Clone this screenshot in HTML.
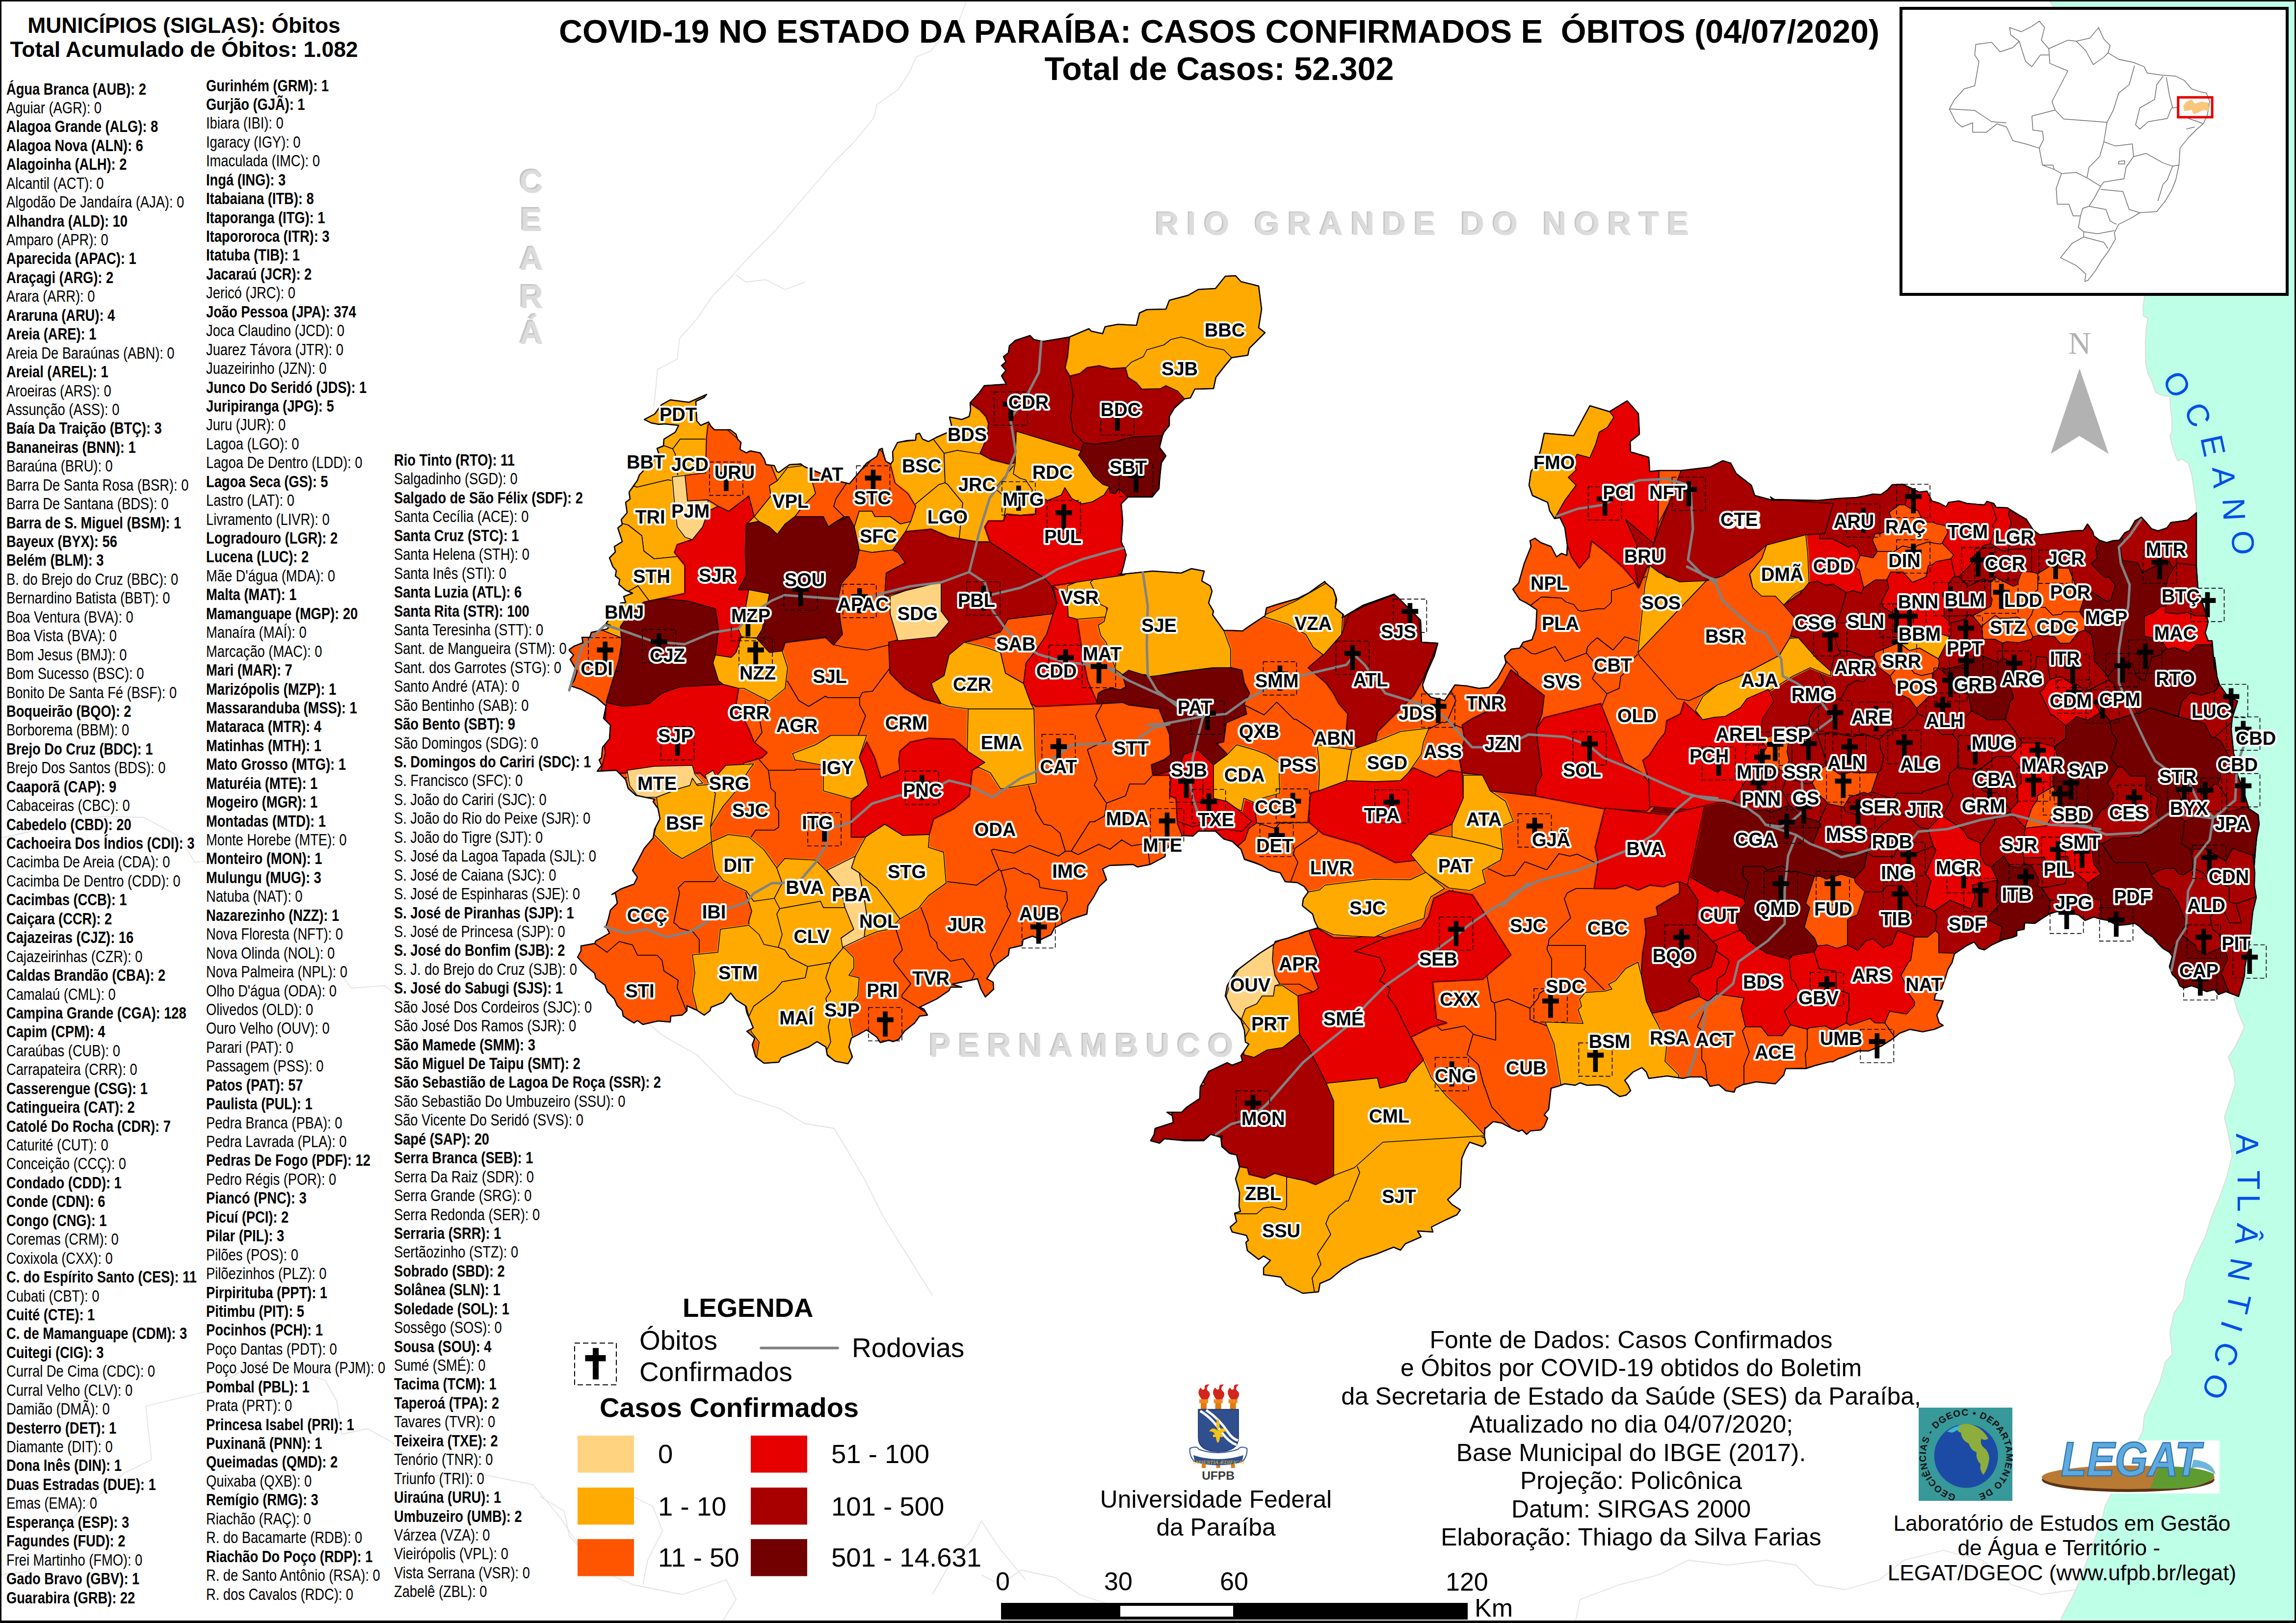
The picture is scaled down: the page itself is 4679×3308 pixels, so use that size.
<!DOCTYPE html>
<html><head><meta charset="utf-8"><title>COVID-19 PB</title><style>
html,body{margin:0;padding:0;background:#fff}
#pg{position:relative;width:4679px;height:3308px;overflow:hidden;background:#fff;font-family:"Liberation Sans",sans-serif;color:#000}
#pg svg{position:absolute;left:0;top:0}
.lst{position:absolute;font-size:33.5px;line-height:38.44px;white-space:nowrap;transform:scaleX(.814);transform-origin:0 0}
.lst .b{font-weight:bold}
.t{position:absolute;white-space:nowrap}
.c{text-align:center}
svg text{font-family:"Liberation Sans",sans-serif}
.lab text{font-size:38px;font-weight:bold;text-anchor:middle;fill:#000;stroke:#fff;stroke-width:8px;stroke-linejoin:round;paint-order:stroke}
</style></head><body>
<div id="pg">
<svg width="4679" height="3308" viewBox="0 0 4679 3308">
<path d="M4175,0 4185,14 4371,603 4367,624 4368,644 4377,649 4374,668 4372,698 4373,742 4377,761 4384,774 4393,800 4410,807 4422,808 4423,831 4426,854 4426,881 4422,888 4426,905 4433,928 4438,939 4447,936 4460,945 4467,970 4472,1005 4476,1032 4476,1046 4476,1045 4476,1154 4479,1201 4492,1240 4500,1267 4497,1280 4494,1290 4500,1306 4508,1306 4513,1364 4513,1340 4518,1379 4523,1395 4539,1418 4560,1429 4549,1463 4547,1486 4549,1507 4552,1536 4557,1549 4560,1580 4568,1601 4575,1622 4583,1648 4602,1661 4604,1680 4599,1706 4596,1732 4594,1764 4591,1740 4595,1779 4594,1805 4598,1829 4591,1858 4589,1876 4586,1907 4581,1939 4575,1970 4574,1988 4570,2004 4562,2031 4552,2033 4560,2061 4574,2094 4555,2133 4541,2155 4552,2183 4555,2211 4544,2244 4533,2277 4541,2311 4549,2355 4538,2399 4522,2444 4508,2477 4494,2521 4472,2566 4455,2610 4449,2649 4430,2677 4422,2716 4427,2760 4413,2776 4402,2815 4386,2851 4370,2885 4367,2916 4335,2980 4302,3046 4290,3069 4286,3088 4252,3184 4233,3234 4221,3260 4202,3295 4198,3308 L4679,3308 L4679,0 Z" fill="#BEFFE8"/>
<path d="M4175,0 4185,14 4371,603 4367,624 4368,644 4377,649 4374,668 4372,698 4373,742 4377,761 4384,774 4393,800 4410,807 4422,808 4423,831 4426,854 4426,881 4422,888 4426,905 4433,928 4438,939 4447,936 4460,945 4467,970 4472,1005 4476,1032 4476,1046 4476,1045 4476,1154 4479,1201 4492,1240 4500,1267 4497,1280 4494,1290 4500,1306 4508,1306 4513,1364 4513,1340 4518,1379 4523,1395 4539,1418 4560,1429 4549,1463 4547,1486 4549,1507 4552,1536 4557,1549 4560,1580 4568,1601 4575,1622 4583,1648 4602,1661 4604,1680 4599,1706 4596,1732 4594,1764 4591,1740 4595,1779 4594,1805 4598,1829 4591,1858 4589,1876 4586,1907 4581,1939 4575,1970 4574,1988 4570,2004 4562,2031 4552,2033 4560,2061 4574,2094 4555,2133 4541,2155 4552,2183 4555,2211 4544,2244 4533,2277 4541,2311 4549,2355 4538,2399 4522,2444 4508,2477 4494,2521 4472,2566 4455,2610 4449,2649 4430,2677 4422,2716 4427,2760 4413,2776 4402,2815 4386,2851 4370,2885 4367,2916 4335,2980 4302,3046 4290,3069 4286,3088 4252,3184 4233,3234 4221,3260 4202,3295 4198,3308" fill="none" stroke="#DCDCDC" stroke-width="2"/>
<text x="2352.0" y="476.7" font-size="66" letter-spacing="16.6" font-weight="bold" fill="#C6C6C6" text-anchor="start">RIO GRANDE DO NORTE</text><text x="2355.0" y="479.2" font-size="66" letter-spacing="16.6" font-weight="bold" fill="#DCDCDC" text-anchor="start">RIO GRANDE DO NORTE</text><text x="1891.0" y="2151.0" font-size="66" letter-spacing="15.5" font-weight="bold" fill="#C6C6C6" text-anchor="start">PERNAMBUCO</text><text x="1894.0" y="2153.5" font-size="66" letter-spacing="15.5" font-weight="bold" fill="#DCDCDC" text-anchor="start">PERNAMBUCO</text><text x="1080.0" y="390.0" font-size="66" letter-spacing="0.0" font-weight="bold" fill="#C6C6C6" text-anchor="middle">C</text><text x="1083.0" y="392.5" font-size="66" letter-spacing="0.0" font-weight="bold" fill="#DCDCDC" text-anchor="middle">C</text><text x="1080.0" y="468.0" font-size="66" letter-spacing="0.0" font-weight="bold" fill="#C6C6C6" text-anchor="middle">E</text><text x="1083.0" y="470.5" font-size="66" letter-spacing="0.0" font-weight="bold" fill="#DCDCDC" text-anchor="middle">E</text><text x="1080.0" y="547.0" font-size="66" letter-spacing="0.0" font-weight="bold" fill="#C6C6C6" text-anchor="middle">A</text><text x="1083.0" y="549.5" font-size="66" letter-spacing="0.0" font-weight="bold" fill="#DCDCDC" text-anchor="middle">A</text><text x="1080.0" y="625.0" font-size="66" letter-spacing="0.0" font-weight="bold" fill="#C6C6C6" text-anchor="middle">R</text><text x="1083.0" y="627.5" font-size="66" letter-spacing="0.0" font-weight="bold" fill="#DCDCDC" text-anchor="middle">R</text><text x="1080.0" y="698.0" font-size="66" letter-spacing="0.0" font-weight="bold" fill="#C6C6C6" text-anchor="middle">Á</text><text x="1083.0" y="700.5" font-size="66" letter-spacing="0.0" font-weight="bold" fill="#DCDCDC" text-anchor="middle">Á</text><g fill="none" stroke="#E2E2E2" stroke-width="1.8" stroke-linejoin="round"><path d="M1495,560 1453,602 1421,649 1385,690 1380,732 1340,753 1335,806 1332,830"/><path d="M1500,560 1520,575 1560,570 1600,590 1640,575"/><path d="M1970,0 1952,49 1921,73 1897,104 1867,116 1854,146 1830,183 1787,213 1781,240 1740,290 1700,330 1640,400 1580,470 1530,520 1494,560"/><path d="M0,1708 209,1664 293,1666 366,1705 397,1758 418,1755"/><path d="M700,1993 716,2014 784,2009 836,2050 878,2150"/><path d="M297,2866 417,2837 537,2769 663,2814 686,2855 697,2923 749,2912 800,2940 858,3009 972,3003 1086,3026 1143,3095 1200,3180"/><path d="M297,2866 309,2975 252,3003 114,3123 57,3203 0,3209"/><path d="M1290,2060 1350,2110 1420,2150 1500,2230 1590,2260 1640,2290 1700,2300 1760,2400 1800,2480 1850,2560 1900,2640"/><path d="M1100,3050 1150,3080 1160,3130 1220,3200 1290,3230 1390,3250 1480,3220 1500,3260 1470,3308"/><path d="M1290,3050 1330,3070 1350,3120 1320,3180 1310,3230"/><path d="M2000,3210 2040,3230 2080,3200 2150,3215 2200,3250 2260,3270 2300,3308"/><path d="M1900,3250 1940,3180 1980,3140 2000,3100 2040,3160 2090,3220"/><path d="M3210,3308 3220,3260 3300,3230 3380,3210 3440,3180 3520,3190 3600,3180 3660,3190 3700,3230 3760,3240 3830,3220 3880,3180 3960,3160 4040,3180 4100,3230 4160,3250 4230,3240"/></g>
<text transform="translate(4437.0,783.0) rotate(62)" x="0" y="23" text-anchor="middle" font-size="64" fill="#0050E6">O</text>
<text transform="translate(4479.7,845.0) rotate(66)" x="0" y="23" text-anchor="middle" font-size="64" fill="#0050E6">C</text>
<text transform="translate(4510.7,908.0) rotate(78)" x="0" y="23" text-anchor="middle" font-size="64" fill="#0050E6">E</text>
<text transform="translate(4532.7,973.0) rotate(86)" x="0" y="23" text-anchor="middle" font-size="64" fill="#0050E6">A</text>
<text transform="translate(4553.4,1038.0) rotate(87)" x="0" y="23" text-anchor="middle" font-size="64" fill="#0050E6">N</text>
<text transform="translate(4571.6,1106.0) rotate(86)" x="0" y="23" text-anchor="middle" font-size="64" fill="#0050E6">O</text>
<text transform="translate(4579.8,2331.7) rotate(90)" x="0" y="23" text-anchor="middle" font-size="64" fill="#0050E6">A</text>
<text transform="translate(4582.5,2405.0) rotate(90)" x="0" y="23" text-anchor="middle" font-size="64" fill="#0050E6">T</text>
<text transform="translate(4582.5,2452.0) rotate(90)" x="0" y="23" text-anchor="middle" font-size="64" fill="#0050E6">L</text>
<text transform="translate(4579.8,2516.0) rotate(96)" x="0" y="23" text-anchor="middle" font-size="64" fill="#0050E6">Â</text>
<text transform="translate(4566.0,2588.0) rotate(100)" x="0" y="23" text-anchor="middle" font-size="64" fill="#0050E6">N</text>
<text transform="translate(4563.0,2657.0) rotate(103)" x="0" y="23" text-anchor="middle" font-size="64" fill="#0050E6">T</text>
<text transform="translate(4549.0,2704.0) rotate(108)" x="0" y="23" text-anchor="middle" font-size="64" fill="#0050E6">I</text>
<text transform="translate(4538.0,2760.0) rotate(110)" x="0" y="23" text-anchor="middle" font-size="64" fill="#0050E6">C</text>
<text transform="translate(4516.0,2826.4) rotate(113)" x="0" y="23" text-anchor="middle" font-size="64" fill="#0050E6">O</text>
<polygon points="4238,751 4179,925 4237.5,888.5 4297,925" fill="#B2B2B2"/>
<text x="4238" y="721" text-anchor="middle" font-size="64" fill="#B2B2B2" style="font-family:'Liberation Serif',serif">N</text>
<g stroke="#000" stroke-width="1.6" stroke-linejoin="round">
<path d="M1418,818 1435,810 1440,804 1404,820 1366,815 1348,825 1334,844 1313,855 1327,862 1343,865 1355,864 1383,867 1376,881 1353,895 1352,908 1371,915 1386,895 1503,895 1500,885 1488,876 1456,876 1449,869 1444,860 1428,867 1420,858Z" fill="#FFAA00"/>
<path d="M1383,982 1376,925 1371,915 1352,908 1339,914 1343,926 1303,968 1299,979 1291,990 1298,993 1361,978Z" fill="#FFAA00"/>
<path d="M1376,925 1383,982 1440,1039 1582,1089 1620,1069 1633,946 1632,945 1609,947 1587,963 1583,961 1578,949 1561,947 1557,935 1549,923 1529,919 1521,923 1508,916 1510,902 1503,895 1386,895 1371,915Z" fill="#FFAA00"/>
<path d="M1383,982 1361,978 1298,993 1291,990 1282,1003 1284,1017 1275,1024 1278,1045 1266,1059 1268,1067 1280,1070 1308,1092 1312,1123 1333,1139 1560,1117 1582,1089 1440,1039Z" fill="#FFAA00"/>
<path d="M1280,1070 1268,1067 1268,1069 1259,1076 1268,1104 1252,1114 1254,1125 1242,1137 1249,1155 1256,1163 1254,1174 1263,1181 1261,1191 1275,1203 1281,1205 1300,1194 1407,1337 1452,1299 1462,1292 1560,1117 1333,1139 1312,1123 1308,1092Z" fill="#FFAA00"/>
<path d="M1805,940 1798,914 1792,916 1787,930 1766,944 1731,986 1714,982 1639,951 1633,946 1620,1069 1712,1133 1734,1137 1913,988 1926,984 1924,924 1902,895 1892,900 1880,895 1874,883 1867,885 1866,897 1829,902 1819,921 1820,939 1815,945Z" fill="#FFAA00"/>
<path d="M1931,987 1926,984 1913,988 1734,1137 1942,1227 1962,1025Z" fill="#FFAA00"/>
<path d="M1398,1346 1407,1337 1300,1194 1281,1205 1289,1209 1271,1216 1275,1228 1265,1229 1235,1271 1244,1275 1237,1282 1226,1284 1271,1302 1339,1315Z" fill="#FFAA00"/>
<path d="M1398,1346 1339,1315 1271,1302 1226,1284 1205,1289 1202,1299 1186,1299 1188,1310 1170,1317 1160,1324 1160,1326 1169,1335 1162,1344 1176,1368 1170,1387 1163,1398 1184,1405 1216,1422 1235,1439 1230,1464 1244,1478 1242,1506 1228,1523 1226,1544 1221,1549 1226,1560 1217,1572 1256,1570 1272,1586 1335,1570 1364,1532 1375,1472 1380,1395Z" fill="#FF5500"/>
<path d="M2278,661 2252,666 2247,680 2224,675 2219,670 2179,687 2125,696 2107,692 2099,684 2069,694 2057,705 2055,719 2045,727 2050,738 2046,740 2112,851 2132,866 2204,906 2233,918 2308,961 2359,998 2362,996 2367,943 2376,929 2363,912 2369,888 2372,881 2383,867 2383,849 2393,832 2414,813 2426,811 2435,793 2473,792 2478,769 2510,729 2543,724 2546,710 2578,678 2565,668 2571,630 2565,583 2529,574 2518,562 2497,563 2477,588 2442,590 2421,602 2383,612 2376,630 2337,631 2322,638 2316,663Z" fill="#FFAA00"/>
<path d="M2112,851 2047,740 2041,745 2050,755 2041,766 2051,783 2006,786 1996,800 1977,821 1978,835 1975,849 1960,855 1935,850 1939,867 1932,881 1902,895 1924,924 1951,918 2009,928 2102,857Z" fill="#FFAA00"/>
<path d="M2132,866 2028,996 2051,1015 2052,1018 2045,1062 2084,1200 2251,1075 2287,1052 2285,1027 2299,1013 2347,1013 2359,998 2308,961 2233,918 2204,906Z" fill="#FFAA00"/>
<path d="M2132,866 2112,851 2102,857 2009,927 1951,918 1924,924 1926,984 1931,987 1962,1025 1942,1227 1980,1258 2001,1265 2015,1267 2062,1224 2084,1200 2045,1062 2052,1018 2051,1015 2028,996Z" fill="#FFAA00"/>
<path d="M1560,1117 1462,1292 1550,1362 1554,1367 1605,1389 1628,1428 1648,1440 1682,1419 1687,1422 1752,1422 1758,1411 1778,1409 1817,1357 1879,1338 1903,1325 1980,1258 1942,1227 1734,1137 1712,1133 1620,1069 1582,1089Z" fill="#FF5500"/>
<path d="M1550,1362 1462,1292 1452,1299 1407,1337 1398,1346 1380,1395 1375,1472 1364,1532 1457,1544 1521,1537 1553,1493 1546,1455 1560,1433 1554,1367Z" fill="#FF5500"/>
<path d="M1560,1433 1546,1455 1553,1493 1521,1537 1546,1547 1566,1570 1621,1570 1622,1568 1729,1568 1730,1550 1730,1549 1764,1459 1752,1437 1752,1422 1687,1422 1682,1419 1648,1440 1628,1428 1605,1389 1554,1367Z" fill="#FF5500"/>
<path d="M1521,1537 1457,1544 1364,1532 1335,1570 1343,1588 1373,1672 1375,1676 1505,1756 1508,1741 1540,1692 1578,1692 1587,1686 1587,1653 1580,1644 1580,1615 1571,1607 1566,1570 1546,1547Z" fill="#FF5500"/>
<path d="M1571,1607 1580,1615 1580,1644 1587,1653 1587,1686 1578,1692 1540,1692 1508,1741 1505,1757 1533,1775 1578,1774 1596,1779 1642,1808 1675,1851 1693,1845 1729,1824 1787,1813 1845,1769 1853,1758 1861,1730 1862,1706 1855,1677 1808,1659 1775,1633 1729,1571 1729,1568 1622,1568 1621,1570 1566,1570Z" fill="#FF5500"/>
<path d="M1778,1409 1758,1411 1752,1422 1752,1437 1764,1459 1730,1549 1730,1550 1729,1571 1775,1633 1808,1659 1855,1677 1885,1629 1909,1578 1962,1560 1973,1551 2031,1523 2048,1428 2034,1296 2015,1267 2001,1265 1980,1258 1903,1325 1879,1338 1817,1357Z" fill="#FF5500"/>
<path d="M1296,1621 1334,1629 1331,1634 1341,1648 1345,1669 1334,1690 1331,1708 1313,1729 1299,1756 1289,1774 1299,1788 1292,1802 1265,1812 1247,1823 1254,1820 1258,1841 1244,1855 1240,1872 1235,1888 1242,1902 1214,1918 1212,1923 1237,1941 1262,1919 1289,1926 1299,1947 1339,1947 1349,1957 1353,1979 1382,1998 1380,2013 1399,2061 1400,2060 1400,2050 1420,2059 1435,2069 1447,2060 1449,2053 1474,2043 1489,2024 1500,2038 1519,2050 1522,2064 1529,2080 1535,2095 1522,2102 1538,2116 1533,2130 1540,2154 1557,2167 1560,2167 1575,2092 1524,2016 1441,1980 1425,1958 1425,1915 1412,1899 1386,1892 1377,1883 1373,1881 1385,1819 1382,1810 1395,1797 1456,1797 1466,1784 1505,1757 1505,1756 1375,1676 1373,1672 1343,1588 1335,1570 1272,1586 1275,1589 1280,1607Z" fill="#FF5500"/>
<path d="M1385,1819 1373,1881 1377,1883 1386,1892 1412,1899 1425,1915 1425,1958 1441,1980 1524,2016 1513,1934 1528,1901 1526,1878 1532,1857 1520,1820 1533,1775 1505,1757 1466,1784 1456,1797 1395,1797 1382,1810Z" fill="#FF5500"/>
<path d="M1212,1923 1184,1928 1184,1938 1177,1951 1191,1966 1212,1984 1214,1994 1233,2008 1238,2022 1252,2036 1258,2050 1268,2060 1270,2071 1292,2085 1299,2080 1310,2088 1341,2081 1366,2083 1367,2071 1390,2069 1399,2061 1380,2013 1382,1998 1353,1979 1349,1957 1339,1947 1299,1947 1289,1926 1262,1919 1237,1941Z" fill="#FF5500"/>
<path d="M1520,1820 1532,1857 1526,1878 1528,1901 1513,1934 1524,2016 1575,2092 1632,2034 1636,2028 1646,1998 1673,1855 1675,1851 1642,1808 1596,1779 1578,1774 1533,1775Z" fill="#FFAA00"/>
<path d="M1787,1813 1815,1884 1826,1895 1839,1936 1822,1955 1821,1960 1856,2005 1838,2028 1838,2033 1886,2063 1883,2057 1874,2053 1909,2036 1934,2019 1937,2012 1960,2012 1940,2006 1980,1998 1986,1985 1963,1954 1937,1959 1911,1933 1909,1921 1896,1908 1891,1888 1891,1886 1845,1769Z" fill="#FF5500"/>
<path d="M1898,1793 1853,1758 1845,1769 1891,1886 1891,1888 1896,1908 1909,1921 1911,1933 1937,1959 1963,1954 1986,1985 1980,1998 1992,1995 1999,2016 2008,2032 2025,2016 2024,2002 2011,1995 2027,1971 2018,1945 2060,1862 2052,1847 2053,1843 2048,1829 2051,1813 2040,1775 2036,1772 1990,1804Z" fill="#FF5500"/>
<path d="M1787,1813 1729,1824 1693,1845 1675,1851 1672,1855 1646,1998 1636,2028 1632,2034 1575,2092 1560,2167 1587,2165 1592,2156 1648,2134 1665,2123 1683,2134 1686,2151 1702,2163 1728,2168 1737,2154 1730,2134 1735,2116 1766,2099 1787,2114 1794,2125 1812,2120 1820,2123 1832,2118 1843,2102 1864,2085 1874,2071 1890,2069 1886,2063 1838,2033 1838,2028 1856,2005 1821,1960 1822,1955 1839,1936 1826,1895 1815,1884Z" fill="#FF5500"/>
<path d="M2015,1267 2034,1296 2162,1382 2176,1407 2246,1435 2257,1428 2273,1430 2387,1359 2395,1351 2383,1292 2405,1168 2349,1164 2280,1171 2285,1170 2295,1131 2290,1114 2290,1117 2285,1104 2288,1062 2287,1052 2251,1075 2084,1200 2062,1224ZM2348,1013 2348,1013 2347,1013Z" fill="#FF5500"/>
<path d="M2034,1296 2048,1428 2031,1523 2075,1559 2080,1570 2086,1574 2111,1647 2110,1652 2127,1680 2142,1683 2160,1698 2171,1735 2183,1735 2221,1675 2230,1675 2251,1663 2255,1637 2230,1600 2236,1588 2216,1528 2254,1509 2233,1459 2246,1435 2176,1407 2163,1382Z" fill="#FF5500"/>
<path d="M2437,1404 2395,1351 2387,1359 2273,1430 2257,1428 2246,1435 2233,1459 2254,1509 2216,1528 2236,1588 2230,1600 2255,1637 2294,1622 2302,1598 2333,1598 2369,1558 2437,1544 2439,1543 2437,1534Z" fill="#FF5500"/>
<path d="M2561,1677 2557,1647 2530,1580 2530,1576 2514,1566 2488,1563 2439,1543 2437,1544 2403,1622 2408,1643 2399,1678 2409,1704 2410,1703 2431,1704 2442,1694 2477,1694 2494,1710 2511,1715 2522,1725 2537,1712 2545,1689Z" fill="#E60000"/>
<path d="M2524,1431 2520,1431 2462,1405 2437,1403 2437,1534 2439,1543 2488,1563 2514,1566 2530,1576 2599,1576 2623,1565 2694,1565 2681,1502 2674,1488 2641,1466 2637,1466 2602,1431 2576,1457Z" fill="#FF5500"/>
<path d="M2668,1208 2644,1220 2581,1239 2578,1255 2532,1286 2494,1285 2471,1253 2473,1246 2463,1229 2470,1205 2466,1194 2449,1184 2454,1164 2428,1159 2407,1168 2405,1168 2383,1292 2395,1351 2437,1404 2462,1405 2520,1431 2524,1431 2576,1457 2602,1431 2637,1466 2641,1466 2674,1488 2681,1502 2694,1565 2762,1604 2778,1445 2787,1427 2784,1387 2744,1340 2737,1314 2714,1284 2684,1196Z" fill="#FF5500"/>
<path d="M2599,1576 2530,1576 2530,1580 2557,1647 2561,1677 2599,1689 2608,1677 2694,1677 2717,1645 2762,1605 2694,1565 2623,1565Z" fill="#FF5500"/>
<path d="M2369,1558 2333,1598 2302,1598 2294,1622 2255,1637 2251,1663 2230,1675 2221,1675 2183,1735 2197,1742 2239,1721 2262,1731 2286,1712 2306,1724 2338,1719 2347,1711 2383,1725 2409,1704 2399,1678 2408,1643 2403,1622 2437,1544Z" fill="#FF5500"/>
<path d="M2075,1559 2031,1522 1973,1551 1962,1560 1909,1578 1885,1629 1855,1677 1862,1706 1861,1730 1853,1758 1898,1793 1990,1804 2036,1772 2020,1733 2025,1731 2067,1739 2097,1725 2098,1723 2157,1745 2171,1735 2160,1698 2142,1683 2127,1680 2110,1652 2111,1647 2087,1574 2080,1570Z" fill="#FF5500"/>
<path d="M2347,1711 2338,1719 2343,1762 2374,1746 2376,1731 2383,1725Z" fill="#FF5500"/>
<path d="M2020,1733 2036,1772 2040,1775 2067,1769 2089,1781 2097,1781 2117,1794 2119,1809 2174,1818 2175,1835 2161,1863 2165,1883 2184,1873 2215,1863 2217,1846 2229,1828 2240,1807 2255,1793 2247,1771 2261,1764 2309,1762 2318,1767 2343,1762 2338,1719 2306,1724 2286,1712 2262,1731 2239,1721 2197,1742 2183,1735 2171,1735 2157,1745 2098,1723 2097,1724 2067,1739 2025,1731Z" fill="#FF5500"/>
<path d="M2048,1829 2053,1843 2052,1847 2060,1862 2018,1945 2027,1971 2032,1964 2055,1947 2057,1933 2083,1927 2085,1915 2104,1908 2121,1915 2142,1905 2149,1891 2165,1883 2161,1863 2175,1835 2174,1818 2119,1809 2117,1794 2097,1781 2089,1781 2067,1769 2040,1775 2051,1813Z" fill="#FF5500"/>
<path d="M2683,1699 2694,1677 2608,1677 2599,1689 2561,1677 2545,1689 2537,1712 2522,1725 2529,1731 2536,1752 2571,1764 2588,1774 2609,1779 2619,1797 2630,1798 2645,1758 2636,1740 2639,1729ZM2518,1980 2501,2009 2497,2030 2511,2058 2521,2069 2573,1939Z" fill="#FF5500"/>
<path d="M2683,1699 2639,1729 2636,1740 2645,1758 2630,1798 2644,1799 2658,1807 2666,1818 2656,1832 2654,1846 2675,1863 2679,1877 2686,1891 2653,1901 2625,1912 2599,1919 2597,1924 2573,1939 2521,2069 2529,2079 2531,2086 2595,2098 2728,2010 2781,1947 2840,1914 2887,1897 2920,1890 2950,1849 2981,1747 2979,1706 2969,1684 2905,1663 2860,1659 2845,1655 2796,1617 2783,1614 2762,1605 2717,1645 2694,1677Z" fill="#FF5500"/>
<path d="M2615,2466 2619,2465 2622,2459 2622,2221 2631,2158 2630,2144 2595,2098 2531,2086 2536,2100 2538,2124 2545,2128 2529,2152 2532,2163 2511,2171 2501,2166 2463,2184 2446,2215 2445,2239 2418,2257 2408,2267 2378,2267 2389,2274 2391,2288 2354,2300 2352,2312 2345,2325 2363,2330 2373,2321 2415,2325 2453,2325 2467,2312 2488,2318 2490,2337 2506,2351 2520,2354 2526,2379 2518,2403 2526,2431 2525,2459 2528,2469 2516,2473 2516,2474 2561,2474 2575,2462 2593,2460Z" fill="#FFAA00"/>
<path d="M2615,2466 2593,2460 2575,2462 2561,2474 2516,2474 2520,2490 2507,2501 2511,2511 2540,2518 2544,2528 2539,2532 2542,2549 2565,2567 2575,2560 2589,2569 2575,2584 2575,2598 2610,2603 2621,2619 2655,2636 2679,2634 2674,2605 2692,2577 2685,2556 2712,2516 2702,2494 2709,2477 2743,2448 2748,2448 2771,2390 2687,2180 2630,2144 2631,2158 2622,2221 2622,2459 2619,2465Z" fill="#FFAA00"/>
<path d="M2743,2448 2709,2477 2702,2494 2712,2516 2685,2556 2692,2577 2674,2605 2679,2634 2687,2633 2690,2616 2711,2607 2736,2586 2770,2567 2805,2556 2840,2542 2854,2548 2864,2535 2896,2521 2889,2509 2920,2511 2917,2501 2945,2487 2969,2476 2976,2466 2959,2455 2950,2445 2976,2420 2979,2361 2986,2344 2995,2328 3021,2337 3028,2330 3026,2320 2971,2295 2949,2295 2923,2281 2907,2279 2760,2211 2687,2180 2771,2390 2748,2448Z" fill="#FFAA00"/>
<path d="M2687,2180 2760,2211 2907,2279 2923,2281 2949,2295 2971,2295 3026,2320 3025,2316 3026,2299 3027,2300 3043,2286 3060,2289 3081,2300 3040,2256 3025,2213 3024,2212 3013,2170 2990,2149 3002,2108 3001,2106 2985,2091 2938,2100 2894,2062 2727,2010 2595,2098 2630,2144Z" fill="#FF5500"/>
<path d="M3185,2103 3118,2078 3118,2055 3073,2036 3045,2044 3047,2060 3048,2063 3048,2120 3002,2108 2990,2149 3013,2170 3024,2212 3025,2213 3040,2256 3081,2300 3095,2306 3102,2303 3111,2312 3119,2305 3140,2303 3147,2296 3154,2279 3147,2272 3156,2261 3161,2218 3175,2214 3189,2209 3210,2212 3220,2207 3234,2212 3259,2211 3276,2216 3287,2226 3296,2232 3293,2180 3289,2166 3205,2130Z" fill="#FF5500"/>
<path d="M2853,1222 2841,1211 2777,1234 2735,1259 2738,1253 2721,1239 2724,1222 2717,1201 2700,1187 2700,1185 2684,1196 2714,1284 2737,1314 2744,1340 2784,1387 2841,1370 2861,1373 2865,1372 2906,1376 2923,1337 2930,1311 2897,1309 2895,1264Z" fill="#A80000"/>
<path d="M2944,1473 2949,1471 2967,1428 2957,1408 2944,1428 2916,1421 2902,1407 2899,1396 2906,1376 2865,1372 2861,1373 2841,1370 2784,1387 2787,1427 2778,1445 2762,1604 2762,1605 2783,1614 2796,1617 2864,1531 2878,1519 2881,1502 2939,1472Z" fill="#FF5500"/>
<path d="M3068,1346 3069,1351 3052,1382 3034,1401 3014,1403 2989,1398 2965,1396 2957,1408 2967,1428 2949,1471 3050,1513 3083,1528 3084,1481 3102,1413 3093,1371Z" fill="#FF5500"/>
<path d="M2949,1471 2944,1473 2939,1472 2881,1502 2878,1519 2864,1531 2796,1617 2845,1655 2860,1659 2905,1663 2969,1684 3041,1592 3052,1583 3088,1535 3083,1527 3050,1513Z" fill="#FF5500"/>
<path d="M3263,1582 3201,1550 3185,1552 3179,1549 3088,1535 3052,1583 3041,1592 2969,1684 2979,1706 2981,1747 3066,1786 3087,1784 3107,1757 3109,1757 3152,1773 3177,1740 3199,1745 3214,1741 3280,1772 3339,1743 3359,1712 3359,1676 3355,1664 3345,1658Z" fill="#FF5500"/>
<path d="M3240,827 3207,888 3147,883 3140,916 3130,947 3120,961 3116,989 3123,1010 3154,1024 3158,1041 3168,1057 3179,1055 3189,1076 3194,1111 3193,1132 3182,1128 3172,1135 3161,1114 3140,1106 3128,1097 3118,1102 3120,1114 3106,1149 3095,1188 3083,1201 3097,1222 3119,1234 3136,1221 3141,1217 3152,1217 3182,1219 3191,1227 3206,1232 3216,1244 3224,1246 3255,1241 3269,1241 3280,1232 3284,1227 3284,1204 3315,1195 3492,1107 3490,1092 3461,968 3460,955 3426,959 3381,959 3362,961 3360,932 3323,921 3322,900 3341,885 3339,843 3316,817 3280,839Z" fill="#FF5500"/>
<path d="M3136,1221 3119,1234 3132,1243 3130,1281 3122,1304 3104,1309 3100,1316 3121,1332 3129,1333 3169,1318 3189,1348 3233,1331 3235,1319 3243,1310 3255,1300 3287,1325 3311,1298 3358,1313 3508,1283 3522,1244 3514,1215 3511,1187 3492,1107 3315,1195 3284,1204 3284,1227 3280,1232 3269,1241 3255,1241 3224,1246 3216,1244 3207,1232 3191,1227 3182,1219 3141,1217Z" fill="#FF5500"/>
<path d="M3097,1321 3080,1323 3066,1337 3068,1346 3093,1371 3102,1413 3084,1481 3083,1528 3088,1535 3179,1549 3185,1552 3201,1550 3249,1479 3249,1477 3275,1414 3245,1383 3255,1364 3254,1356 3233,1331 3189,1348 3169,1318 3129,1333 3121,1332 3100,1316Z" fill="#FF5500"/>
<path d="M3358,1313 3311,1298 3287,1325 3255,1300 3243,1310 3235,1319 3233,1331 3254,1356 3255,1364 3245,1383 3275,1414 3300,1403 3303,1379 3314,1368 3315,1356Z" fill="#FF5500"/>
<path d="M3358,1313 3315,1356 3314,1368 3303,1379 3300,1403 3275,1414 3249,1477 3249,1479 3201,1550 3263,1583 3345,1658 3355,1664 3451,1563 3455,1557 3481,1541 3496,1525 3499,1520 3507,1417 3501,1375 3499,1327 3508,1291 3508,1283Z" fill="#FF5500"/>
<path d="M3791,1132 3785,1118 3776,1112 3767,1115 3736,1099 3735,1098 3708,1098 3708,1055 3645,1019 3616,1018 3608,1013 3614,1020 3576,1010 3569,989 3538,965 3533,955 3508,940 3485,952 3460,955 3461,968 3490,1092 3492,1107 3511,1187 3514,1215 3522,1244 3652,1272 3685,1258 3715,1224 3776,1204 3793,1209 3799,1198 3789,1162 3781,1157Z" fill="#E60000"/>
<path d="M3705,1020 3645,1019 3708,1055 3708,1098 3735,1098 3736,1099 3767,1115 3776,1112 3785,1118 3791,1132 3817,1137 3826,1124 3816,1101 3821,1088 3831,1088 3860,1077 3850,1044 3870,1029 3882,1029 3892,994 3877,987 3856,988 3846,999 3833,1008 3817,1007 3783,1014 3746,1016ZM3511,939 3508,941 3533,955 3527,944Z" fill="#A80000"/>
<path d="M3861,1076 3831,1088 3821,1088 3816,1101 3826,1124 3853,1124 3857,1126 3877,1113 3902,1118 3907,1112 3928,1105 3954,1109 3958,1107 3970,1085 3964,1071 3944,1067 3940,1064 3920,1064 3909,1041 3891,1035 3882,1029 3870,1029 3850,1044Z" fill="#FF5500"/>
<path d="M3907,1112 3902,1118 3877,1113 3857,1126 3853,1124 3826,1124 3817,1137 3791,1132 3781,1157 3789,1162 3798,1198 3822,1182 3845,1182 3853,1166 3878,1166 3897,1187 3925,1176 3930,1153 3938,1151 3945,1145 3976,1139 3982,1131 3958,1107 3954,1109 3928,1105Z" fill="#FF5500"/>
<path d="M3909,1041 3920,1064 3940,1064 3944,1067 3964,1071 3970,1085 3958,1107 3981,1131 3976,1139 3984,1175 3992,1175 4019,1148 4021,1134 4027,1132 4042,1112 4056,1108 4065,1080 4060,1071 4069,1058 4058,1025 4049,1022 4044,1029 4008,1026 3992,1021 3971,1024 3966,1033 3953,1026 3937,1021 3927,1001 3911,1003 3892,994 3882,1029 3891,1035Z" fill="#E60000"/>
<path d="M3849,1198 3834,1227 3838,1238 3868,1256 3868,1286 3870,1291 3907,1286 3920,1301 3937,1301 3945,1289 3973,1298 3976,1296 3976,1270 3962,1257 3962,1240 3982,1231 3985,1221 3970,1191 3980,1177 3984,1175 3976,1139 3945,1145 3938,1151 3930,1153 3925,1176 3897,1187 3878,1166 3853,1166 3845,1182Z" fill="#E60000"/>
<path d="M4099,1067 4093,1047 4096,1038 4091,1035 4068,1034 4063,1026 4058,1025 4069,1058 4060,1071 4065,1080 4056,1108 4081,1123 4091,1122 4100,1096 4092,1083Z" fill="#E60000"/>
<path d="M4092,1120 4140,1118 4141,1120 4140,1121 4140,1166 4153,1169 4179,1153 4186,1158 4216,1158 4232,1199 4264,1207 4293,1226 4302,1223 4311,1193 4298,1175 4290,1177 4262,1149 4273,1138 4274,1132 4271,1118 4279,1101 4267,1092 4265,1084 4254,1068 4246,1081 4225,1082 4157,1090 4144,1081 4129,1058 4096,1038 4093,1047 4099,1067 4092,1083 4100,1096Z" fill="#A80000"/>
<path d="M4026,1132 4021,1134 4019,1148 3992,1175 4012,1195 4041,1180 4057,1185 4067,1177 4103,1195 4110,1193 4119,1168 4122,1165 4140,1166 4140,1121 4141,1120 4140,1118 4092,1120 4091,1122 4081,1123 4056,1108 4042,1112Z" fill="#A80000"/>
<path d="M3984,1175 3980,1177 3970,1191 3985,1221 3982,1231 3962,1240 3962,1257 3976,1270 4005,1262 4011,1254 4013,1253 4020,1255 4057,1236 4060,1221 4057,1217 4057,1185 4041,1180 4012,1195 3992,1175Z" fill="#A80000"/>
<path d="M4103,1195 4067,1177 4057,1185 4057,1217 4060,1221 4057,1236 4020,1255 4038,1277 4066,1254 4074,1260 4092,1260 4111,1258 4130,1267 4140,1254 4145,1238 4139,1224 4141,1211 4153,1202 4153,1169 4140,1166 4122,1165 4119,1168 4110,1192Z" fill="#FF5500"/>
<path d="M4216,1158 4186,1158 4179,1153 4153,1169 4153,1202 4141,1211 4139,1224 4145,1238 4168,1238 4183,1254 4201,1252 4205,1247 4238,1247 4252,1205 4232,1199Z" fill="#FF5500"/>
<path d="M4111,1258 4092,1260 4074,1260 4066,1254 4038,1277 4041,1303 4065,1303 4081,1311 4089,1308 4114,1310 4140,1303 4143,1298 4131,1272 4130,1267Z" fill="#FF5500"/>
<path d="M4145,1238 4140,1253 4130,1267 4131,1272 4143,1298 4155,1295 4182,1297 4187,1298 4198,1311 4218,1311 4235,1289 4249,1284 4249,1263 4238,1247 4205,1247 4201,1252 4183,1254 4168,1238Z" fill="#FF5500"/>
<path d="M3976,1270 3976,1296 3973,1298 3950,1343 3952,1348 3950,1362 3957,1366 4020,1351 4023,1330 4072,1350 4081,1341 4081,1311 4065,1303 4041,1303 4038,1277 4020,1255 4013,1253 4011,1254 4005,1262Z" fill="#A80000"/>
<path d="M3776,1204 3715,1224 3685,1258 3652,1272 3687,1318 3773,1328 3801,1340 3819,1338 3821,1330 3870,1310 3870,1291 3868,1286 3868,1256 3838,1238 3834,1227 3849,1198 3845,1182 3822,1182 3798,1198 3793,1209Z" fill="#A80000"/>
<path d="M3870,1291 3871,1310 3891,1326 3912,1321 3950,1343 3973,1298 3945,1289 3937,1301 3920,1301 3907,1286Z" fill="#FFAA00"/>
<path d="M3821,1330 3819,1338 3826,1352 3827,1360 3852,1378 3865,1362 3893,1362 3901,1372 3916,1377 3938,1372 3950,1362 3952,1348 3949,1342 3912,1321 3891,1326 3870,1310Z" fill="#FF5500"/>
<path d="M3699,1347 3699,1352 3735,1425 3752,1425 3766,1397 3784,1387 3797,1390 3828,1360 3826,1352 3819,1338 3801,1340 3773,1328 3687,1318Z" fill="#A80000"/>
<path d="M4114,1310 4089,1308 4081,1311 4081,1341 4108,1355 4111,1370 4126,1376 4148,1362 4150,1338 4171,1340 4178,1385 4194,1381 4202,1381 4225,1396 4234,1396 4251,1410 4297,1386 4296,1378 4268,1347 4267,1337 4269,1334 4262,1293 4249,1284 4235,1289 4218,1311 4198,1311 4187,1298 4182,1297 4155,1295 4143,1298 4140,1303Z" fill="#A80000"/>
<path d="M4290,1177 4298,1175 4311,1193 4302,1223 4293,1226 4264,1207 4252,1205 4238,1247 4249,1263 4249,1284 4262,1293 4269,1334 4267,1337 4268,1347 4296,1378 4323,1345 4345,1353 4353,1379 4366,1386 4371,1386 4385,1340 4403,1335 4415,1322 4406,1304 4404,1303 4370,1297 4370,1256 4388,1249 4402,1237 4412,1236 4458,1201 4442,1186 4421,1145 4414,1143 4366,1167 4357,1147 4325,1142 4321,1116 4326,1098 4324,1095 4319,1101 4306,1102 4293,1106 4279,1101 4271,1118 4274,1132 4273,1138 4262,1149Z" fill="#730000"/>
<path d="M4476,1045 4458,1060 4424,1065 4416,1076 4398,1082 4385,1078 4364,1054 4351,1061 4340,1081 4330,1086 4324,1095 4326,1098 4321,1116 4325,1142 4357,1147 4366,1167 4414,1143 4421,1145 4442,1186 4458,1201 4480,1204 4476,1154Z" fill="#A80000"/>
<path d="M4500,1267 4480,1204 4458,1201 4412,1236 4402,1237 4388,1249 4370,1256 4370,1297 4404,1303 4405,1304 4415,1322 4420,1323 4431,1320 4460,1330 4476,1314 4508,1314 4508,1306 4500,1306 4494,1290Z" fill="#E60000"/>
<path d="M4403,1335 4385,1340 4371,1386 4366,1386 4354,1379 4345,1353 4323,1345 4296,1378 4297,1386 4308,1394 4309,1401 4325,1425 4343,1434 4356,1453 4358,1455 4382,1443 4439,1460 4446,1430 4464,1412 4487,1417 4515,1408 4523,1395 4518,1379 4513,1340 4513,1364 4508,1314 4476,1314 4460,1330 4431,1320 4420,1323 4415,1322Z" fill="#730000"/>
<path d="M3649,1485 3579,1511 3546,1517 3505,1520 3637,1573 3646,1550 3642,1532Z" fill="#FF5500"/>
<path d="M3706,1621 3719,1630 3724,1638 3757,1645 3769,1625 3798,1615 3807,1618 3814,1614 3827,1575 3778,1575 3775,1573 3751,1579 3721,1560 3706,1572 3693,1596Z" fill="#FF5500"/>
<path d="M3857,1393 3862,1397 3870,1414 3892,1425 3906,1444 3938,1412 3938,1372 3916,1377 3901,1372 3893,1362 3865,1362 3852,1378Z" fill="#FF5500"/>
<path d="M3451,1563 3355,1664 3359,1676 3359,1712 3427,1767 3432,1781 3500,1819 3507,1813 3554,1832 3563,1799 3552,1785 3552,1766 3593,1766 3602,1774 3632,1765 3649,1778 3659,1776 3698,1786 3709,1786 3722,1792 3752,1782 3779,1790 3799,1769 3805,1737 3760,1737 3743,1732 3735,1735 3693,1723 3710,1680 3707,1675 3664,1661 3664,1658 3652,1645 3646,1641 3608,1656 3599,1650 3569,1653 3545,1648 3481,1541 3458,1555Z" fill="#730000"/>
<path d="M4111,1370 4108,1355 4081,1341 4072,1350 4023,1330 4020,1350 3957,1366 3994,1403 3996,1408 4012,1417 4018,1449 4046,1463 4049,1467 4087,1467 4097,1428 4104,1423 4094,1390Z" fill="#730000"/>
<path d="M3929,1690 3940,1725 3945,1733 3925,1779 3925,1783 3935,1795 3922,1847 3942,1857 3974,1835 4015,1852 4017,1852 4025,1829 4019,1804 4071,1794 4058,1767 4045,1761 4036,1743 4036,1718 4011,1708 4000,1690 3959,1663 3955,1664Z" fill="#E60000"/>
<path d="M3508,1291 3499,1327 3501,1375 3507,1417 3499,1520 3546,1517 3579,1511 3649,1485 3686,1476 3688,1462 3700,1443 3735,1425 3699,1352 3699,1347 3687,1318 3652,1272 3522,1244 3508,1283Z" fill="#A80000"/>
<path d="M3828,1360 3797,1390 3784,1387 3766,1397 3751,1425 3735,1425 3700,1443 3688,1462 3686,1476 3705,1498 3734,1492 3777,1502 3795,1495 3830,1507 3849,1488 3880,1482 3908,1455 3906,1444 3892,1425 3870,1414 3862,1397 3857,1393 3852,1378Z" fill="#A80000"/>
<path d="M3957,1366 3950,1362 3938,1372 3938,1412 3906,1444 3908,1455 3920,1460 3957,1497 3979,1497 3986,1482 4018,1449 4012,1417 3996,1408 3994,1403Z" fill="#A80000"/>
<path d="M3986,1482 3979,1497 3990,1510 3990,1563 4030,1571 4059,1550 4060,1547 4069,1542 4098,1542 4121,1514 4103,1486 4087,1467 4049,1467 4046,1463 4018,1449Z" fill="#A80000"/>
<path d="M3908,1455 3880,1482 3849,1488 3830,1507 3833,1529 3839,1541 3833,1569 3827,1575 3814,1614 3858,1629 3866,1617 3917,1617 3918,1614 3970,1597 3973,1577 3990,1563 3990,1510 3979,1497 3957,1497 3920,1460Z" fill="#A80000"/>
<path d="M3830,1507 3795,1495 3777,1502 3734,1492 3705,1498 3705,1501 3722,1553 3721,1560 3751,1579 3775,1573 3778,1575 3827,1575 3833,1569 3839,1541 3833,1529Z" fill="#A80000"/>
<path d="M3705,1498 3686,1476 3649,1485 3642,1532 3646,1550 3637,1573 3638,1582 3640,1585 3682,1598 3693,1596 3706,1572 3721,1560 3722,1553 3705,1501Z" fill="#A80000"/>
<path d="M3640,1585 3632,1612 3646,1641 3652,1645 3664,1658 3664,1661 3707,1675 3724,1638 3719,1630 3706,1621 3693,1596 3682,1598Z" fill="#A80000"/>
<path d="M3496,1525 3481,1541 3545,1648 3569,1653 3599,1650 3608,1656 3646,1641 3632,1612 3604,1619 3582,1600 3579,1594Z" fill="#A80000"/>
<path d="M3496,1525 3579,1594 3582,1600 3604,1619 3632,1612 3640,1585 3638,1582 3637,1573 3505,1520 3499,1520Z" fill="#A80000"/>
<path d="M3781,1660 3800,1699 3813,1705 3838,1678 3844,1676 3862,1658 3858,1629 3814,1614 3807,1618 3798,1615 3769,1625 3757,1645 3761,1654Z" fill="#A80000"/>
<path d="M3959,1663 3980,1622 3970,1597 3918,1614 3917,1617 3866,1617 3858,1629 3862,1658 3889,1663 3912,1686 3929,1690 3955,1664Z" fill="#A80000"/>
<path d="M3970,1597 3980,1622 3959,1663 4000,1690 4011,1708 4036,1718 4040,1716 4065,1678 4065,1670 4096,1655 4097,1651 4069,1614 4055,1618 4039,1610 4030,1571 3990,1563 3973,1577Z" fill="#A80000"/>
<path d="M4120,1597 4120,1567 4098,1542 4069,1542 4060,1547 4059,1550 4030,1571 4039,1610 4055,1618 4069,1614 4097,1651 4112,1635 4112,1602Z" fill="#A80000"/>
<path d="M3710,1680 3693,1723 3735,1735 3743,1732 3760,1737 3805,1737 3814,1716 3813,1705 3801,1699 3781,1660 3761,1654 3757,1645 3724,1638 3707,1675Z" fill="#A80000"/>
<path d="M3889,1663 3862,1658 3844,1676 3838,1678 3813,1705 3814,1716 3805,1738 3818,1746 3860,1746 3863,1736 3878,1727 3896,1740 3901,1740 3940,1725 3929,1690 3912,1686Z" fill="#A80000"/>
<path d="M3863,1736 3860,1746 3818,1746 3805,1738 3799,1769 3779,1790 3781,1799 3800,1818 3835,1818 3845,1805 3877,1805 3903,1845 3917,1848 3922,1847 3935,1795 3925,1783 3925,1779 3945,1733 3940,1725 3901,1740 3896,1740 3878,1727Z" fill="#A80000"/>
<path d="M4040,1716 4036,1718 4036,1743 4045,1761 4058,1767 4084,1744 4095,1765 4116,1769 4125,1759 4124,1748 4122,1733 4130,1718 4125,1696 4128,1688 4127,1686 4096,1655 4065,1670 4065,1678Z" fill="#A80000"/>
<path d="M4560,1429 4539,1418 4523,1395 4515,1408 4487,1417 4464,1412 4446,1430 4439,1460 4439,1461 4492,1474 4507,1503 4513,1503 4547,1473 4548,1473 4549,1463Z" fill="#A80000"/>
<path d="M4526,1511 4546,1549 4525,1565 4525,1586 4519,1598 4538,1626 4538,1656 4582,1644 4575,1622 4560,1580 4557,1549 4552,1536 4547,1486 4548,1473 4547,1473 4513,1503Z" fill="#A80000"/>
<path d="M4358,1455 4356,1453 4300,1470 4304,1496 4310,1501 4314,1510 4302,1546 4316,1563 4326,1564 4342,1582 4373,1582 4373,1611 4398,1626 4393,1655 4400,1668 4397,1684 4355,1705 4348,1704 4340,1708 4306,1708 4283,1720 4309,1758 4372,1758 4385,1783 4394,1777 4412,1770 4431,1770 4441,1782 4450,1783 4470,1770 4465,1732 4445,1719 4447,1714 4452,1674 4435,1657 4445,1628 4433,1601 4455,1591 4488,1618 4493,1618 4512,1599 4519,1598 4525,1586 4525,1565 4546,1549 4526,1511 4513,1503 4507,1503 4492,1474 4439,1461 4382,1443Z" fill="#730000"/>
<path d="M4342,1582 4326,1564 4316,1563 4295,1596 4308,1621 4306,1627 4291,1648 4283,1649 4263,1680 4279,1720 4283,1720 4306,1708 4340,1708 4348,1704 4355,1705 4397,1684 4400,1668 4393,1655 4398,1626 4373,1611 4373,1582Z" fill="#A80000"/>
<path d="M4433,1601 4445,1628 4435,1657 4452,1674 4483,1662 4508,1668 4512,1671 4538,1655 4538,1626 4519,1598 4512,1599 4493,1618 4488,1618 4455,1591Z" fill="#A80000"/>
<path d="M4602,1661 4583,1648 4582,1644 4538,1655 4512,1671 4508,1668 4483,1662 4452,1674 4447,1714 4445,1719 4465,1732 4496,1730 4498,1733 4536,1755 4550,1729 4586,1743 4596,1743 4599,1706 4604,1680Z" fill="#730000"/>
<path d="M4550,1729 4536,1755 4498,1733 4496,1730 4465,1732 4470,1770 4490,1779 4502,1796 4509,1794 4543,1808 4543,1838 4557,1842 4598,1828 4594,1805 4595,1779 4591,1743 4586,1742ZM4596,1743 4591,1743 4594,1764Z" fill="#A80000"/>
<path d="M4308,1394 4297,1386 4251,1410 4252,1413 4277,1446 4279,1453 4292,1459 4300,1470 4356,1453 4343,1434 4325,1425 4309,1401Z" fill="#A80000"/>
<path d="M4251,1410 4234,1396 4225,1396 4202,1380 4194,1380 4178,1385 4172,1390 4164,1405 4157,1411 4180,1458 4184,1458 4210,1479 4232,1461 4255,1468 4279,1453 4277,1446 4252,1413Z" fill="#E60000"/>
<path d="M4171,1340 4150,1338 4148,1362 4126,1376 4111,1370 4094,1390 4104,1423 4097,1428 4087,1467 4103,1486 4121,1514 4157,1514 4187,1522 4210,1505 4210,1479 4184,1458 4180,1458 4157,1411 4164,1405 4172,1390 4178,1385Z" fill="#A80000"/>
<path d="M4119,1597 4112,1602 4112,1635 4097,1651 4096,1655 4127,1686 4141,1646 4152,1630 4152,1622 4184,1603 4184,1581 4200,1566 4187,1522 4157,1514 4121,1514 4098,1542 4119,1567Z" fill="#E60000"/>
<path d="M4184,1603 4152,1622 4152,1630 4141,1646 4127,1686 4128,1688 4171,1683 4178,1670 4198,1654 4198,1624Z" fill="#FF5500"/>
<path d="M4232,1461 4210,1479 4210,1505 4187,1522 4200,1565 4184,1581 4184,1603 4198,1624 4198,1654 4215,1661 4226,1680 4263,1680 4284,1649 4291,1648 4306,1627 4308,1621 4295,1596 4316,1563 4302,1546 4314,1510 4310,1501 4304,1496 4300,1470 4292,1459 4279,1453 4255,1468Z" fill="#730000"/>
<path d="M4279,1720 4263,1680 4226,1680 4215,1661 4198,1654 4178,1670 4171,1683 4128,1688 4125,1696 4130,1718 4122,1733 4124,1748 4164,1748 4166,1746 4174,1775 4187,1775 4193,1746 4214,1746 4221,1779 4232,1781 4255,1800 4282,1781 4267,1761 4264,1736 4265,1731Z" fill="#E60000"/>
<path d="M4058,1767 4071,1794 4067,1829 4076,1843 4047,1873 4080,1889 4075,1918 4083,1915 4100,1911 4110,1907 4110,1897 4125,1894 4126,1881 4147,1882 4174,1864 4178,1836 4161,1810 4152,1806 4155,1794 4141,1766 4125,1759 4116,1769 4095,1765 4084,1744Z" fill="#730000"/>
<path d="M4124,1748 4125,1759 4141,1766 4155,1794 4152,1806 4161,1810 4209,1801 4213,1786 4221,1779 4214,1746 4193,1746 4187,1775 4174,1775 4166,1746 4164,1748Z" fill="#A80000"/>
<path d="M4213,1786 4209,1801 4161,1810 4178,1836 4174,1864 4191,1858 4215,1859 4236,1865 4249,1876 4267,1869 4282,1873 4282,1835 4255,1828 4255,1800 4232,1781 4221,1779Z" fill="#A80000"/>
<path d="M4282,1781 4255,1800 4255,1828 4281,1835 4282,1873 4296,1876 4314,1886 4351,1882 4361,1889 4374,1902 4387,1910 4398,1923 4408,1933 4421,1941 4422,1940 4425,1935 4448,1907 4446,1897 4456,1883 4439,1838 4421,1812 4402,1806 4385,1785 4385,1783 4372,1758 4309,1758 4283,1720 4279,1720 4265,1731 4264,1736 4267,1761Z" fill="#730000"/>
<path d="M4438,1838 4456,1883 4446,1897 4448,1907 4474,1927 4477,1936 4494,1946 4532,1929 4522,1903 4509,1894 4504,1869 4526,1847 4527,1847 4544,1881 4568,1881 4557,1842 4543,1838 4543,1808 4509,1794 4502,1796 4490,1779 4470,1770 4450,1783 4441,1782 4431,1770 4412,1770 4394,1777 4385,1783 4385,1785 4402,1806 4421,1812Z" fill="#A80000"/>
<path d="M4591,1858 4598,1828 4557,1842 4568,1881 4544,1881 4527,1847 4504,1869 4509,1894 4522,1904 4532,1929 4540,1954 4526,1986 4529,1988 4543,2024 4562,2031 4574,1988 4575,1970 4586,1907Z" fill="#A80000"/>
<path d="M4448,1907 4425,1935 4421,1941 4427,1949 4421,1970 4427,1986 4437,1996 4442,2009 4450,2014 4466,2009 4497,2021 4513,2017 4521,2027 4536,2021 4543,2024 4529,1988 4526,1986 4540,1954 4532,1929 4494,1946 4477,1936 4474,1927Z" fill="#730000"/>
<path d="M3563,1799 3554,1832 3557,1841 3542,1860 3537,1876 3545,1897 3557,1905 3561,1915 3591,1937 3593,1937 3598,1943 3646,1955 3654,1947 3697,1940 3704,1928 3698,1912 3677,1890 3688,1850 3680,1841 3698,1786 3659,1776 3649,1778 3632,1765 3602,1774 3593,1766 3552,1766 3552,1785Z" fill="#730000"/>
<path d="M3432,1861 3415,1892 3403,1947 3388,1984 3400,1998 3481,2041 3498,2026 3500,1996 3515,1985 3524,1961 3521,1954 3477,1925 3545,1897 3537,1876 3542,1860 3557,1841 3554,1832 3507,1813 3500,1819 3432,1781Z" fill="#E60000"/>
<path d="M3709,1786 3698,1786 3680,1841 3688,1850 3677,1890 3698,1912 3704,1928 3724,1926 3743,1934 3765,1926 3765,1875 3768,1872 3785,1865 3801,1818 3781,1799 3779,1790 3752,1782 3722,1792Z" fill="#FF5500"/>
<path d="M3785,1865 3768,1872 3765,1875 3765,1926 3786,1937 3802,1918 3817,1913 3837,1931 3855,1925 3867,1897 3899,1908 3901,1910 3928,1910 3944,1897 3947,1867 3942,1857 3922,1847 3917,1848 3903,1845 3877,1805 3845,1805 3835,1818 3800,1818Z" fill="#A80000"/>
<path d="M4015,1852 3974,1835 3942,1857 3947,1867 3944,1897 3951,1903 3951,1943 3985,1943 4007,1928 4023,1920 4033,1933 4044,1936 4059,1926 4075,1918 4080,1889 4047,1873 4076,1843 4067,1829 4071,1794 4019,1804 4025,1829 4017,1852Z" fill="#A80000"/>
<path d="M3817,1913 3802,1918 3786,1937 3765,1926 3743,1933 3724,1926 3704,1928 3697,1940 3707,1974 3709,1975 3742,1980 3742,2017 3768,2025 3768,2059 3764,2065 3763,2085 3770,2090 3811,2076 3821,2085 3841,2085 3851,2061 3885,2067 3901,2050 3902,2042 3885,2018 3882,2001 3874,1988 3890,1960 3894,1957 3901,1910 3899,1908 3867,1897 3855,1925 3837,1931Z" fill="#E60000"/>
<path d="M3894,1957 3890,1960 3874,1988 3881,2001 3885,2018 3902,2042 3901,2050 3885,2067 3851,2061 3841,2085 3861,2114 3871,2106 3892,2098 3918,2103 3942,2098 3960,2090 3952,2085 3947,2069 3960,2040 3942,2038 3944,2027 3957,2014 3970,1975 3978,1962 3983,1944 3985,1943 3951,1942 3951,1903 3944,1897 3928,1910 3901,1910Z" fill="#FF5500"/>
<path d="M3646,1955 3650,1995 3658,2002 3669,2028 3637,2060 3637,2063 3649,2089 3683,2098 3687,2095 3719,2091 3735,2099 3763,2085 3764,2065 3768,2059 3768,2025 3742,2017 3742,1980 3709,1975 3707,1974 3697,1940 3654,1947Z" fill="#E60000"/>
<path d="M3515,1985 3500,1995 3498,2026 3554,2034 3548,2055 3557,2093 3589,2093 3603,2111 3632,2111 3649,2089 3637,2063 3637,2060 3669,2028 3658,2002 3650,1995 3646,1955 3598,1942 3593,1937 3591,1937 3561,1915 3557,1905 3545,1896 3477,1925 3521,1954 3524,1961Z" fill="#E60000"/>
<path d="M3498,2026 3481,2041 3459,2093 3468,2100 3468,2159 3475,2170 3479,2203 3485,2214 3503,2211 3517,2223 3534,2226 3537,2218 3554,2210 3554,2172 3565,2144 3551,2101 3557,2093 3548,2055 3554,2034Z" fill="#FF5500"/>
<path d="M3683,2138 3683,2098 3649,2089 3632,2111 3603,2111 3589,2093 3557,2093 3551,2101 3565,2144 3554,2172 3554,2210 3579,2205 3618,2209 3635,2192 3639,2178 3681,2177 3679,2147Z" fill="#FF5500"/>
<path d="M3834,2132 3861,2114 3841,2085 3821,2085 3811,2076 3770,2090 3763,2085 3735,2099 3719,2091 3687,2095 3683,2098 3683,2138 3679,2147 3681,2177 3729,2164 3735,2164 3746,2158 3787,2142 3808,2142Z" fill="#FF5500"/>
<path d="M2887,1897 2840,1914 2781,1947 2727,2010 2894,2062 2938,2100 2985,2091 3001,2106 3002,2108 3048,2120 3048,2063 3047,2060 3045,2044 3039,2040 3024,1950 2974,1932 2920,1890Z" fill="#FF5500"/>
<path d="M3107,1757 3087,1784 3066,1786 2981,1747 2950,1849 2920,1890 2974,1932 3024,1950 3039,2040 3045,2044 3073,2036 3118,2055 3135,2034 3137,2025 3162,2009 3162,1954 3153,1936 3153,1930 3155,1927 3157,1914 3201,1871 3188,1832 3194,1820 3212,1811 3249,1811 3280,1772 3214,1741 3199,1745 3177,1740 3152,1773 3109,1757Z" fill="#FF5500"/>
<path d="M3432,1781 3427,1767 3359,1712 3339,1743 3280,1772 3249,1811 3212,1811 3194,1820 3188,1832 3201,1871 3157,1914 3155,1927 3231,1927 3231,1971 3228,1976 3310,2059 3337,2016 3388,1984 3403,1947 3416,1892 3432,1861Z" fill="#FF5500"/>
<path d="M3153,1930 3153,1936 3162,1954 3162,2009 3137,2025 3135,2034 3118,2055 3118,2078 3185,2103 3205,2130 3289,2166 3294,2149 3300,2083 3310,2059 3228,1976 3231,1971 3231,1927 3155,1927Z" fill="#FF5500"/>
<path d="M3481,2041 3400,1998 3388,1984 3337,2016 3310,2059 3300,2083 3294,2149 3289,2166 3293,2180 3296,2232 3301,2235 3314,2232 3323,2223 3311,2202 3328,2185 3346,2176 3355,2185 3360,2198 3398,2193 3429,2198 3443,2195 3468,2195 3479,2203 3475,2170 3468,2159 3468,2100 3459,2093Z" fill="#FF5500"/>
<path d="M1442,863 1441,864 1438,891 1436,962 1394,968 1399,1022 1401,1023 1442,1021 1463,1034 1485,1044 1525,1014 1535,1053 1538,1054 1573,1012 1570,991 1586,980 1575,952 1573,948 1561,947 1557,935 1549,923 1529,919 1521,923 1508,916 1510,902 1503,895 1502,890 1485,876 1456,876 1449,869 1445,862Z" fill="#FF5500" stroke="none"/>
<path d="M1604,951 1583,978 1567,989 1569,1010 1535,1052 1546,1065 1567,1075 1584,1091 1585,1091 1601,1070 1622,1054 1638,1033 1664,1006 1650,956 1639,951 1635,948Z" fill="#FFAA00" stroke="none"/>
<path d="M1646,954 1660,1005 1635,1031 1619,1052 1619,1053 1620,1055 1677,1055 1687,1075 1689,1075 1722,1054 1721,1051 1701,1031 1706,1017 1727,985 1714,982Z" fill="#FF5500" stroke="none"/>
<path d="M1702,1015 1697,1033 1719,1054 1729,1055 1739,1075 1740,1076 1743,1074 1753,1044 1776,1044 1782,1055 1813,1055 1834,1070 1856,1065 1868,1032 1852,1004 1826,984 1816,944 1815,946 1805,940 1799,920 1794,915 1792,916 1787,930 1770,941 1759,952 1731,986 1723,984Z" fill="#FF5500" stroke="none"/>
<path d="M1739,1073 1750,1122 1778,1128 1820,1122 1847,1085 1858,1063 1855,1061 1835,1066 1814,1051 1784,1051 1778,1040 1751,1040 1749,1042Z" fill="#FFAA00" stroke="none"/>
<path d="M1373,1032 1378,1075 1395,1096 1412,1102 1434,1074 1445,1043 1445,1018 1443,1017 1403,1019 1397,968 1395,967 1369,970 1368,972Z" fill="#FFD37F" stroke="none"/>
<path d="M1442,1041 1430,1073 1410,1098 1379,1109 1373,1125 1373,1127 1394,1153 1394,1208 1348,1218 1347,1220 1348,1222 1401,1227 1457,1242 1462,1283 1457,1336 1458,1337 1490,1342 1502,1331 1513,1299 1508,1283 1518,1257 1528,1202 1527,1200 1509,1200 1523,1173 1521,1126 1523,1069 1539,1052 1528,1010 1527,1009 1484,1040 1464,1030Z" fill="#E60000" stroke="none"/>
<path d="M1517,1126 1519,1173 1503,1202 1505,1204 1526,1204 1566,1211 1551,1282 1540,1301 1567,1331 1595,1329 1601,1311 1682,1301 1698,1316 1700,1316 1719,1293 1714,1262 1711,1215 1716,1190 1745,1158 1753,1121 1743,1073 1732,1051 1729,1051 1703,1061 1689,1071 1679,1051 1620,1051 1598,1067 1584,1086 1569,1072 1548,1061 1521,1067 1519,1068Z" fill="#730000" stroke="none"/>
<path d="M1504,1282 1510,1300 1544,1302 1554,1283 1570,1210 1569,1208 1527,1200 1525,1200 1514,1256Z" fill="#FFAA00" stroke="none"/>
<path d="M1260,1345 1234,1431 1236,1434 1270,1442 1323,1436 1350,1415 1386,1402 1475,1397 1476,1394 1465,1386 1455,1351 1460,1335 1466,1283 1460,1240 1401,1223 1349,1218 1311,1226 1274,1261 1263,1277 1266,1309Z" fill="#730000" stroke="none"/>
<path d="M1451,1350 1462,1388 1473,1397 1505,1405 1515,1405 1567,1431 1569,1431 1601,1404 1607,1361 1596,1326 1594,1325 1569,1328 1543,1299 1510,1297 1498,1329 1489,1338 1458,1333Z" fill="#FFAA00" stroke="none"/>
<path d="M1359,1583 1426,1578 1438,1588 1511,1572 1513,1571 1517,1556 1553,1546 1565,1535 1564,1532 1538,1512 1528,1486 1502,1434 1507,1403 1507,1401 1474,1393 1385,1398 1348,1412 1322,1432 1270,1438 1237,1430 1235,1430 1234,1438 1235,1439 1231,1465 1244,1478 1242,1506 1230,1520 1232,1534 1223,1572 1256,1570 1264,1578 1281,1577Z" fill="#E60000" stroke="none"/>
<path d="M1713,1187 1707,1215 1710,1262 1715,1293 1697,1313 1697,1315 1720,1321 1767,1327 1815,1316 1816,1314 1814,1310 1831,1308 1831,1306 1816,1251 1816,1214 1814,1213 1806,1213 1808,1169 1847,1147 1847,1146 1831,1125 1819,1119 1777,1124 1750,1119 1741,1156Z" fill="#FF5500" stroke="none"/>
<path d="M1842,1146 1804,1167 1802,1216 1804,1217 1916,1189 1916,1247 1932,1267 1907,1296 1829,1302 1810,1307 1812,1372 1844,1405 1881,1426 1918,1436 1920,1436 1920,1433 1905,1407 1900,1393 1925,1378 1936,1336 1966,1311 2008,1300 2040,1290 2056,1264 2147,1253 2156,1231 2145,1193 2129,1177 2018,1103 1992,1103 1935,1093 1898,1077 1845,1082 1817,1121 1818,1122 1828,1127Z" fill="#A80000" stroke="none"/>
<path d="M1812,1252 1829,1308 1909,1300 1936,1267 1920,1245 1920,1185 1918,1184 1845,1202 1813,1213 1812,1215Z" fill="#FFD37F" stroke="none"/>
<path d="M1933,1334 1922,1376 1896,1392 1901,1409 1917,1436 1934,1442 1976,1447 2107,1447 2108,1446 2108,1444 2103,1434 2087,1391 2051,1370 2040,1328 2008,1317 1965,1307Z" fill="#FFAA00" stroke="none"/>
<path d="M2007,1297 2005,1299 2007,1300 2042,1305 2037,1330 2047,1372 2086,1394 2088,1393 2093,1352 2114,1326 2135,1294 2148,1251 2146,1249 2054,1260 2037,1286Z" fill="#FF5500" stroke="none"/>
<path d="M2144,1251 2131,1292 2110,1323 2089,1350 2084,1393 2100,1435 2112,1442 2238,1436 2239,1434 2218,1387 2208,1335 2197,1261 2179,1255 2176,1219 2146,1192 2144,1194 2152,1230Z" fill="#E60000" stroke="none"/>
<path d="M2173,1220 2175,1257 2176,1258 2195,1264 2258,1259 2260,1257 2255,1230 2228,1171 2173,1192Z" fill="#FFAA00" stroke="none"/>
<path d="M1969,1534 1985,1561 2016,1577 2038,1610 2113,1598 2114,1596 2108,1444 2107,1443 1972,1443 1971,1445Z" fill="#FFAA00" stroke="none"/>
<path d="M1996,837 2008,850 2013,863 2009,894 1996,925 2019,938 2055,947 2070,945 2073,881 2202,921 2204,920 2210,903 2189,880 2184,849 2189,804 2182,767 2172,750 2177,727 2181,686 2125,696 2107,692 2099,684 2069,694 2057,705 2055,719 2045,727 2050,738 2041,745 2050,755 2041,766 2051,783 2006,786 1996,800 1977,821 1977,824Z" fill="#A80000" stroke="none"/>
<path d="M2416,812 2401,795 2376,785 2365,790 2328,791 2318,778 2301,768 2296,749 2294,748 2264,750 2240,744 2215,748 2200,760 2180,765 2178,767 2185,804 2180,849 2185,881 2208,905 2233,907 2275,902 2306,893 2368,890 2372,881 2383,867 2383,849 2393,832 2414,813Z" fill="#A80000" stroke="none"/>
<path d="M2369,886 2306,889 2274,898 2233,903 2208,901 2196,928 2214,951 2228,973 2245,988 2259,994 2261,1006 2274,1008 2280,999 2297,1014 2299,1013 2348,1013 2362,996 2367,943 2376,929 2363,912Z" fill="#730000" stroke="none"/>
<path d="M2063,966 2064,968 2078,976 2089,980 2102,999 2098,1009 2099,1011 2110,1011 2135,1022 2164,1011 2170,998 2183,1018 2204,1029 2226,1025 2251,1011 2263,992 2261,990 2248,985 2231,970 2217,949 2200,927 2205,920 2204,917 2071,877 2069,879 2067,943Z" fill="#FFAA00" stroke="none"/>
<path d="M2495,712 2460,704 2428,691 2407,685 2385,691 2371,701 2336,712 2329,726 2305,736 2292,750 2297,770 2315,781 2326,795 2365,794 2376,789 2399,799 2412,814 2414,813 2426,811 2435,793 2473,792 2478,769 2510,729 2512,729Z" fill="#FFAA00" stroke="none"/>
<path d="M1830,1549 1832,1569 1796,1583 1784,1543 1768,1511 1766,1511 1765,1511 1749,1544 1759,1571 1767,1601 1749,1618 1733,1632 1733,1706 1734,1708 1765,1708 1803,1682 1839,1705 1895,1702 1904,1671 1945,1650 1977,1624 1983,1571 2008,1556 2009,1554 2008,1553 1977,1532 1945,1505 1892,1503 1854,1511 1833,1530Z" fill="#E60000" stroke="none"/>
<path d="M1618,1550 1676,1561 1676,1612 1677,1614 1735,1629 1752,1621 1771,1602 1763,1570 1753,1544 1768,1500 1767,1498 1693,1498 1661,1516 1614,1534 1613,1537Z" fill="#FFAA00" stroke="none"/>
<path d="M1464,1593 1465,1590 1454,1568 1452,1568 1435,1580 1442,1596ZM1281,1602 1296,1621 1323,1627 1338,1627 1385,1609 1434,1598 1435,1596 1418,1577 1412,1558 1332,1560 1276,1568 1276,1570Z" fill="#FFD37F" stroke="none"/>
<path d="M1332,1703 1368,1739 1390,1752 1452,1718 1450,1685 1460,1617 1446,1597 1422,1599 1412,1584 1410,1584 1404,1600 1384,1605 1336,1624 1338,1645 1341,1648 1345,1669 1334,1690Z" fill="#FFAA00" stroke="none"/>
<path d="M1456,1618 1446,1685 1447,1687 1449,1686 1460,1670 1475,1644 1501,1613 1528,1571 1538,1558 1538,1555 1477,1558 1443,1598Z" fill="#FFAA00" stroke="none"/>
<path d="M1451,1748 1456,1775 1472,1796 1519,1817 1536,1838 1579,1833 1596,1801 1585,1768 1559,1731 1527,1704 1484,1699 1449,1715 1448,1717Z" fill="#FFAA00" stroke="none"/>
<path d="M1576,1830 1587,1853 1588,1854 1671,1839 1677,1852 1722,1852 1724,1850 1716,1809 1684,1773 1662,1751 1598,1749 1582,1768 1592,1800Z" fill="#FFAA00" stroke="none"/>
<path d="M1582,1862 1592,1905 1584,1932 1598,1938 1608,1953 1646,1972 1694,1964 1721,1931 1716,1913 1742,1894 1723,1848 1679,1848 1673,1835 1588,1850Z" fill="#FFAA00" stroke="none"/>
<path d="M1733,1768 1734,1770 1749,1781 1760,1791 1786,1812 1807,1838 1834,1875 1872,1854 1893,1828 1930,1800 1925,1737 1894,1725 1896,1699 1840,1701 1803,1678 1762,1705 1741,1744Z" fill="#FFAA00" stroke="none"/>
<path d="M1764,1863 1759,1910 1761,1912 1788,1901 1814,1896 1836,1874 1810,1835 1789,1809 1750,1777 1749,1779Z" fill="#FFAA00" stroke="none"/>
<path d="M1720,1850 1738,1893 1712,1912 1715,1931 1717,1933 1762,1912 1763,1910 1768,1863 1753,1779 1737,1768 1745,1746 1743,1743 1683,1773 1712,1811Z" fill="#FFD37F" stroke="none"/>
<path d="M1527,2074 1538,2052 1580,2021 1595,2003 1642,1995 1648,1969 1611,1950 1600,1934 1587,1929 1559,1924 1548,1903 1527,1884 1468,1892 1466,1894 1461,1939 1411,1944 1409,1946 1414,1983 1409,2020 1419,2058 1435,2069 1447,2060 1449,2053 1474,2043 1489,2024 1500,2038 1519,2050 1522,2064Z" fill="#FFAA00" stroke="none"/>
<path d="M1695,2125 1690,2093 1695,2072 1685,2036 1695,2020 1685,1993 1695,1963 1694,1960 1645,1968 1644,1969 1639,1992 1593,2000 1577,2018 1535,2050 1525,2069 1535,2095 1528,2099 1529,2104 1545,2125 1540,2154 1557,2167 1587,2165 1592,2156 1648,2134 1665,2123 1683,2134 1685,2144Z" fill="#FFAA00" stroke="none"/>
<path d="M1740,2114 1732,2072 1732,2052 1750,2031 1753,1993 1751,1992 1733,1987 1742,1973 1742,1951 1719,1929 1691,1961 1681,1993 1691,2019 1681,2035 1691,2072 1686,2093 1691,2124 1684,2139 1686,2151 1702,2163 1728,2168 1737,2154 1730,2134 1735,2116Z" fill="#FFAA00" stroke="none"/>
<path d="M2229,1178 2221,1186 2220,1188 2242,1234 2255,1240 2248,1266 2236,1274 2241,1296 2252,1310 2273,1366 2287,1377 2333,1377 2344,1382 2400,1372 2470,1363 2508,1363 2510,1362 2510,1322 2496,1285 2494,1285 2471,1253 2473,1246 2463,1229 2470,1205 2466,1194 2449,1184 2454,1164 2428,1159 2407,1168 2349,1164 2280,1171 2285,1169 2280,1169Z" fill="#FFAA00" stroke="none"/>
<path d="M2299,1438 2361,1446 2382,1497 2384,1538 2372,1547 2345,1558 2348,1581 2350,1582 2374,1577 2405,1564 2414,1540 2441,1530 2472,1561 2503,1540 2503,1537 2482,1516 2495,1513 2500,1474 2542,1456 2537,1434 2548,1413 2537,1391 2532,1365 2507,1359 2478,1359 2430,1364 2383,1372 2342,1377 2300,1364 2286,1375 2293,1399 2283,1405 2266,1401 2249,1405 2237,1412 2234,1434 2236,1436 2288,1433Z" fill="#730000" stroke="none"/>
<path d="M2530,1697 2552,1676 2553,1673 2521,1647 2500,1631 2475,1626 2474,1559 2442,1526 2411,1537 2403,1560 2373,1573 2348,1579 2348,1581 2349,1582 2384,1582 2382,1622 2383,1624 2395,1629 2398,1676 2430,1687 2450,1682 2454,1694 2477,1695 2499,1692Z" fill="#E60000" stroke="none"/>
<path d="M2471,1627 2472,1629 2498,1634 2518,1650 2530,1655 2532,1654 2537,1630 2562,1640 2573,1629 2609,1619 2610,1617 2608,1553 2583,1537 2557,1526 2519,1516 2500,1537 2471,1559Z" fill="#FFAA00" stroke="none"/>
<path d="M2780,1233 2747,1251 2732,1292 2696,1333 2664,1361 2701,1393 2716,1414 2727,1435 2745,1455 2742,1492 2765,1525 2803,1519 2809,1492 2882,1419 2903,1382 2926,1326 2930,1311 2897,1309 2893,1261 2853,1222 2841,1211Z" fill="#A80000" stroke="none"/>
<path d="M2579,1251 2578,1255 2573,1258 2573,1259 2623,1274 2659,1294 2675,1320 2697,1336 2699,1336 2736,1293 2738,1257 2735,1259 2738,1253 2721,1239 2724,1221 2717,1201 2700,1187 2682,1198 2668,1208 2639,1223Z" fill="#FFAA00" stroke="none"/>
<path d="M2972,1543 2978,1576 3020,1582 3036,1613 3130,1624 3133,1602 3144,1580 3133,1486 3144,1455 3148,1417 3080,1364 3078,1364 3061,1396 3046,1417 3030,1448 3000,1463 2978,1477 2983,1507Z" fill="#A80000" stroke="none"/>
<path d="M2670,1615 2669,1617 2664,1674 2665,1676 2696,1702 2770,1723 2843,1760 2892,1754 2913,1702 2960,1681 2984,1627 2981,1573 2953,1568 2927,1583 2880,1563 2853,1589 2802,1591 2744,1589Z" fill="#E60000" stroke="none"/>
<path d="M2748,1554 2742,1590 2744,1593 2802,1595 2855,1593 2871,1576 2898,1539 2903,1513 2913,1483 2911,1482 2854,1489 2801,1510 2754,1526Z" fill="#FFAA00" stroke="none"/>
<path d="M2687,1575 2685,1611 2686,1614 2746,1592 2756,1527 2683,1516 2682,1518Z" fill="#FFAA00" stroke="none"/>
<path d="M2957,1679 2957,1706 2958,1707 3026,1723 3063,1734 3065,1732 3060,1686 3085,1676 3086,1674 3070,1631 3039,1610 3023,1579 2982,1578 2980,1580 2980,1627Z" fill="#FFAA00" stroke="none"/>
<path d="M2905,1780 2953,1812 2996,1817 3028,1801 3024,1775 3059,1754 3065,1731 3064,1730 3027,1719 2959,1704 2911,1699 2873,1742Z" fill="#FFAA00" stroke="none"/>
<path d="M3129,1485 3140,1580 3129,1601 3127,1622 3127,1624 3267,1650 3356,1655 3368,1644 3363,1595 3347,1574 3310,1553 3263,1432 3146,1461Z" fill="#E60000" stroke="none"/>
<path d="M3249,1727 3255,1757 3247,1810 3248,1813 3293,1813 3313,1806 3338,1816 3362,1806 3390,1809 3418,1799 3439,1806 3441,1804 3465,1693 3475,1639 3473,1638 3400,1659 3359,1655 3271,1645 3269,1646Z" fill="#E60000" stroke="none"/>
<path d="M3336,1330 3337,1332 3339,1331 3478,1185 3478,1182 3398,1175 3363,1151 3361,1151 3350,1194Z" fill="#FFAA00" stroke="none"/>
<path d="M3191,1022 3214,990 3213,988 3199,973 3214,958 3209,940 3215,929 3239,935 3241,934 3254,906 3261,882 3278,872 3290,851 3290,849 3282,838 3280,839 3240,827 3207,888 3147,883 3140,916 3130,947 3120,961 3116,989 3123,1010 3154,1024 3158,1041 3168,1057 3171,1057Z" fill="#FFAA00" stroke="none"/>
<path d="M3275,869 3257,880 3250,905 3239,931 3214,924 3212,925 3205,940 3210,957 3194,973 3209,989 3187,1019 3167,1055 3168,1057 3179,1055 3189,1076 3194,1111 3194,1116 3201,1136 3218,1160 3220,1159 3240,1136 3245,1106 3275,1130 3306,1158 3327,1182 3337,1199 3339,1200 3341,1198 3334,1156 3338,1111 3318,1066 3369,1109 3372,1109 3381,1069 3383,959 3362,961 3360,932 3323,921 3322,900 3341,885 3339,843 3316,817 3280,839 3278,839 3286,850Z" fill="#E60000" stroke="none"/>
<path d="M3330,1156 3337,1198 3339,1200 3341,1199 3358,1158 3365,1153 3372,1107 3313,1057 3311,1060 3334,1111Z" fill="#A80000" stroke="none"/>
<path d="M3377,1069 3379,1071 3381,1070 3404,1025 3428,959 3379,960Z" fill="#FF5500" stroke="none"/>
<path d="M3424,959 3368,1107 3361,1153 3380,1168 3423,1188 3472,1186 3510,1176 3574,1137 3601,1113 3681,1092 3720,1088 3738,1026 3736,1024 3658,1019 3612,1018 3614,1020 3576,1010 3569,989 3538,965 3527,944 3511,939 3485,952Z" fill="#A80000" stroke="none"/>
<path d="M3564,1169 3571,1199 3588,1217 3617,1218 3634,1235 3636,1235 3657,1214 3689,1195 3686,1128 3682,1089 3680,1088 3599,1109 3588,1138Z" fill="#FFAA00" stroke="none"/>
<path d="M2821,1978 2810,1999 2831,2015 2826,2031 2842,2052 2873,2115 2875,2116 2918,2095 2949,2087 2950,2086 2949,2083 2929,2076 2922,2003 3022,1998 3080,1948 3081,1946 3002,1822 2953,1814 2921,1830 2910,1867 2895,1890 2822,1910 2758,1937 2758,1939 2760,1940 2811,1953Z" fill="#E60000" stroke="none"/>
<path d="M2591,1957 2596,1989 2607,2008 2647,2008 2676,2024 2689,2015 2676,1981 2691,1956 2669,1896 2625,1912 2598,1919 2597,1924 2593,1926Z" fill="#FF5500" stroke="none"/>
<path d="M2687,1957 2672,1981 2684,2014 2675,2020 2645,2028 2643,2029 2646,2109 2664,2136 2701,2209 2703,2210 2806,2199 2810,2219 2812,2220 2866,2207 2877,2188 2903,2162 2903,2160 2877,2113 2845,2050 2830,2030 2835,2013 2815,1998 2825,1978 2814,1951 2766,1938 2824,1914 2825,1913 2824,1911 2797,1903 2760,1910 2719,1910 2687,1891 2665,1897Z" fill="#E60000" stroke="none"/>
<path d="M2455,2323 2467,2312 2488,2317 2490,2337 2506,2351 2520,2354 2526,2379 2541,2382 2544,2394 2545,2395 2577,2403 2598,2393 2624,2400 2660,2408 2681,2416 2720,2397 2720,2244 2704,2207 2668,2134 2649,2107 2646,2107 2613,2133 2582,2138 2556,2153 2533,2146 2529,2152 2532,2163 2511,2171 2501,2166 2463,2184 2451,2206 2454,2210 2448,2212 2446,2215 2445,2239 2418,2257 2408,2267 2387,2267 2386,2272 2389,2274 2391,2288 2354,2300 2352,2312 2345,2325 2363,2330 2373,2321 2415,2325 2447,2325Z" fill="#A80000" stroke="none"/>
<path d="M3025,2311 2950,2233 2919,2196 2903,2160 2902,2159 2900,2159 2873,2186 2863,2203 2814,2216 2809,2197 2807,2195 2702,2206 2701,2209 2716,2245 2716,2397 2719,2398 2761,2382 2818,2330 3025,2317Z" fill="#FFAA00" stroke="none"/>
<path d="M2533,2151 2535,2152 2557,2157 2583,2142 2615,2136 2649,2110 2646,2029 2614,2007 2598,2007 2596,2009 2594,2028 2571,2028 2560,2044 2536,2055 2528,2077 2543,2098 2537,2112 2538,2124 2545,2128 2533,2146Z" fill="#FFAA00" stroke="none"/>
<path d="M2529,2079 2532,2078 2539,2058 2563,2047 2573,2032 2597,2032 2600,2011 2610,2007 2610,2005 2600,1988 2595,1957 2597,1924 2567,1943 2520,1978 2507,2000 2497,2030 2511,2058Z" fill="#FFD37F" stroke="none"/>
<path d="M3375,1847 3374,1849 3377,1865 3351,1872 3350,1873 3353,1901 3346,1943 3343,1988 3353,2041 3364,2066 3365,2067 3398,2060 3432,2043 3465,2032 3465,2030 3461,2015 3445,1999 3450,1990 3489,1972 3502,1929 3458,1883 3462,1835 3440,1802 3424,1795 3422,1795 3421,1797 3421,1820Z" fill="#A80000" stroke="none"/>
<path d="M3423,2190 3395,2162 3399,2127 3381,2089 3367,2064 3357,2040 3347,1988 3340,1960 3338,1959 3312,1973 3291,1997 3277,2004 3277,2007 3282,2015 3271,2018 3228,2022 3217,2037 3220,2051 3214,2058 3223,2084 3150,2081 3148,2082 3165,2128 3179,2213 3189,2209 3210,2212 3220,2207 3234,2212 3259,2211 3276,2216 3287,2226 3301,2235 3314,2232 3323,2223 3311,2202 3328,2185 3346,2176 3355,2185 3360,2198 3398,2193 3423,2197Z" fill="#FFAA00" stroke="none"/>
<path d="M2684,1892 2717,1907 2756,1910 2802,1912 2833,1898 2903,1873 2908,1850 2918,1829 2945,1812 2946,1810 2906,1776 2874,1791 2797,1790 2699,1802 2688,1812 2665,1816 2666,1818 2656,1832 2654,1846 2675,1863 2679,1877 2686,1891Z" fill="#FFAA00" stroke="none"/>
<path d="M3336,1329 3336,1331 3339,1338 3417,1426 3442,1430 3468,1419 3501,1398 3547,1380 3628,1338 3649,1302 3661,1260 3637,1232 3619,1214 3591,1213 3574,1197 3568,1171 3591,1140 3602,1112 3602,1110 3599,1109 3571,1134 3509,1172 3476,1182Z" fill="#FF5500" stroke="none"/>
<path d="M3468,1468 3470,1469 3494,1464 3516,1464 3551,1446 3655,1380 3689,1363 3731,1380 3733,1379 3733,1367 3704,1342 3666,1298 3646,1300 3625,1335 3545,1376 3499,1394 3468,1419 3453,1448Z" fill="#FFAA00" stroke="none"/>
<path d="M3647,1295 3648,1297 3664,1301 3702,1345 3730,1369 3732,1369 3740,1339 3752,1334 3753,1332 3746,1315 3738,1288 3756,1241 3764,1207 3736,1189 3720,1191 3705,1183 3685,1187 3667,1209 3633,1232 3634,1234 3657,1261Z" fill="#A80000" stroke="none"/>
<path d="M3396,1467 3395,1469 3392,1493 3378,1510 3360,1538 3346,1549 3358,1588 3360,1645 3440,1652 3500,1638 3529,1637 3554,1602 3588,1550 3601,1524 3601,1522 3588,1506 3593,1466 3617,1429 3606,1404 3604,1403 3559,1422 3546,1440 3515,1458 3494,1460 3471,1465 3456,1451 3432,1429 3430,1430 3423,1454Z" fill="#E60000" stroke="none"/>
<path d="M4476,1150 4436,1146 4427,1158 4416,1177 4409,1207 4412,1229 4411,1248 4411,1249 4436,1253 4458,1250 4473,1257 4497,1257 4479,1201Z" fill="#A80000" stroke="none"/>
<path d="M2281,994 2278,994 2272,1004 2264,1003 2262,991 2260,990 2249,1008 2225,1022 2205,1025 2185,1015 2170,992 2168,993 2162,1008 2135,1018 2110,1008 2109,1009 2109,1046 2079,1049 2051,1046 2043,1060 2013,1060 2005,1074 2016,1106 2126,1180 2143,1196 2293,1174 2294,1170 2280,1171 2285,1170 2295,1131 2290,1114 2290,1117 2285,1104 2288,1062 2285,1027 2299,1013 2301,1013Z" fill="#E60000" stroke="none"/>
<path d="M1443,865 1440,891 1438,964 1396,969 1401,1021 1443,1019 1464,1032 1485,1042 1526,1011 1537,1053 1571,1011 1568,990 1584,980 1573,953 1570,948 1561,947 1557,935 1549,923 1529,919 1521,923 1508,916 1510,902 1503,895 1503,894 1482,876 1456,876 1449,869 1446,864Z" fill="#FF5500"/>
<path d="M1605,953 1584,980 1568,990 1571,1011 1537,1053 1547,1063 1568,1074 1584,1089 1600,1068 1620,1053 1636,1032 1662,1006 1652,969 1648,955 1639,951 1637,949Z" fill="#FFAA00"/>
<path d="M1652,969 1662,1006 1636,1032 1620,1053 1678,1053 1688,1074 1704,1063 1720,1053 1699,1032 1704,1016 1725,985 1723,984 1714,982 1648,955Z" fill="#FF5500"/>
<path d="M1725,985 1704,1016 1699,1032 1720,1053 1730,1053 1741,1074 1751,1042 1777,1042 1783,1053 1814,1053 1835,1068 1856,1063 1866,1032 1850,1006 1824,985 1814,945 1805,940 1800,923 1793,917 1791,919 1787,930 1776,937 1767,948 1751,962 1749,965 1731,986 1725,984Z" fill="#FF5500"/>
<path d="M1741,1074 1751,1121 1777,1126 1819,1121 1845,1084 1856,1063 1835,1068 1814,1053 1783,1053 1777,1042 1751,1042Z" fill="#FFAA00"/>
<path d="M1375,1032 1380,1074 1396,1095 1411,1100 1432,1074 1443,1042 1443,1019 1401,1021 1396,969 1370,972Z" fill="#FFD37F"/>
<path d="M1443,1042 1432,1074 1411,1100 1380,1110 1375,1126 1396,1152 1396,1210 1349,1220 1401,1225 1458,1241 1464,1283 1458,1335 1490,1340 1500,1330 1511,1298 1505,1283 1516,1257 1526,1202 1505,1202 1521,1173 1519,1126 1521,1068 1537,1053 1526,1011 1485,1042 1464,1032Z" fill="#E60000"/>
<path d="M1519,1126 1521,1173 1505,1202 1526,1202 1568,1210 1553,1283 1542,1301 1568,1330 1594,1327 1600,1309 1683,1298 1699,1314 1717,1293 1712,1262 1709,1215 1715,1189 1743,1157 1751,1121 1741,1074 1730,1053 1704,1063 1688,1074 1678,1053 1620,1053 1600,1068 1584,1089 1568,1074 1547,1063 1521,1068Z" fill="#730000"/>
<path d="M1516,1257 1505,1283 1511,1298 1542,1301 1553,1283 1568,1210 1526,1202Z" fill="#FFAA00"/>
<path d="M1268,1309 1262,1345 1249,1387 1236,1432 1270,1440 1323,1434 1349,1413 1385,1400 1474,1395 1464,1387 1453,1351 1458,1335 1464,1283 1458,1241 1401,1225 1349,1220 1312,1228 1275,1262 1265,1278Z" fill="#730000"/>
<path d="M1453,1351 1464,1387 1474,1395 1505,1403 1516,1403 1547,1419 1568,1429 1600,1403 1605,1361 1594,1327 1568,1330 1542,1301 1511,1298 1500,1330 1490,1340 1458,1335Z" fill="#FFAA00"/>
<path d="M1281,1575 1359,1581 1427,1575 1438,1586 1511,1570 1516,1555 1553,1544 1563,1534 1537,1513 1526,1487 1500,1434 1505,1403 1474,1395 1385,1400 1349,1413 1323,1434 1270,1440 1236,1432 1234,1460 1233,1467 1244,1478 1242,1506 1232,1518 1234,1534 1225,1571 1256,1570 1262,1576Z" fill="#E60000"/>
<path d="M1743,1157 1715,1189 1709,1215 1712,1262 1717,1293 1699,1314 1720,1319 1767,1325 1814,1314 1811,1309 1830,1306 1822,1278 1814,1251 1814,1215 1803,1215 1806,1168 1845,1147 1830,1126 1819,1121 1777,1126 1751,1121Z" fill="#FF5500"/>
<path d="M1830,1126 1845,1147 1806,1168 1803,1215 1845,1204 1918,1186 1918,1246 1934,1267 1908,1298 1830,1304 1811,1309 1814,1372 1845,1403 1882,1424 1918,1434 1903,1408 1898,1393 1924,1377 1934,1335 1965,1309 2007,1298 2039,1288 2054,1262 2146,1251 2154,1230 2143,1194 2128,1178 2018,1105 1992,1105 1934,1095 1898,1079 1845,1084 1819,1121Z" fill="#A80000"/>
<path d="M1814,1251 1822,1278 1830,1306 1908,1298 1934,1267 1918,1246 1918,1186 1845,1204 1814,1215Z" fill="#FFD37F"/>
<path d="M1934,1335 1924,1377 1898,1393 1903,1408 1918,1434 1934,1440 1976,1445 2107,1445 2101,1434 2086,1393 2049,1372 2039,1330 2007,1319 1965,1309Z" fill="#FFAA00"/>
<path d="M2039,1288 2007,1298 2044,1304 2039,1330 2049,1372 2086,1393 2091,1351 2112,1325 2133,1293 2146,1251 2054,1262Z" fill="#FF5500"/>
<path d="M2154,1230 2146,1251 2133,1293 2112,1325 2091,1351 2086,1393 2101,1434 2112,1440 2237,1434 2216,1387 2206,1335 2195,1262 2177,1257 2175,1220 2146,1194Z" fill="#E60000"/>
<path d="M2175,1220 2177,1257 2195,1262 2258,1257 2253,1230 2227,1173 2175,1194Z" fill="#FFAA00"/>
<path d="M1971,1534 1986,1560 2018,1575 2039,1608 2112,1596 2109,1528 2107,1445 1973,1445Z" fill="#FFAA00"/>
<path d="M2099,684 2069,694 2057,705 2055,719 2045,727 2050,738 2041,745 2050,755 2041,766 2051,783 2006,786 1996,800 1977,821 1997,835 2010,849 2015,863 2011,894 1997,924 2020,936 2055,945 2069,943 2071,879 2203,919 2208,903 2198,891 2187,881 2182,849 2187,804 2180,767 2170,750 2175,727 2179,687 2156,691 2125,696 2107,692Z" fill="#A80000"/>
<path d="M2414,813 2400,797 2376,786 2365,792 2327,793 2316,780 2299,769 2294,750 2264,752 2240,746 2215,750 2201,762 2180,767 2187,804 2182,849 2187,881 2198,891 2208,903 2233,905 2274,900 2306,891 2369,888 2372,881 2383,867 2383,849 2393,832Z" fill="#A80000"/>
<path d="M2369,888 2306,891 2274,900 2233,905 2208,903 2203,919 2198,928 2215,950 2229,971 2247,987 2261,992 2262,1004 2273,1006 2280,996 2299,1013 2348,1013 2362,996 2363,971 2367,943 2376,929 2363,912Z" fill="#730000"/>
<path d="M2069,943 2065,966 2079,975 2090,978 2104,999 2100,1009 2111,1009 2135,1020 2163,1009 2170,994 2184,1016 2205,1027 2226,1023 2250,1009 2261,992 2247,987 2229,971 2215,950 2198,928 2203,919 2071,879Z" fill="#FFAA00"/>
<path d="M2494,713 2459,706 2428,692 2407,687 2386,692 2372,703 2337,713 2330,727 2306,738 2294,750 2299,769 2316,780 2327,793 2365,792 2376,786 2400,797 2414,813 2426,811 2435,793 2473,792 2478,769 2494,748 2510,729Z" fill="#FFAA00"/>
<path d="M1832,1549 1834,1570 1795,1586 1782,1544 1766,1513 1751,1544 1761,1570 1769,1601 1751,1620 1735,1633 1735,1706 1764,1706 1803,1680 1840,1703 1894,1701 1902,1669 1944,1648 1975,1622 1981,1570 2007,1554 1975,1533 1944,1507 1892,1505 1855,1513 1834,1531Z" fill="#E60000"/>
<path d="M1620,1549 1678,1560 1678,1612 1735,1628 1751,1620 1769,1601 1761,1570 1751,1544 1766,1499 1693,1499 1662,1518 1615,1536Z" fill="#FFAA00"/>
<path d="M1283,1601 1298,1621 1310,1624 1314,1625 1338,1625 1385,1607 1406,1601 1433,1596 1432,1596 1416,1578 1411,1560 1333,1562 1278,1570ZM1463,1591 1453,1570 1437,1580 1443,1595Z" fill="#FFD37F"/>
<path d="M1333,1701 1348,1716 1369,1737 1390,1750 1432,1727 1450,1716 1448,1685 1453,1654 1458,1617 1445,1599 1421,1601 1411,1586 1406,1601 1385,1607 1338,1625 1341,1648 1341,1648 1345,1669 1337,1684Z" fill="#FFAA00"/>
<path d="M1458,1617 1453,1654 1448,1685 1458,1669 1474,1643 1500,1612 1526,1570 1536,1557 1479,1560 1445,1599Z" fill="#FFAA00"/>
<path d="M1453,1748 1458,1774 1474,1795 1521,1816 1536,1837 1578,1831 1594,1800 1583,1769 1557,1732 1526,1706 1484,1701 1450,1716Z" fill="#FFAA00"/>
<path d="M1594,1800 1578,1831 1589,1852 1672,1837 1678,1850 1722,1850 1714,1810 1683,1774 1662,1753 1599,1750 1583,1769Z" fill="#FFAA00"/>
<path d="M1583,1863 1594,1905 1586,1931 1599,1936 1610,1952 1646,1970 1693,1962 1719,1931 1714,1912 1740,1894 1722,1850 1678,1850 1672,1837 1589,1852Z" fill="#FFAA00"/>
<path d="M1735,1769 1751,1779 1761,1790 1787,1810 1808,1837 1834,1873 1871,1852 1892,1826 1928,1800 1923,1737 1892,1727 1894,1701 1840,1703 1803,1680 1764,1706 1743,1745Z" fill="#FFAA00"/>
<path d="M1761,1831 1766,1863 1761,1910 1787,1899 1813,1894 1834,1873 1808,1837 1787,1810 1761,1790 1751,1779Z" fill="#FFAA00"/>
<path d="M1714,1810 1722,1850 1740,1894 1714,1912 1717,1931 1761,1910 1766,1863 1761,1831 1751,1779 1735,1769 1743,1745 1685,1774Z" fill="#FFD37F"/>
<path d="M1521,2051 1526,2072 1536,2051 1578,2020 1594,2001 1641,1993 1646,1970 1610,1952 1599,1936 1586,1931 1557,1925 1547,1905 1526,1886 1468,1894 1463,1941 1411,1946 1416,1983 1411,2020 1421,2060 1430,2066 1436,2069 1447,2060 1449,2053 1474,2043 1489,2024 1500,2038 1516,2048Z" fill="#FFAA00"/>
<path d="M1693,2124 1688,2093 1693,2072 1683,2035 1693,2020 1683,1993 1693,1962 1646,1970 1641,1993 1594,2001 1578,2020 1536,2051 1526,2072 1526,2072 1529,2080 1535,2095 1530,2098 1531,2103 1547,2124 1542,2155 1544,2158 1557,2167 1587,2165 1592,2156 1613,2148 1648,2134 1665,2123 1683,2134 1684,2142Z" fill="#FFAA00"/>
<path d="M1738,2114 1730,2072 1730,2051 1748,2030 1751,1993 1730,1988 1740,1973 1740,1952 1719,1931 1693,1962 1683,1993 1693,2020 1683,2035 1693,2072 1688,2093 1693,2124 1684,2142 1685,2148 1698,2160 1702,2163 1728,2168 1736,2156 1736,2152 1730,2134 1735,2116 1738,2115Z" fill="#FFAA00"/>
<path d="M2229,1180 2222,1187 2229,1201 2243,1232 2257,1239 2250,1267 2238,1274 2243,1295 2254,1309 2274,1365 2288,1375 2334,1375 2344,1380 2400,1370 2470,1361 2508,1361 2508,1323 2494,1285 2471,1253 2473,1246 2463,1229 2470,1205 2466,1194 2449,1184 2454,1164 2428,1159 2407,1168 2349,1164 2329,1166 2280,1171Z" fill="#FFAA00"/>
<path d="M2288,1431 2300,1436 2363,1444 2373,1470 2384,1497 2386,1538 2373,1549 2347,1559 2350,1580 2373,1575 2405,1562 2412,1538 2441,1528 2473,1559 2501,1538 2478,1515 2493,1512 2499,1473 2540,1455 2535,1434 2546,1413 2535,1392 2530,1366 2506,1361 2478,1361 2431,1366 2384,1374 2342,1379 2300,1366 2288,1375 2295,1400 2283,1407 2266,1403 2250,1407 2238,1414 2236,1434Z" fill="#730000"/>
<path d="M2499,1690 2530,1695 2551,1674 2520,1648 2499,1633 2473,1627 2473,1559 2441,1528 2412,1538 2405,1562 2373,1575 2350,1580 2386,1580 2384,1622 2397,1627 2399,1674 2431,1685 2452,1680 2456,1694 2467,1694Z" fill="#E60000"/>
<path d="M2473,1627 2499,1633 2520,1648 2530,1653 2535,1627 2561,1638 2572,1627 2608,1617 2606,1554 2582,1538 2556,1528 2520,1518 2501,1538 2473,1559Z" fill="#FFAA00"/>
<path d="M2781,1235 2750,1251 2734,1293 2697,1335 2666,1361 2703,1392 2718,1413 2729,1434 2747,1455 2744,1491 2765,1523 2802,1518 2807,1491 2880,1418 2901,1382 2930,1311 2920,1310 2897,1309 2897,1308 2896,1308 2891,1261 2854,1223 2853,1222 2842,1212Z" fill="#A80000"/>
<path d="M2640,1225 2578,1253 2578,1255 2575,1257 2624,1272 2661,1293 2676,1319 2697,1335 2734,1293 2736,1258 2735,1259 2736,1257 2736,1252 2721,1239 2722,1232 2721,1230 2723,1216 2717,1201 2702,1189Z" fill="#FFAA00"/>
<path d="M2985,1507 2974,1544 2980,1575 3021,1580 3037,1612 3129,1622 3131,1601 3142,1580 3136,1533 3131,1486 3142,1455 3147,1418 3079,1366 3063,1397 3048,1418 3032,1450 3000,1465 2980,1478Z" fill="#A80000"/>
<path d="M2671,1617 2666,1674 2697,1700 2770,1721 2844,1758 2891,1753 2912,1700 2959,1680 2982,1627 2980,1575 2953,1570 2927,1585 2880,1565 2870,1575 2854,1591 2802,1593 2744,1591 2687,1612Z" fill="#E60000"/>
<path d="M2750,1554 2744,1591 2802,1593 2854,1591 2870,1575 2896,1538 2901,1512 2912,1484 2854,1491 2802,1512 2755,1528Z" fill="#FFAA00"/>
<path d="M2687,1544 2689,1575 2687,1612 2744,1591 2750,1554 2755,1528 2718,1523 2684,1518Z" fill="#FFAA00"/>
<path d="M2982,1627 2959,1680 2959,1706 3027,1721 3063,1732 3058,1685 3084,1674 3068,1633 3037,1612 3021,1580 2982,1580Z" fill="#FFAA00"/>
<path d="M2906,1779 2953,1810 2995,1815 3027,1800 3021,1774 3058,1753 3063,1732 3027,1721 2959,1706 2912,1700 2875,1742Z" fill="#FFAA00"/>
<path d="M3131,1486 3136,1533 3142,1580 3131,1601 3129,1622 3267,1648 3356,1653 3366,1643 3361,1596 3345,1575 3309,1554 3262,1434 3147,1463Z" fill="#E60000"/>
<path d="M3251,1727 3257,1757 3249,1811 3292,1811 3313,1804 3338,1814 3362,1804 3390,1807 3418,1797 3439,1804 3463,1692 3474,1640 3400,1661 3359,1657 3271,1647Z" fill="#E60000"/>
<path d="M3338,1330 3477,1184 3397,1177 3362,1152 3352,1194Z" fill="#FFAA00"/>
<path d="M3168,1057 3189,1020 3212,989 3196,973 3212,958 3207,940 3214,926 3240,933 3252,905 3259,881 3276,871 3289,850 3280,839 3240,827 3207,888 3147,883 3140,916 3130,947 3120,961 3116,989 3123,1010 3154,1024 3158,1041Z" fill="#FFAA00"/>
<path d="M3289,850 3276,871 3259,881 3252,905 3240,933 3214,926 3207,940 3212,958 3196,973 3212,989 3189,1020 3168,1057 3179,1055 3189,1076 3194,1111 3203,1135 3219,1158 3238,1135 3243,1102 3276,1128 3308,1156 3329,1181 3339,1198 3332,1156 3336,1111 3313,1059 3370,1108 3379,1069 3381,959 3362,961 3360,932 3323,921 3322,900 3341,885 3339,843 3316,817 3280,839Z" fill="#E60000"/>
<path d="M3336,1111 3332,1156 3339,1198 3356,1156 3363,1153 3370,1108 3313,1059Z" fill="#A80000"/>
<path d="M3381,959 3379,1069 3402,1024 3426,959Z" fill="#FF5500"/>
<path d="M3426,959 3402,1024 3370,1108 3363,1153 3381,1167 3423,1186 3471,1184 3510,1174 3538,1156 3572,1135 3600,1111 3680,1090 3719,1087 3736,1026 3700,1024 3649,1020 3614,1020 3576,1010 3569,989 3538,965 3527,944 3511,939 3485,952Z" fill="#A80000"/>
<path d="M3590,1139 3566,1170 3572,1198 3590,1216 3618,1216 3635,1233 3656,1212 3687,1195 3684,1128 3680,1090 3600,1111Z" fill="#FFAA00"/>
<path d="M2812,1952 2823,1978 2812,1999 2833,2014 2828,2030 2844,2051 2854,2072 2875,2114 2917,2093 2948,2085 2927,2077 2919,2001 3021,1996 3079,1946 3000,1824 2953,1816 2922,1831 2912,1868 2896,1891 2823,1912 2760,1939Z" fill="#E60000"/>
<path d="M2597,1922 2597,1924 2595,1925 2593,1957 2598,1988 2608,2006 2648,2006 2676,2022 2687,2014 2674,1980 2689,1957 2667,1897 2659,1899 2655,1902 2642,1905 2625,1912 2613,1915Z" fill="#FF5500"/>
<path d="M2689,1957 2674,1980 2687,2014 2676,2022 2645,2030 2648,2108 2666,2135 2703,2208 2807,2197 2812,2218 2865,2205 2875,2187 2901,2161 2875,2114 2854,2072 2844,2051 2828,2030 2833,2014 2812,1999 2823,1978 2812,1952 2760,1939 2823,1912 2797,1905 2760,1912 2718,1912 2687,1893 2677,1894 2667,1897Z" fill="#E60000"/>
<path d="M2504,2349 2520,2354 2527,2378 2543,2380 2546,2393 2577,2401 2598,2391 2624,2399 2661,2406 2682,2414 2718,2396 2718,2244 2703,2208 2666,2135 2648,2108 2614,2135 2582,2140 2556,2155 2532,2147 2529,2152 2532,2163 2511,2171 2501,2166 2463,2184 2452,2204 2457,2210 2446,2215 2445,2239 2422,2254 2420,2257 2417,2258 2408,2267 2389,2267 2388,2273 2389,2274 2391,2288 2354,2300 2352,2312 2346,2323 2346,2325 2363,2330 2373,2321 2394,2323 2394,2323 2446,2323 2458,2321 2467,2312 2483,2316 2491,2315 2489,2327 2490,2335Z" fill="#A80000"/>
<path d="M2980,2265 2948,2234 2917,2197 2901,2161 2875,2187 2865,2205 2812,2218 2807,2197 2703,2208 2718,2244 2718,2396 2760,2380 2818,2328 3025,2315 3025,2313Z" fill="#FFAA00"/>
<path d="M2535,2150 2556,2155 2582,2140 2614,2135 2648,2108 2645,2030 2614,2009 2598,2009 2595,2030 2572,2030 2561,2046 2538,2056 2530,2077 2546,2098 2537,2115 2538,2124 2545,2128 2535,2143Z" fill="#FFAA00"/>
<path d="M2530,2077 2538,2056 2561,2046 2572,2030 2595,2030 2598,2009 2608,2006 2598,1988 2593,1957 2595,1925 2567,1943 2539,1964 2525,1975 2509,1999 2499,2030 2501,2038 2511,2058 2523,2071Z" fill="#FFD37F"/>
<path d="M3423,1821 3376,1849 3379,1866 3352,1873 3355,1901 3348,1943 3345,1988 3355,2041 3366,2065 3397,2058 3432,2041 3463,2030 3460,2016 3442,1999 3449,1988 3487,1971 3500,1929 3456,1884 3460,1835 3439,1804 3423,1797Z" fill="#A80000"/>
<path d="M3421,2191 3393,2163 3397,2128 3379,2089 3366,2065 3355,2041 3345,1988 3338,1961 3313,1974 3292,1999 3278,2006 3285,2016 3271,2020 3230,2023 3219,2037 3223,2051 3216,2058 3226,2086 3149,2083 3167,2128 3181,2212 3189,2209 3210,2212 3220,2207 3234,2212 3259,2211 3276,2216 3287,2226 3301,2235 3314,2232 3323,2223 3318,2212 3311,2202 3328,2185 3346,2176 3355,2185 3360,2198 3398,2193 3421,2197Z" fill="#FFAA00"/>
<path d="M2686,1891 2717,1905 2756,1908 2801,1910 2832,1896 2902,1872 2906,1849 2916,1828 2944,1811 2906,1778 2874,1793 2798,1792 2700,1804 2689,1814 2666,1818 2664,1821 2656,1832 2654,1846 2675,1863 2679,1876 2679,1877 2686,1891 2686,1891Z" fill="#FFAA00"/>
<path d="M3338,1330 3341,1337 3418,1424 3442,1428 3467,1417 3500,1396 3546,1378 3626,1336 3647,1301 3649,1296 3659,1261 3635,1233 3618,1215 3590,1215 3572,1198 3565,1170 3590,1139 3600,1111 3572,1135 3537,1156 3510,1174 3477,1184Z" fill="#FF5500"/>
<path d="M3470,1467 3494,1462 3515,1462 3550,1444 3605,1409 3654,1378 3689,1361 3731,1378 3731,1368 3703,1343 3665,1300 3647,1301 3626,1336 3546,1378 3500,1396 3470,1420 3455,1448Z" fill="#FFAA00"/>
<path d="M3659,1261 3649,1296 3665,1300 3703,1343 3731,1368 3738,1338 3751,1332 3744,1316 3736,1288 3746,1261 3754,1240 3762,1208 3736,1191 3720,1193 3704,1185 3686,1188 3668,1211 3635,1233Z" fill="#A80000"/>
<path d="M3425,1455 3397,1469 3393,1494 3379,1511 3362,1539 3348,1550 3352,1563 3360,1588 3362,1644 3440,1650 3500,1636 3529,1635 3552,1601 3586,1549 3599,1523 3586,1507 3592,1465 3615,1429 3604,1405 3560,1424 3547,1442 3516,1460 3494,1462 3470,1467 3455,1452 3432,1431Z" fill="#E60000"/>
<path d="M4475,1152 4437,1148 4429,1159 4418,1177 4411,1207 4414,1229 4413,1248 4437,1251 4459,1248 4474,1255 4496,1255 4492,1240 4489,1231 4485,1222 4482,1210 4479,1201 4476,1154 4476,1152Z" fill="#A80000"/>
<path d="M2280,996 2273,1006 2262,1004 2261,992 2250,1009 2226,1023 2205,1027 2184,1016 2170,994 2163,1009 2135,1020 2111,1009 2111,1048 2079,1051 2051,1048 2045,1062 2015,1062 2007,1074 2018,1105 2128,1178 2143,1194 2292,1172 2292,1170 2280,1171 2285,1170 2290,1152 2295,1131 2293,1124 2290,1117 2285,1104 2288,1062 2285,1027 2299,1013Z" fill="#E60000"/>
</g>
<path d="M1440,804 1435,810 1418,818 1420,858 1428,867 1444,860 1449,869 1456,876 1488,876 1500,885 1503,895 1510,902 1508,916 1521,923 1529,919 1549,923 1557,935 1561,947 1578,949 1583,961 1587,963 1609,947 1632,946 1639,951 1714,982 1731,986 1749,965 1766,944 1787,930 1792,916 1798,914 1799,923 1805,940 1815,946 1820,939 1819,921 1829,902 1848,898 1866,897 1867,885 1874,883 1880,895 1892,900 1909,891 1932,881 1939,867 1935,850 1960,855 1975,849 1978,835 1977,821 1996,800 2006,786 2051,783 2041,766 2050,755 2041,745 2050,738 2045,727 2055,719 2057,705 2069,694 2099,684 2107,692 2125,696 2156,691 2179,687 2219,670 2224,675 2247,680 2252,666 2278,661 2316,663 2322,638 2337,631 2376,630 2383,612 2421,602 2442,590 2477,588 2497,563 2518,562 2529,574 2565,583 2571,630 2565,668 2578,678 2546,710 2543,724 2510,729 2494,748 2478,769 2473,792 2435,793 2426,811 2414,813 2393,832 2383,849 2383,867 2372,881 2369,888 2363,912 2376,929 2367,943 2363,971 2362,996 2348,1013 2299,1013 2285,1027 2288,1062 2285,1104 2290,1117 2290,1114 2295,1131 2290,1152 2285,1170 2280,1171 2329,1166 2349,1164 2407,1168 2428,1159 2454,1164 2449,1184 2466,1194 2470,1205 2463,1229 2473,1246 2471,1253 2494,1285 2511,1285 2532,1286 2546,1276 2564,1264 2578,1255 2581,1239 2602,1232 2644,1220 2668,1208 2700,1185 2700,1187 2717,1201 2724,1222 2721,1239 2738,1253 2735,1259 2777,1234 2841,1211 2853,1222 2895,1264 2897,1309 2930,1311 2923,1337 2909,1368 2899,1396 2902,1407 2916,1421 2944,1428 2965,1396 2989,1398 3014,1403 3034,1401 3052,1382 3069,1351 3066,1337 3080,1323 3097,1321 3104,1309 3122,1304 3130,1281 3132,1243 3111,1229 3097,1222 3083,1201 3095,1188 3106,1149 3120,1114 3118,1102 3128,1097 3140,1106 3161,1114 3172,1135 3182,1128 3193,1132 3194,1111 3189,1076 3179,1055 3168,1057 3158,1041 3154,1024 3123,1010 3116,989 3120,961 3130,947 3140,916 3147,883 3207,888 3240,827 3280,839 3316,817 3339,843 3341,885 3322,900 3323,921 3360,932 3362,961 3381,959 3426,959 3485,952 3511,939 3527,944 3538,965 3569,989 3576,1010 3614,1020 3608,1013 3616,1018 3705,1020 3746,1016 3783,1014 3801,1011 3817,1007 3833,1008 3846,999 3856,988 3877,987 3895,995 3911,1003 3927,1001 3937,1021 3953,1026 3966,1033 3971,1024 3992,1021 4008,1026 4029,1028 4044,1029 4049,1022 4063,1026 4068,1034 4091,1035 4105,1045 4129,1058 4144,1081 4157,1090 4225,1082 4246,1081 4254,1068 4265,1084 4267,1092 4278,1101 4293,1106 4306,1102 4319,1101 4330,1086 4340,1081 4351,1062 4364,1054 4374,1065 4385,1078 4398,1082 4416,1076 4424,1065 4447,1062 4458,1060 4474,1047 4476,1045 4476,1154 4479,1201 4492,1240 4500,1267 4497,1280 4494,1290 4500,1306 4508,1306 4513,1364 4513,1340 4518,1379 4523,1395 4539,1418 4560,1429 4549,1463 4547,1486 4549,1507 4552,1536 4557,1549 4560,1580 4568,1601 4575,1622 4583,1648 4602,1661 4604,1680 4599,1706 4596,1732 4594,1764 4591,1740 4595,1779 4594,1805 4598,1829 4591,1858 4589,1876 4586,1907 4581,1939 4575,1970 4574,1988 4570,2004 4562,2031 4552,2027 4536,2021 4521,2027 4513,2017 4497,2021 4481,2014 4466,2009 4450,2014 4442,2009 4437,1996 4427,1986 4421,1970 4427,1949 4421,1941 4408,1933 4398,1923 4387,1910 4374,1902 4361,1889 4351,1882 4330,1885 4314,1886 4296,1876 4280,1873 4267,1869 4249,1876 4236,1865 4215,1859 4191,1858 4176,1863 4160,1873 4147,1882 4126,1881 4125,1894 4110,1897 4110,1907 4100,1911 4083,1915 4059,1926 4044,1936 4033,1933 4023,1920 4007,1928 3983,1944 3978,1962 3970,1975 3965,1991 3957,2014 3944,2027 3942,2038 3960,2040 3955,2054 3947,2069 3952,2085 3960,2090 3942,2098 3918,2103 3892,2098 3871,2106 3855,2119 3834,2132 3808,2142 3787,2142 3761,2153 3746,2158 3735,2164 3729,2164 3698,2172 3680,2178 3639,2178 3635,2191 3618,2209 3579,2205 3551,2211 3537,2218 3534,2226 3517,2223 3503,2211 3485,2214 3478,2202 3468,2195 3443,2195 3429,2198 3398,2193 3360,2198 3355,2185 3346,2176 3328,2185 3311,2202 3318,2212 3323,2223 3314,2232 3301,2235 3287,2226 3276,2216 3259,2211 3234,2212 3220,2207 3210,2212 3189,2209 3175,2214 3161,2218 3156,2261 3147,2272 3154,2279 3147,2296 3140,2303 3119,2305 3111,2312 3102,2303 3095,2306 3081,2300 3060,2289 3043,2286 3027,2300 3026,2298 3025,2316 3028,2330 3021,2337 2995,2328 2986,2344 2979,2361 2976,2420 2962,2434 2950,2445 2959,2455 2976,2466 2969,2476 2945,2487 2917,2501 2920,2511 2889,2509 2896,2521 2864,2535 2854,2548 2840,2542 2805,2556 2770,2567 2736,2586 2711,2607 2690,2616 2687,2633 2655,2636 2621,2619 2610,2603 2575,2598 2575,2584 2589,2569 2575,2560 2565,2567 2542,2549 2539,2532 2544,2528 2540,2518 2511,2511 2507,2501 2520,2490 2516,2473 2528,2469 2525,2459 2526,2431 2518,2403 2526,2379 2520,2354 2506,2351 2490,2337 2488,2318 2467,2312 2453,2325 2415,2325 2373,2321 2363,2330 2345,2325 2352,2312 2354,2300 2391,2288 2389,2274 2378,2267 2408,2267 2418,2257 2445,2239 2446,2215 2463,2184 2501,2166 2511,2171 2532,2163 2529,2152 2545,2128 2538,2124 2536,2100 2529,2079 2511,2058 2497,2030 2501,2009 2518,1980 2539,1964 2567,1943 2597,1924 2599,1919 2625,1912 2653,1901 2686,1891 2679,1877 2675,1863 2654,1846 2656,1832 2666,1818 2658,1807 2644,1799 2619,1797 2609,1779 2588,1774 2571,1764 2557,1758 2536,1751 2529,1731 2511,1715 2494,1710 2477,1694 2442,1694 2431,1704 2410,1703 2376,1731 2374,1746 2344,1762 2318,1767 2309,1762 2261,1764 2247,1771 2255,1793 2240,1807 2229,1828 2217,1846 2215,1863 2184,1873 2163,1884 2149,1891 2142,1905 2121,1915 2104,1908 2085,1915 2083,1927 2057,1933 2055,1947 2032,1964 2024,1974 2011,1995 2024,2002 2025,2016 2008,2032 1999,2016 1992,1995 1940,2006 1960,2012 1937,2012 1934,2019 1909,2036 1874,2053 1883,2057 1890,2069 1874,2071 1864,2085 1843,2102 1832,2118 1820,2123 1812,2120 1794,2125 1787,2114 1766,2099 1749,2109 1735,2116 1730,2134 1737,2154 1728,2168 1702,2163 1686,2151 1683,2134 1665,2123 1648,2134 1613,2148 1592,2156 1587,2165 1557,2167 1540,2154 1533,2130 1538,2116 1522,2102 1535,2095 1529,2080 1522,2064 1519,2050 1500,2038 1489,2024 1474,2043 1449,2053 1447,2060 1435,2069 1420,2059 1400,2050 1400,2060 1390,2069 1367,2071 1366,2083 1341,2081 1310,2088 1299,2080 1292,2085 1280,2078 1270,2071 1268,2060 1258,2050 1252,2036 1238,2022 1233,2008 1214,1994 1212,1984 1191,1966 1177,1951 1184,1938 1184,1928 1212,1923 1214,1918 1242,1902 1235,1888 1240,1872 1244,1855 1258,1841 1254,1820 1247,1823 1265,1812 1292,1802 1299,1788 1289,1774 1299,1756 1313,1729 1331,1708 1334,1690 1345,1669 1341,1648 1331,1634 1334,1629 1310,1624 1296,1621 1280,1607 1275,1589 1256,1570 1217,1572 1226,1560 1221,1549 1226,1544 1228,1523 1242,1506 1244,1478 1230,1464 1235,1439 1216,1422 1184,1405 1163,1398 1170,1387 1176,1368 1162,1344 1169,1335 1160,1326 1160,1324 1170,1317 1188,1310 1186,1299 1202,1299 1205,1289 1237,1282 1244,1275 1235,1271 1265,1229 1275,1228 1271,1216 1289,1209 1275,1203 1261,1191 1263,1181 1254,1174 1256,1163 1249,1155 1242,1137 1254,1125 1252,1114 1268,1104 1265,1094 1259,1076 1268,1069 1266,1059 1278,1045 1275,1024 1284,1017 1282,1003 1299,979 1303,968 1343,926 1339,914 1352,909 1353,895 1376,881 1383,867 1355,864 1343,865 1327,862 1313,855 1334,844 1348,825 1366,815 1404,820Z" fill="none" stroke="#000" stroke-width="2.5" stroke-linejoin="round"/>

<path d="M1160,1407 1186,1318 1233,1274 1265,1284 1333,1308 1395,1313 1453,1289 1505,1281 1526,1255 1573,1224 1599,1213 1683,1219 1751,1224 1803,1208 1855,1195 1918,1187 1975,1166 2007,1187 2017,1219 2023,1245 2049,1281 2080,1313 2117,1334 2169,1349 2221,1355 2273,1365" fill="none" stroke="#828282" stroke-width="5" stroke-linejoin="round" stroke-linecap="round"/><path d="M1975,1166 1996,1083 2017,1015 2049,973 2070,921 2059,853 2090,811 2117,759 2122,696" fill="none" stroke="#828282" stroke-width="5" stroke-linejoin="round" stroke-linecap="round"/><path d="M2017,1213 2080,1198 2127,1177 2153,1161 2205,1140 2258,1125 2289,1117" fill="none" stroke="#828282" stroke-width="5" stroke-linejoin="round" stroke-linecap="round"/><path d="M1233,1889 1275,1902 1317,1894 1359,1910 1406,1899 1432,1884 1474,1855 1521,1839 1536,1821 1573,1800 1594,1800 1630,1795 1662,1758 1683,1722 1688,1690 1735,1675 1777,1638 1829,1622 1892,1612 1934,1591 1975,1601 2023,1625 2049,1607 2080,1586 2117,1570 2148,1544 2185,1518 2258,1515 2310,1515 2327,1500 2351,1483 2383,1476" fill="none" stroke="#828282" stroke-width="5" stroke-linejoin="round" stroke-linecap="round"/><path d="M2329,1167 2339,1235 2337,1314 2339,1376 2358,1408 2405,1444 2452,1460" fill="none" stroke="#828282" stroke-width="5" stroke-linejoin="round" stroke-linecap="round"/><path d="M2263,1365 2300,1387 2368,1418 2452,1460 2499,1455 2535,1429 2582,1403 2655,1376 2744,1355 2760,1335 2781,1355 2823,1413 2875,1429 2922,1444 2953,1470 2985,1507 3000,1523 3063,1523 3115,1497 3189,1502 3236,1518 3267,1544 3319,1565 3398,1601 3450,1622 3500,1627" fill="none" stroke="#828282" stroke-width="5" stroke-linejoin="round" stroke-linecap="round"/><path d="M2339,1477 2368,1476 2452,1460" fill="none" stroke="#828282" stroke-width="5" stroke-linejoin="round" stroke-linecap="round"/><path d="M2452,1460 2441,1502 2431,1544 2425,1591 2431,1627 2452,1690" fill="none" stroke="#828282" stroke-width="5" stroke-linejoin="round" stroke-linecap="round"/><path d="M3063,1847 3084,1821 3136,1795 3215,1774 3267,1753 3319,1732 3372,1700 3413,1653 3450,1622" fill="none" stroke="#828282" stroke-width="5" stroke-linejoin="round" stroke-linecap="round"/><path d="M3173,1052 3215,1037 3267,1029 3283,1021 3293,995 3340,979 3398,976 3445,990 3450,1078 3440,1141 3471,1173 3500,1183" fill="none" stroke="#828282" stroke-width="5" stroke-linejoin="round" stroke-linecap="round"/><path d="M3115,1800 3079,1831 3042,1852 2995,1884 2969,1905 2927,1936 2875,1973 2823,2009 2786,2046 2744,2093 2692,2135 2655,2166 2614,2213 2582,2250 2546,2281 2509,2291 2478,2312" fill="none" stroke="#828282" stroke-width="5" stroke-linejoin="round" stroke-linecap="round"/><path d="M3500,2030 3476,2051 3471,2093 3450,2166 3440,2192" fill="none" stroke="#828282" stroke-width="5" stroke-linejoin="round" stroke-linecap="round"/><path d="M3438,1155 3480,1176 3497,1190 3511,1225 3550,1260 3578,1284 3598,1291 3619,1326 3630,1343 3633,1378 3661,1392 3703,1420 3724,1448 3738,1462 3696,1493 3675,1517" fill="none" stroke="#828282" stroke-width="5" stroke-linejoin="round" stroke-linecap="round"/><path d="M3428,1615 3480,1629 3515,1632 3560,1646 3585,1664 3598,1681 3661,1702 3689,1720 3724,1733 3752,1747 3783,1740 3814,1730 3863,1723 3898,1709 3909,1695 3968,1690 4037,1671 4100,1660 4142,1671 4177,1681 4229,1683 4280,1690" fill="none" stroke="#828282" stroke-width="5" stroke-linejoin="round" stroke-linecap="round"/><path d="M3661,1702 3644,1744 3637,1814 3637,1883 3602,1918 3543,1960 3532,2005 3494,2037 3480,2044 3445,2075" fill="none" stroke="#828282" stroke-width="5" stroke-linejoin="round" stroke-linecap="round"/><path d="M3672,1594 3675,1653 3654,1671 3630,1685 3598,1681" fill="none" stroke="#828282" stroke-width="5" stroke-linejoin="round" stroke-linecap="round"/><path d="M4363,1059 4340,1092 4318,1115 4322,1148 4340,1192 4337,1237 4326,1274 4318,1325 4318,1392 4348,1462 4374,1517 4392,1551 4422,1573 4459,1591 4481,1636 4510,1665" fill="none" stroke="#828282" stroke-width="5" stroke-linejoin="round" stroke-linecap="round"/><path d="M4577,1509 4559,1557 4555,1631 4510,1668 4503,1712 4474,1749 4470,1794 4459,1816 4455,1890 4437,1919 4425,1978" fill="none" stroke="#828282" stroke-width="5" stroke-linejoin="round" stroke-linecap="round"/><path d="M4510,1668 4481,1664 4418,1659 4363,1697 4292,1701 4248,1683 4200,1683" fill="none" stroke="#828282" stroke-width="5" stroke-linejoin="round" stroke-linecap="round"/>
<rect x="1445.9" y="941.6" width="68.0" height="68.0" fill="none" stroke="#000" stroke-width="1.6" stroke-dasharray="9,5"/><rect x="1475.1" y="949.6" width="9.6" height="51.2" fill="#000"/><rect x="1463.1" y="961.6" width="33.6" height="10.0" fill="#000"/><rect x="1745.4" y="949.4" width="68.0" height="68.0" fill="none" stroke="#000" stroke-width="1.6" stroke-dasharray="9,5"/><rect x="1774.6" y="957.4" width="9.6" height="51.2" fill="#000"/><rect x="1762.6" y="969.4" width="33.6" height="10.0" fill="#000"/><rect x="2026.2" y="798.9" width="68.0" height="68.0" fill="none" stroke="#000" stroke-width="1.6" stroke-dasharray="9,5"/><rect x="2055.4" y="806.9" width="9.6" height="51.2" fill="#000"/><rect x="2043.4" y="818.9" width="33.6" height="10.0" fill="#000"/><rect x="2243.1" y="818.7" width="68.0" height="68.0" fill="none" stroke="#000" stroke-width="1.6" stroke-dasharray="9,5"/><rect x="2272.3" y="826.7" width="9.6" height="51.2" fill="#000"/><rect x="2260.3" y="838.7" width="33.6" height="10.0" fill="#000"/><rect x="2281.3" y="944.2" width="68.0" height="68.0" fill="none" stroke="#000" stroke-width="1.6" stroke-dasharray="9,5"/><rect x="2310.5" y="952.2" width="9.6" height="51.2" fill="#000"/><rect x="2298.5" y="964.2" width="33.6" height="10.0" fill="#000"/><rect x="2041.8" y="981.8" width="68.0" height="68.0" fill="none" stroke="#000" stroke-width="1.6" stroke-dasharray="9,5"/><rect x="2071.0" y="989.8" width="9.6" height="51.2" fill="#000"/><rect x="2059.0" y="1001.8" width="33.6" height="10.0" fill="#000"/><rect x="2133.8" y="1020.0" width="68.0" height="68.0" fill="none" stroke="#000" stroke-width="1.6" stroke-dasharray="9,5"/><rect x="2163.0" y="1028.0" width="9.6" height="51.2" fill="#000"/><rect x="2151.0" y="1040.0" width="33.6" height="10.0" fill="#000"/><rect x="1597.5" y="1175.8" width="68.0" height="68.0" fill="none" stroke="#000" stroke-width="1.6" stroke-dasharray="9,5"/><rect x="1626.7" y="1183.8" width="9.6" height="51.2" fill="#000"/><rect x="1614.7" y="1195.8" width="33.6" height="10.0" fill="#000"/><rect x="1717.7" y="1190.9" width="68.0" height="68.0" fill="none" stroke="#000" stroke-width="1.6" stroke-dasharray="9,5"/><rect x="1746.9" y="1198.9" width="9.6" height="51.2" fill="#000"/><rect x="1734.9" y="1210.9" width="33.6" height="10.0" fill="#000"/><rect x="1970.2" y="1185.7" width="68.0" height="68.0" fill="none" stroke="#000" stroke-width="1.6" stroke-dasharray="9,5"/><rect x="1999.4" y="1193.7" width="9.6" height="51.2" fill="#000"/><rect x="1987.4" y="1205.7" width="33.6" height="10.0" fill="#000"/><rect x="1490.3" y="1238.0" width="68.0" height="68.0" fill="none" stroke="#000" stroke-width="1.6" stroke-dasharray="9,5"/><rect x="1519.5" y="1246.0" width="9.6" height="51.2" fill="#000"/><rect x="1507.5" y="1258.0" width="33.6" height="10.0" fill="#000"/><rect x="1309.0" y="1282.9" width="68.0" height="68.0" fill="none" stroke="#000" stroke-width="1.6" stroke-dasharray="9,5"/><rect x="1338.2" y="1290.9" width="9.6" height="51.2" fill="#000"/><rect x="1326.2" y="1302.9" width="33.6" height="10.0" fill="#000"/><rect x="1199.2" y="1299.7" width="68.0" height="68.0" fill="none" stroke="#000" stroke-width="1.6" stroke-dasharray="9,5"/><rect x="1228.4" y="1307.7" width="9.6" height="51.2" fill="#000"/><rect x="1216.4" y="1319.7" width="33.6" height="10.0" fill="#000"/><rect x="1506.0" y="1299.7" width="68.0" height="68.0" fill="none" stroke="#000" stroke-width="1.6" stroke-dasharray="9,5"/><rect x="1535.2" y="1307.7" width="9.6" height="51.2" fill="#000"/><rect x="1523.2" y="1319.7" width="33.6" height="10.0" fill="#000"/><rect x="2137.5" y="1315.3" width="68.0" height="68.0" fill="none" stroke="#000" stroke-width="1.6" stroke-dasharray="9,5"/><rect x="2166.7" y="1323.3" width="9.6" height="51.2" fill="#000"/><rect x="2154.7" y="1335.3" width="33.6" height="10.0" fill="#000"/><rect x="2205.5" y="1333.6" width="68.0" height="68.0" fill="none" stroke="#000" stroke-width="1.6" stroke-dasharray="9,5"/><rect x="2234.7" y="1341.6" width="9.6" height="51.2" fill="#000"/><rect x="2222.7" y="1353.6" width="33.6" height="10.0" fill="#000"/><rect x="1346.6" y="1481.1" width="68.0" height="68.0" fill="none" stroke="#000" stroke-width="1.6" stroke-dasharray="9,5"/><rect x="1375.8" y="1489.1" width="9.6" height="51.2" fill="#000"/><rect x="1363.8" y="1501.1" width="33.6" height="10.0" fill="#000"/><rect x="2123.4" y="1496.8" width="68.0" height="68.0" fill="none" stroke="#000" stroke-width="1.6" stroke-dasharray="9,5"/><rect x="2152.6" y="1504.8" width="9.6" height="51.2" fill="#000"/><rect x="2140.6" y="1516.8" width="33.6" height="10.0" fill="#000"/><rect x="1844.8" y="1571.6" width="68.0" height="68.0" fill="none" stroke="#000" stroke-width="1.6" stroke-dasharray="9,5"/><rect x="1874.0" y="1579.6" width="9.6" height="51.2" fill="#000"/><rect x="1862.0" y="1591.6" width="33.6" height="10.0" fill="#000"/><rect x="1646.1" y="1656.2" width="68.0" height="68.0" fill="none" stroke="#000" stroke-width="1.6" stroke-dasharray="9,5"/><rect x="1675.3" y="1664.2" width="9.6" height="51.2" fill="#000"/><rect x="1663.3" y="1676.2" width="33.6" height="10.0" fill="#000"/><rect x="2082.6" y="1864.3" width="68.0" height="68.0" fill="none" stroke="#000" stroke-width="1.6" stroke-dasharray="9,5"/><rect x="2111.8" y="1872.3" width="9.6" height="51.2" fill="#000"/><rect x="2099.8" y="1884.3" width="33.6" height="10.0" fill="#000"/><rect x="1770.0" y="2053.5" width="68.0" height="68.0" fill="none" stroke="#000" stroke-width="1.6" stroke-dasharray="9,5"/><rect x="1799.2" y="2061.5" width="9.6" height="51.2" fill="#000"/><rect x="1787.2" y="2073.5" width="33.6" height="10.0" fill="#000"/><rect x="2839.4" y="1221.1" width="68.0" height="68.0" fill="none" stroke="#000" stroke-width="1.6" stroke-dasharray="9,5"/><rect x="2868.6" y="1229.1" width="9.6" height="51.2" fill="#000"/><rect x="2856.6" y="1241.1" width="33.6" height="10.0" fill="#000"/><rect x="2574.4" y="1348.6" width="68.0" height="68.0" fill="none" stroke="#000" stroke-width="1.6" stroke-dasharray="9,5"/><rect x="2603.6" y="1356.6" width="9.6" height="51.2" fill="#000"/><rect x="2591.6" y="1368.6" width="33.6" height="10.0" fill="#000"/><rect x="2722.4" y="1306.8" width="68.0" height="68.0" fill="none" stroke="#000" stroke-width="1.6" stroke-dasharray="9,5"/><rect x="2751.6" y="1314.8" width="9.6" height="51.2" fill="#000"/><rect x="2739.6" y="1326.8" width="33.6" height="10.0" fill="#000"/><rect x="2427.0" y="1428.6" width="68.0" height="68.0" fill="none" stroke="#000" stroke-width="1.6" stroke-dasharray="9,5"/><rect x="2456.2" y="1436.6" width="9.6" height="51.2" fill="#000"/><rect x="2444.2" y="1448.6" width="33.6" height="10.0" fill="#000"/><rect x="2896.9" y="1414.5" width="68.0" height="68.0" fill="none" stroke="#000" stroke-width="1.6" stroke-dasharray="9,5"/><rect x="2926.1" y="1422.5" width="9.6" height="51.2" fill="#000"/><rect x="2914.1" y="1434.5" width="33.6" height="10.0" fill="#000"/><rect x="2383.6" y="1567.2" width="68.0" height="68.0" fill="none" stroke="#000" stroke-width="1.6" stroke-dasharray="9,5"/><rect x="2412.8" y="1575.2" width="9.6" height="51.2" fill="#000"/><rect x="2400.8" y="1587.2" width="33.6" height="10.0" fill="#000"/><rect x="3205.4" y="1491.4" width="68.0" height="68.0" fill="none" stroke="#000" stroke-width="1.6" stroke-dasharray="9,5"/><rect x="3234.6" y="1499.4" width="9.6" height="51.2" fill="#000"/><rect x="3222.6" y="1511.4" width="33.6" height="10.0" fill="#000"/><rect x="2801.8" y="1610.0" width="68.0" height="68.0" fill="none" stroke="#000" stroke-width="1.6" stroke-dasharray="9,5"/><rect x="2831.0" y="1618.0" width="9.6" height="51.2" fill="#000"/><rect x="2819.0" y="1630.0" width="33.6" height="10.0" fill="#000"/><rect x="2600.6" y="1607.9" width="68.0" height="68.0" fill="none" stroke="#000" stroke-width="1.6" stroke-dasharray="9,5"/><rect x="2629.8" y="1615.9" width="9.6" height="51.2" fill="#000"/><rect x="2617.8" y="1627.9" width="33.6" height="10.0" fill="#000"/><rect x="2429.6" y="1609.0" width="68.0" height="68.0" fill="none" stroke="#000" stroke-width="1.6" stroke-dasharray="9,5"/><rect x="2458.8" y="1617.0" width="9.6" height="51.2" fill="#000"/><rect x="2446.8" y="1629.0" width="33.6" height="10.0" fill="#000"/><rect x="3093.5" y="1658.6" width="68.0" height="68.0" fill="none" stroke="#000" stroke-width="1.6" stroke-dasharray="9,5"/><rect x="3122.7" y="1666.6" width="9.6" height="51.2" fill="#000"/><rect x="3110.7" y="1678.6" width="33.6" height="10.0" fill="#000"/><rect x="2344.4" y="1648.2" width="68.0" height="68.0" fill="none" stroke="#000" stroke-width="1.6" stroke-dasharray="9,5"/><rect x="2373.6" y="1656.2" width="9.6" height="51.2" fill="#000"/><rect x="2361.6" y="1668.2" width="33.6" height="10.0" fill="#000"/><rect x="2567.6" y="1678.0" width="68.0" height="68.0" fill="none" stroke="#000" stroke-width="1.6" stroke-dasharray="9,5"/><rect x="2596.8" y="1686.0" width="9.6" height="51.2" fill="#000"/><rect x="2584.8" y="1698.0" width="33.6" height="10.0" fill="#000"/><rect x="3236.7" y="992.0" width="68.0" height="68.0" fill="none" stroke="#000" stroke-width="1.6" stroke-dasharray="9,5"/><rect x="3265.9" y="1000.0" width="9.6" height="51.2" fill="#000"/><rect x="3253.9" y="1012.0" width="33.6" height="10.0" fill="#000"/><rect x="3407.5" y="972.5" width="68.0" height="68.0" fill="none" stroke="#000" stroke-width="1.6" stroke-dasharray="9,5"/><rect x="3436.7" y="980.5" width="9.6" height="51.2" fill="#000"/><rect x="3424.7" y="992.5" width="33.6" height="10.0" fill="#000"/><rect x="3392.5" y="1885.2" width="68.0" height="68.0" fill="none" stroke="#000" stroke-width="1.6" stroke-dasharray="9,5"/><rect x="3421.7" y="1893.2" width="9.6" height="51.2" fill="#000"/><rect x="3409.7" y="1905.2" width="33.6" height="10.0" fill="#000"/><rect x="2933.5" y="1869.0" width="68.0" height="68.0" fill="none" stroke="#000" stroke-width="1.6" stroke-dasharray="9,5"/><rect x="2962.7" y="1877.0" width="9.6" height="51.2" fill="#000"/><rect x="2950.7" y="1889.0" width="33.6" height="10.0" fill="#000"/><rect x="3125.9" y="2015.3" width="68.0" height="68.0" fill="none" stroke="#000" stroke-width="1.6" stroke-dasharray="9,5"/><rect x="3155.1" y="2023.3" width="9.6" height="51.2" fill="#000"/><rect x="3143.1" y="2035.3" width="33.6" height="10.0" fill="#000"/><rect x="3217.4" y="2125.6" width="68.0" height="68.0" fill="none" stroke="#000" stroke-width="1.6" stroke-dasharray="9,5"/><rect x="3246.6" y="2133.6" width="9.6" height="51.2" fill="#000"/><rect x="3234.6" y="2145.6" width="33.6" height="10.0" fill="#000"/><rect x="2924.7" y="2155.4" width="68.0" height="68.0" fill="none" stroke="#000" stroke-width="1.6" stroke-dasharray="9,5"/><rect x="2953.9" y="2163.4" width="9.6" height="51.2" fill="#000"/><rect x="2941.9" y="2175.4" width="33.6" height="10.0" fill="#000"/><rect x="2519.5" y="2223.4" width="68.0" height="68.0" fill="none" stroke="#000" stroke-width="1.6" stroke-dasharray="9,5"/><rect x="2548.7" y="2231.4" width="9.6" height="51.2" fill="#000"/><rect x="2536.7" y="2243.4" width="33.6" height="10.0" fill="#000"/><rect x="3763.1" y="1027.0" width="68.0" height="68.0" fill="none" stroke="#000" stroke-width="1.6" stroke-dasharray="9,5"/><rect x="3792.3" y="1035.0" width="9.6" height="51.2" fill="#000"/><rect x="3780.3" y="1047.0" width="33.6" height="10.0" fill="#000"/><rect x="3865.2" y="987.0" width="68.0" height="68.0" fill="none" stroke="#000" stroke-width="1.6" stroke-dasharray="9,5"/><rect x="3894.4" y="995.0" width="9.6" height="51.2" fill="#000"/><rect x="3882.4" y="1007.0" width="33.6" height="10.0" fill="#000"/><rect x="3865.2" y="1100.2" width="68.0" height="68.0" fill="none" stroke="#000" stroke-width="1.6" stroke-dasharray="9,5"/><rect x="3894.4" y="1108.2" width="9.6" height="51.2" fill="#000"/><rect x="3882.4" y="1120.2" width="33.6" height="10.0" fill="#000"/><rect x="3997.6" y="1115.9" width="68.0" height="68.0" fill="none" stroke="#000" stroke-width="1.6" stroke-dasharray="9,5"/><rect x="4026.8" y="1123.9" width="9.6" height="51.2" fill="#000"/><rect x="4014.8" y="1135.9" width="33.6" height="10.0" fill="#000"/><rect x="4024.4" y="1117.6" width="68.0" height="68.0" fill="none" stroke="#000" stroke-width="1.6" stroke-dasharray="9,5"/><rect x="4053.6" y="1125.6" width="9.6" height="51.2" fill="#000"/><rect x="4041.6" y="1137.6" width="33.6" height="10.0" fill="#000"/><rect x="4155.1" y="1121.1" width="68.0" height="68.0" fill="none" stroke="#000" stroke-width="1.6" stroke-dasharray="9,5"/><rect x="4184.3" y="1129.1" width="9.6" height="51.2" fill="#000"/><rect x="4172.3" y="1141.1" width="33.6" height="10.0" fill="#000"/><rect x="3940.8" y="1187.3" width="68.0" height="68.0" fill="none" stroke="#000" stroke-width="1.6" stroke-dasharray="9,5"/><rect x="3970.0" y="1195.3" width="9.6" height="51.2" fill="#000"/><rect x="3958.0" y="1207.3" width="33.6" height="10.0" fill="#000"/><rect x="4044.6" y="1182.1" width="68.0" height="68.0" fill="none" stroke="#000" stroke-width="1.6" stroke-dasharray="9,5"/><rect x="4073.8" y="1190.1" width="9.6" height="51.2" fill="#000"/><rect x="4061.8" y="1202.1" width="33.6" height="10.0" fill="#000"/><rect x="3695.8" y="1269.2" width="68.0" height="68.0" fill="none" stroke="#000" stroke-width="1.6" stroke-dasharray="9,5"/><rect x="3725.0" y="1277.2" width="9.6" height="51.2" fill="#000"/><rect x="3713.0" y="1289.2" width="33.6" height="10.0" fill="#000"/><rect x="3831.0" y="1230.9" width="68.0" height="68.0" fill="none" stroke="#000" stroke-width="1.6" stroke-dasharray="9,5"/><rect x="3860.2" y="1238.9" width="9.6" height="51.2" fill="#000"/><rect x="3848.2" y="1250.9" width="33.6" height="10.0" fill="#000"/><rect x="3857.1" y="1230.9" width="68.0" height="68.0" fill="none" stroke="#000" stroke-width="1.6" stroke-dasharray="9,5"/><rect x="3886.3" y="1238.9" width="9.6" height="51.2" fill="#000"/><rect x="3874.3" y="1250.9" width="33.6" height="10.0" fill="#000"/><rect x="3972.1" y="1255.3" width="68.0" height="68.0" fill="none" stroke="#000" stroke-width="1.6" stroke-dasharray="9,5"/><rect x="4001.3" y="1263.3" width="9.6" height="51.2" fill="#000"/><rect x="3989.3" y="1275.3" width="33.6" height="10.0" fill="#000"/><rect x="3838.0" y="1283.1" width="68.0" height="68.0" fill="none" stroke="#000" stroke-width="1.6" stroke-dasharray="9,5"/><rect x="3867.2" y="1291.1" width="9.6" height="51.2" fill="#000"/><rect x="3855.2" y="1303.1" width="33.6" height="10.0" fill="#000"/><rect x="4189.9" y="1333.7" width="68.0" height="68.0" fill="none" stroke="#000" stroke-width="1.6" stroke-dasharray="9,5"/><rect x="4219.1" y="1341.7" width="9.6" height="51.2" fill="#000"/><rect x="4207.1" y="1353.7" width="33.6" height="10.0" fill="#000"/><rect x="3973.2" y="1321.5" width="68.0" height="68.0" fill="none" stroke="#000" stroke-width="1.6" stroke-dasharray="9,5"/><rect x="4002.4" y="1329.5" width="9.6" height="51.2" fill="#000"/><rect x="3990.4" y="1341.5" width="33.6" height="10.0" fill="#000"/><rect x="3940.8" y="1361.5" width="68.0" height="68.0" fill="none" stroke="#000" stroke-width="1.6" stroke-dasharray="9,5"/><rect x="3970.0" y="1369.5" width="9.6" height="51.2" fill="#000"/><rect x="3958.0" y="1381.5" width="33.6" height="10.0" fill="#000"/><rect x="4070.7" y="1326.7" width="68.0" height="68.0" fill="none" stroke="#000" stroke-width="1.6" stroke-dasharray="9,5"/><rect x="4099.9" y="1334.7" width="9.6" height="51.2" fill="#000"/><rect x="4087.9" y="1346.7" width="33.6" height="10.0" fill="#000"/><rect x="4193.4" y="1385.9" width="68.0" height="68.0" fill="none" stroke="#000" stroke-width="1.6" stroke-dasharray="9,5"/><rect x="4222.6" y="1393.9" width="9.6" height="51.2" fill="#000"/><rect x="4210.6" y="1405.9" width="33.6" height="10.0" fill="#000"/><rect x="3789.2" y="1431.2" width="68.0" height="68.0" fill="none" stroke="#000" stroke-width="1.6" stroke-dasharray="9,5"/><rect x="3818.4" y="1439.2" width="9.6" height="51.2" fill="#000"/><rect x="3806.4" y="1451.2" width="33.6" height="10.0" fill="#000"/><rect x="3705.6" y="1427.7" width="68.0" height="68.0" fill="none" stroke="#000" stroke-width="1.6" stroke-dasharray="9,5"/><rect x="3734.8" y="1435.7" width="9.6" height="51.2" fill="#000"/><rect x="3722.8" y="1447.7" width="33.6" height="10.0" fill="#000"/><rect x="3925.1" y="1412.1" width="68.0" height="68.0" fill="none" stroke="#000" stroke-width="1.6" stroke-dasharray="9,5"/><rect x="3954.3" y="1420.1" width="9.6" height="51.2" fill="#000"/><rect x="3942.3" y="1432.1" width="33.6" height="10.0" fill="#000"/><rect x="3468.6" y="1521.7" width="68.0" height="68.0" fill="none" stroke="#000" stroke-width="1.6" stroke-dasharray="9,5"/><rect x="3497.8" y="1529.7" width="9.6" height="51.2" fill="#000"/><rect x="3485.8" y="1541.7" width="33.6" height="10.0" fill="#000"/><rect x="3557.5" y="1518.3" width="68.0" height="68.0" fill="none" stroke="#000" stroke-width="1.6" stroke-dasharray="9,5"/><rect x="3586.7" y="1526.3" width="9.6" height="51.2" fill="#000"/><rect x="3574.7" y="1538.3" width="33.6" height="10.0" fill="#000"/><rect x="3651.6" y="1490.4" width="68.0" height="68.0" fill="none" stroke="#000" stroke-width="1.6" stroke-dasharray="9,5"/><rect x="3680.8" y="1498.4" width="9.6" height="51.2" fill="#000"/><rect x="3668.8" y="1510.4" width="33.6" height="10.0" fill="#000"/><rect x="3583.6" y="1492.1" width="68.0" height="68.0" fill="none" stroke="#000" stroke-width="1.6" stroke-dasharray="9,5"/><rect x="3612.8" y="1500.1" width="9.6" height="51.2" fill="#000"/><rect x="3600.8" y="1512.1" width="33.6" height="10.0" fill="#000"/><rect x="3735.2" y="1497.4" width="68.0" height="68.0" fill="none" stroke="#000" stroke-width="1.6" stroke-dasharray="9,5"/><rect x="3764.4" y="1505.4" width="9.6" height="51.2" fill="#000"/><rect x="3752.4" y="1517.4" width="33.6" height="10.0" fill="#000"/><rect x="3846.7" y="1488.6" width="68.0" height="68.0" fill="none" stroke="#000" stroke-width="1.6" stroke-dasharray="9,5"/><rect x="3875.9" y="1496.6" width="9.6" height="51.2" fill="#000"/><rect x="3863.9" y="1508.6" width="33.6" height="10.0" fill="#000"/><rect x="3991.3" y="1499.1" width="68.0" height="68.0" fill="none" stroke="#000" stroke-width="1.6" stroke-dasharray="9,5"/><rect x="4020.5" y="1507.1" width="9.6" height="51.2" fill="#000"/><rect x="4008.5" y="1519.1" width="33.6" height="10.0" fill="#000"/><rect x="4118.5" y="1504.3" width="68.0" height="68.0" fill="none" stroke="#000" stroke-width="1.6" stroke-dasharray="9,5"/><rect x="4147.7" y="1512.3" width="9.6" height="51.2" fill="#000"/><rect x="4135.7" y="1524.3" width="33.6" height="10.0" fill="#000"/><rect x="4020.9" y="1577.5" width="68.0" height="68.0" fill="none" stroke="#000" stroke-width="1.6" stroke-dasharray="9,5"/><rect x="4050.1" y="1585.5" width="9.6" height="51.2" fill="#000"/><rect x="4038.1" y="1597.5" width="33.6" height="10.0" fill="#000"/><rect x="4109.8" y="1565.3" width="68.0" height="68.0" fill="none" stroke="#000" stroke-width="1.6" stroke-dasharray="9,5"/><rect x="4139.0" y="1573.3" width="9.6" height="51.2" fill="#000"/><rect x="4127.0" y="1585.3" width="33.6" height="10.0" fill="#000"/><rect x="4186.4" y="1570.5" width="68.0" height="68.0" fill="none" stroke="#000" stroke-width="1.6" stroke-dasharray="9,5"/><rect x="4215.6" y="1578.5" width="9.6" height="51.2" fill="#000"/><rect x="4203.6" y="1590.5" width="33.6" height="10.0" fill="#000"/><rect x="3550.5" y="1570.5" width="68.0" height="68.0" fill="none" stroke="#000" stroke-width="1.6" stroke-dasharray="9,5"/><rect x="3579.7" y="1578.5" width="9.6" height="51.2" fill="#000"/><rect x="3567.7" y="1590.5" width="33.6" height="10.0" fill="#000"/><rect x="3642.2" y="1619.3" width="68.0" height="68.0" fill="none" stroke="#000" stroke-width="1.6" stroke-dasharray="9,5"/><rect x="3671.4" y="1627.3" width="9.6" height="51.2" fill="#000"/><rect x="3659.4" y="1639.3" width="33.6" height="10.0" fill="#000"/><rect x="3722.3" y="1567.0" width="68.0" height="68.0" fill="none" stroke="#000" stroke-width="1.6" stroke-dasharray="9,5"/><rect x="3751.5" y="1575.0" width="9.6" height="51.2" fill="#000"/><rect x="3739.5" y="1587.0" width="33.6" height="10.0" fill="#000"/><rect x="3752.6" y="1621.1" width="68.0" height="68.0" fill="none" stroke="#000" stroke-width="1.6" stroke-dasharray="9,5"/><rect x="3781.8" y="1629.1" width="9.6" height="51.2" fill="#000"/><rect x="3769.8" y="1641.1" width="33.6" height="10.0" fill="#000"/><rect x="4163.8" y="1593.2" width="68.0" height="68.0" fill="none" stroke="#000" stroke-width="1.6" stroke-dasharray="9,5"/><rect x="4193.0" y="1601.2" width="9.6" height="51.2" fill="#000"/><rect x="4181.0" y="1613.2" width="33.6" height="10.0" fill="#000"/><rect x="3607.0" y="1650.7" width="68.0" height="68.0" fill="none" stroke="#000" stroke-width="1.6" stroke-dasharray="9,5"/><rect x="3636.2" y="1658.7" width="9.6" height="51.2" fill="#000"/><rect x="3624.2" y="1670.7" width="33.6" height="10.0" fill="#000"/><rect x="4209.1" y="1709.9" width="68.0" height="68.0" fill="none" stroke="#000" stroke-width="1.6" stroke-dasharray="9,5"/><rect x="4238.3" y="1717.9" width="9.6" height="51.2" fill="#000"/><rect x="4226.3" y="1729.9" width="33.6" height="10.0" fill="#000"/><rect x="4160.3" y="1706.4" width="68.0" height="68.0" fill="none" stroke="#000" stroke-width="1.6" stroke-dasharray="9,5"/><rect x="4189.5" y="1714.4" width="9.6" height="51.2" fill="#000"/><rect x="4177.5" y="1726.4" width="33.6" height="10.0" fill="#000"/><rect x="3855.4" y="1716.9" width="68.0" height="68.0" fill="none" stroke="#000" stroke-width="1.6" stroke-dasharray="9,5"/><rect x="3884.6" y="1724.9" width="9.6" height="51.2" fill="#000"/><rect x="3872.6" y="1736.9" width="33.6" height="10.0" fill="#000"/><rect x="3967.6" y="1751.7" width="68.0" height="68.0" fill="none" stroke="#000" stroke-width="1.6" stroke-dasharray="9,5"/><rect x="3996.8" y="1759.7" width="9.6" height="51.2" fill="#000"/><rect x="3984.8" y="1771.7" width="33.6" height="10.0" fill="#000"/><rect x="3595.1" y="1776.1" width="68.0" height="68.0" fill="none" stroke="#000" stroke-width="1.6" stroke-dasharray="9,5"/><rect x="3624.3" y="1784.1" width="9.6" height="51.2" fill="#000"/><rect x="3612.3" y="1796.1" width="33.6" height="10.0" fill="#000"/><rect x="3701.1" y="1776.1" width="68.0" height="68.0" fill="none" stroke="#000" stroke-width="1.6" stroke-dasharray="9,5"/><rect x="3730.3" y="1784.1" width="9.6" height="51.2" fill="#000"/><rect x="3718.3" y="1796.1" width="33.6" height="10.0" fill="#000"/><rect x="3838.0" y="1797.0" width="68.0" height="68.0" fill="none" stroke="#000" stroke-width="1.6" stroke-dasharray="9,5"/><rect x="3867.2" y="1805.0" width="9.6" height="51.2" fill="#000"/><rect x="3855.2" y="1817.0" width="33.6" height="10.0" fill="#000"/><rect x="4094.1" y="1762.2" width="68.0" height="68.0" fill="none" stroke="#000" stroke-width="1.6" stroke-dasharray="9,5"/><rect x="4123.3" y="1770.2" width="9.6" height="51.2" fill="#000"/><rect x="4111.3" y="1782.2" width="33.6" height="10.0" fill="#000"/><rect x="4001.7" y="1790.0" width="68.0" height="68.0" fill="none" stroke="#000" stroke-width="1.6" stroke-dasharray="9,5"/><rect x="4030.9" y="1798.0" width="9.6" height="51.2" fill="#000"/><rect x="4018.9" y="1810.0" width="33.6" height="10.0" fill="#000"/><rect x="4177.7" y="1834.6" width="68.0" height="68.0" fill="none" stroke="#000" stroke-width="1.6" stroke-dasharray="9,5"/><rect x="4206.9" y="1842.6" width="9.6" height="51.2" fill="#000"/><rect x="4194.9" y="1854.6" width="33.6" height="10.0" fill="#000"/><rect x="3688.9" y="1981.7" width="68.0" height="68.0" fill="none" stroke="#000" stroke-width="1.6" stroke-dasharray="9,5"/><rect x="3718.1" y="1989.7" width="9.6" height="51.2" fill="#000"/><rect x="3706.1" y="2001.7" width="33.6" height="10.0" fill="#000"/><rect x="4367.4" y="1121.2" width="68.0" height="68.0" fill="none" stroke="#000" stroke-width="1.6" stroke-dasharray="9,5"/><rect x="4396.6" y="1129.2" width="9.6" height="51.2" fill="#000"/><rect x="4384.6" y="1141.2" width="33.6" height="10.0" fill="#000"/><rect x="4464.6" y="1198.9" width="68.0" height="68.0" fill="none" stroke="#000" stroke-width="1.6" stroke-dasharray="9,5"/><rect x="4493.8" y="1206.9" width="9.6" height="51.2" fill="#000"/><rect x="4481.8" y="1218.9" width="33.6" height="10.0" fill="#000"/><rect x="4337.9" y="1304.2" width="68.0" height="68.0" fill="none" stroke="#000" stroke-width="1.6" stroke-dasharray="9,5"/><rect x="4367.1" y="1312.2" width="9.6" height="51.2" fill="#000"/><rect x="4355.1" y="1324.2" width="33.6" height="10.0" fill="#000"/><rect x="4291.7" y="1331.9" width="68.0" height="68.0" fill="none" stroke="#000" stroke-width="1.6" stroke-dasharray="9,5"/><rect x="4320.9" y="1339.9" width="9.6" height="51.2" fill="#000"/><rect x="4308.9" y="1351.9" width="33.6" height="10.0" fill="#000"/><rect x="4251.0" y="1405.8" width="68.0" height="68.0" fill="none" stroke="#000" stroke-width="1.6" stroke-dasharray="9,5"/><rect x="4280.2" y="1413.8" width="9.6" height="51.2" fill="#000"/><rect x="4268.2" y="1425.8" width="33.6" height="10.0" fill="#000"/><rect x="4512.7" y="1394.7" width="68.0" height="68.0" fill="none" stroke="#000" stroke-width="1.6" stroke-dasharray="9,5"/><rect x="4541.9" y="1402.7" width="9.6" height="51.2" fill="#000"/><rect x="4529.9" y="1414.7" width="33.6" height="10.0" fill="#000"/><rect x="4537.5" y="1461.3" width="68.0" height="68.0" fill="none" stroke="#000" stroke-width="1.6" stroke-dasharray="9,5"/><rect x="4566.7" y="1469.3" width="9.6" height="51.2" fill="#000"/><rect x="4554.7" y="1481.3" width="33.6" height="10.0" fill="#000"/><rect x="4315.0" y="1600.6" width="68.0" height="68.0" fill="none" stroke="#000" stroke-width="1.6" stroke-dasharray="9,5"/><rect x="4344.2" y="1608.6" width="9.6" height="51.2" fill="#000"/><rect x="4332.2" y="1620.6" width="33.6" height="10.0" fill="#000"/><rect x="4417.3" y="1583.9" width="68.0" height="68.0" fill="none" stroke="#000" stroke-width="1.6" stroke-dasharray="9,5"/><rect x="4446.5" y="1591.9" width="9.6" height="51.2" fill="#000"/><rect x="4434.5" y="1603.9" width="33.6" height="10.0" fill="#000"/><rect x="4459.8" y="1585.8" width="68.0" height="68.0" fill="none" stroke="#000" stroke-width="1.6" stroke-dasharray="9,5"/><rect x="4489.0" y="1593.8" width="9.6" height="51.2" fill="#000"/><rect x="4477.0" y="1605.8" width="33.6" height="10.0" fill="#000"/><rect x="4537.5" y="1576.6" width="68.0" height="68.0" fill="none" stroke="#000" stroke-width="1.6" stroke-dasharray="9,5"/><rect x="4566.7" y="1584.6" width="9.6" height="51.2" fill="#000"/><rect x="4554.7" y="1596.6" width="33.6" height="10.0" fill="#000"/><rect x="4468.3" y="1722.5" width="68.0" height="68.0" fill="none" stroke="#000" stroke-width="1.6" stroke-dasharray="9,5"/><rect x="4497.5" y="1730.5" width="9.6" height="51.2" fill="#000"/><rect x="4485.5" y="1742.5" width="33.6" height="10.0" fill="#000"/><rect x="4278.7" y="1850.1" width="68.0" height="68.0" fill="none" stroke="#000" stroke-width="1.6" stroke-dasharray="9,5"/><rect x="4307.9" y="1858.1" width="9.6" height="51.2" fill="#000"/><rect x="4295.9" y="1870.1" width="33.6" height="10.0" fill="#000"/><rect x="4550.4" y="1925.8" width="68.0" height="68.0" fill="none" stroke="#000" stroke-width="1.6" stroke-dasharray="9,5"/><rect x="4579.6" y="1933.8" width="9.6" height="51.2" fill="#000"/><rect x="4567.6" y="1945.8" width="33.6" height="10.0" fill="#000"/><rect x="4456.9" y="1885.2" width="68.0" height="68.0" fill="none" stroke="#000" stroke-width="1.6" stroke-dasharray="9,5"/><rect x="4486.1" y="1893.2" width="9.6" height="51.2" fill="#000"/><rect x="4474.1" y="1905.2" width="33.6" height="10.0" fill="#000"/><rect x="4449.9" y="1970.2" width="68.0" height="68.0" fill="none" stroke="#000" stroke-width="1.6" stroke-dasharray="9,5"/><rect x="4479.1" y="1978.2" width="9.6" height="51.2" fill="#000"/><rect x="4467.1" y="1990.2" width="33.6" height="10.0" fill="#000"/><rect x="3791.3" y="2098.0" width="68.0" height="68.0" fill="none" stroke="#000" stroke-width="1.6" stroke-dasharray="9,5"/><rect x="3820.5" y="2106.0" width="9.6" height="51.2" fill="#000"/><rect x="3808.5" y="2118.0" width="33.6" height="10.0" fill="#000"/>
<g class="lab"><text x="1382" y="858">PDT</text><text x="1316" y="955">BBT</text><text x="1406" y="960">JCD</text><text x="1497" y="976">URU</text><text x="1683" y="980">LAT</text><text x="1611" y="1035">VPL</text><text x="1778" y="1028">STC</text><text x="1878" y="963">BSC</text><text x="1971" y="899">BDS</text><text x="2096" y="833">CDR</text><text x="2284" y="848">BDC</text><text x="2299" y="966">SBT</text><text x="2145" y="976">RDC</text><text x="1991" y="1001">JRC</text><text x="2085" y="1031">MTG</text><text x="1931" y="1067">LGO</text><text x="2166" y="1107">PUL</text><text x="1790" y="1106">SFC</text><text x="1325" y="1067">TRI</text><text x="1407" y="1055">PJM</text><text x="1328" y="1188">STH</text><text x="1461" y="1186">SJR</text><text x="1640" y="1195">SOU</text><text x="1759" y="1245">APAC</text><text x="1870" y="1264">SDG</text><text x="1990" y="1237">PBL</text><text x="2200" y="1231">VSR</text><text x="1272" y="1261">BMJ</text><text x="1530" y="1268">MZP</text><text x="1360" y="1349">CJZ</text><text x="1216" y="1376">CDI</text><text x="1544" y="1385">NZZ</text><text x="1691" y="1392">SJL</text><text x="2070" y="1326">SAB</text><text x="2153" y="1381">CDD</text><text x="2246" y="1346">MAT</text><text x="1981" y="1408">CZR</text><text x="1527" y="1466">CRR</text><text x="1624" y="1492">AGR</text><text x="1847" y="1487">CRM</text><text x="1377" y="1513">SJP</text><text x="2041" y="1527">EMA</text><text x="2305" y="1538">STT</text><text x="2157" y="1576">CAT</text><text x="1707" y="1578">IGY</text><text x="1339" y="1610">MTE</text><text x="1486" y="1610">SRG</text><text x="1880" y="1624">PNC</text><text x="1529" y="1665">SJC</text><text x="1395" y="1691">BSF</text><text x="1666" y="1690">ITG</text><text x="2028" y="1704">ODA</text><text x="2297" y="1682">MDA</text><text x="1505" y="1777">DIT</text><text x="1848" y="1790">STG</text><text x="2179" y="1789">IMC</text><text x="1640" y="1822">BVA</text><text x="1735" y="1837">PBA</text><text x="1319" y="1879">CCÇ</text><text x="1455" y="1872">IBI</text><text x="1791" y="1891">NOL</text><text x="1968" y="1898">JUR</text><text x="2118" y="1876">AUB</text><text x="1654" y="1922">CLV</text><text x="1504" y="1996">STM</text><text x="1897" y="2007">TVR</text><text x="1798" y="2032">PRI</text><text x="1304" y="2033">STI</text><text x="1716" y="2072">SJP</text><text x="1623" y="2088">MAÍ</text><text x="2362" y="1288">SJE</text><text x="2676" y="1284">VZA</text><text x="2850" y="1301">SJS</text><text x="2602" y="1401">SMM</text><text x="2793" y="1399">ATL</text><text x="2435" y="1455">PAT</text><text x="3157" y="1202">NPL</text><text x="3385" y="1242">SOS</text><text x="3180" y="1284">PLA</text><text x="3351" y="1147">BRU</text><text x="3287" y="1369">CBT</text><text x="3182" y="1403">SVS</text><text x="3027" y="1446">TNR</text><text x="2887" y="1467">JDS</text><text x="3336" y="1472">OLD</text><text x="2566" y="1504">QXB</text><text x="2718" y="1518">ABN</text><text x="3061" y="1529">JZN</text><text x="2940" y="1545">ASS</text><text x="2827" y="1568">SGD</text><text x="2645" y="1573">PSS</text><text x="2423" y="1583">SJB</text><text x="2536" y="1593">CDA</text><text x="3224" y="1583">SOL</text><text x="2816" y="1674">TPA</text><text x="2598" y="1658">CCB</text><text x="2478" y="1684">TXE</text><text x="3024" y="1683">ATA</text><text x="3161" y="1725">GJÃ</text><text x="2369" y="1736">MTE</text><text x="2598" y="1737">DET</text><text x="3353" y="1743">BVA</text><text x="2713" y="1782">LIVR</text><text x="2966" y="1778">PAT</text><text x="2496" y="686">BBC</text><text x="2404" y="765">SJB</text><text x="3167" y="956">FMO</text><text x="3298" y="1017">PCI</text><text x="3398" y="1017">NFT</text><text x="3547" y="1074">CTE</text><text x="2787" y="1864">SJC</text><text x="3114" y="1900">SJC</text><text x="3276" y="1905">CBC</text><text x="3411" y="1961">BQO</text><text x="2646" y="1978">APR</text><text x="2931" y="1968">SEB</text><text x="2548" y="2021">OUV</text><text x="3190" y="2024">SDC</text><text x="2973" y="2050">CXX</text><text x="2588" y="2100">PRT</text><text x="2738" y="2090">SMÉ</text><text x="3280" y="2136">BSM</text><text x="3402" y="2129">RSA</text><text x="3110" y="2190">CUB</text><text x="2966" y="2206">CNG</text><text x="2574" y="2293">MON</text><text x="2831" y="2288">CML</text><text x="2574" y="2446">ZBL</text><text x="2851" y="2452">SJT</text><text x="2611" y="2522">SSU</text><text x="3544" y="1072">CTE</text><text x="3778" y="1076">ARU</text><text x="3883" y="1087">RAÇ</text><text x="4010" y="1097">TCM</text><text x="4105" y="1108">LGR</text><text x="3881" y="1156">DIN</text><text x="3736" y="1167">CDD</text><text x="3632" y="1184">DMÃ</text><text x="4086" y="1162">CCR</text><text x="4210" y="1151">JCR</text><text x="4219" y="1220">POR</text><text x="3909" y="1240">BNN</text><text x="4004" y="1236">BLM</text><text x="4123" y="1237">LDD</text><text x="3698" y="1283">CSG</text><text x="3802" y="1280">SLN</text><text x="3912" y="1306">BBM</text><text x="4091" y="1292">STZ</text><text x="4191" y="1291">CDC</text><text x="4004" y="1334">PPT</text><text x="3515" y="1310">BSR</text><text x="3875" y="1361">SRR</text><text x="3779" y="1374">ARR</text><text x="4208" y="1355">ITR</text><text x="3586" y="1400">AJA</text><text x="4024" y="1409">GRB</text><text x="4121" y="1397">ARG</text><text x="3905" y="1414">POS</text><text x="3695" y="1429">RMG</text><text x="4220" y="1442">CDM</text><text x="3813" y="1475">ARE</text><text x="3963" y="1482">ALH</text><text x="3548" y="1510">AREL</text><text x="3651" y="1512">ESP</text><text x="4062" y="1528">MUG</text><text x="3483" y="1554">PCH</text><text x="3580" y="1587">MTD</text><text x="3673" y="1587">SSR</text><text x="3763" y="1568">ALN</text><text x="3912" y="1571">ALG</text><text x="4162" y="1573">MAR</text><text x="4254" y="1583">SAP</text><text x="4064" y="1602">CBA</text><text x="3589" y="1642">PNN</text><text x="3680" y="1640">GS</text><text x="3832" y="1658">SER</text><text x="3921" y="1663">JTR</text><text x="4042" y="1656">GRM</text><text x="4222" y="1674">SBD</text><text x="3578" y="1724">CGA</text><text x="3762" y="1714">MSS</text><text x="3856" y="1729">RDB</text><text x="4115" y="1735">SJR</text><text x="4240" y="1730">SMT</text><text x="3867" y="1792">ING</text><text x="3989" y="1782">MGR</text><text x="4194" y="1785">PIL</text><text x="3622" y="1865">QMD</text><text x="3736" y="1866">FUD</text><text x="3863" y="1886">TIB</text><text x="4110" y="1836">ITB</text><text x="4009" y="1897">SDF</text><text x="4226" y="1853">JPG</text><text x="3503" y="1879">CUT</text><text x="3592" y="2015">BDS</text><text x="3814" y="2001">ARS</text><text x="3706" y="2047">GBV</text><text x="3921" y="2020">NAT</text><text x="4414" y="1133">MTR</text><text x="4444" y="1228">BTÇ</text><text x="4292" y="1272">MGP</text><text x="4433" y="1304">MAC</text><text x="4433" y="1396">RTO</text><text x="4320" y="1439">CPM</text><text x="4505" y="1463">LUC</text><text x="4597" y="1518">CBD</text><text x="4560" y="1572">CBD</text><text x="4438" y="1596">STR</text><text x="4337" y="1670">CES</text><text x="4461" y="1661">BYX</text><text x="4549" y="1692">JPA</text><text x="4542" y="1800">CDN</text><text x="4346" y="1841">PDF</text><text x="4496" y="1859">ALD</text><text x="4557" y="1936">PIT</text><text x="4481" y="1992">CAP</text><text x="3494" y="2132">ACT</text><text x="3616" y="2158">ACE</text><text x="3752" y="2130">UMB</text></g>
<rect x="3874" y="17" width="787" height="583" fill="#fff" stroke="#000" stroke-width="6"/>
<g fill="none" stroke="#6E6E6E" stroke-width="1.5" stroke-linejoin="round"><path d="M4155.8,43.1 4166.6,56.1 4160.1,81.9 4175.2,99.2 4214.1,81.9 4231.3,84.1 4259.3,77.6 4276.6,56.1 4287.4,79.8 4300.3,92.7 4296.0,107.8 4317.6,120.8 4347.8,127.2 4369.3,135.9 4375.8,148.8 4403.8,153.1 4434.0,155.3 4451.3,163.9 4466.4,181.2 4485.8,187.6 4496.6,189.8 4503.0,207.0 4498.7,232.9 4490.1,252.3 4477.2,263.1 4459.9,280.4 4442.7,301.9 4440.5,336.4 4434.0,366.6 4425.4,388.2 4412.5,409.7 4395.2,431.3 4360.7,433.5 4343.5,444.3 4317.6,457.2 4308.9,474.4 4311.1,487.4 4296.0,513.3 4283.1,530.5 4270.1,552.1 4255.0,571.5 4248.6,573.6 4250.7,558.6 4231.3,541.3 4214.1,532.7 4199.0,525.3 4222.7,496.0 4246.4,483.1 4246.4,472.3 4235.6,463.7 4239.9,439.9 4224.8,439.9 4216.2,416.2 4192.5,416.2 4190.3,383.9 4201.1,353.7 4186.0,345.1 4183.9,336.4 4162.3,336.4 4155.8,301.9 4127.8,293.3 4101.9,286.8 4089.0,258.8 4069.6,252.3 4048.0,269.6 4020.0,269.6 4020.0,250.2 3998.4,258.8 3985.5,248.0 3972.5,222.1 3983.3,202.7 4002.7,181.2 4024.3,174.7 4032.9,125.1 4024.3,112.1 4026.4,90.6 4058.8,86.3 4076.0,105.7 4101.9,97.0 4114.9,84.1 4097.6,71.2 4095.4,56.1 4119.2,64.7 4140.7,53.9Z" fill="#fff"/><path d="M4175.2,99.2 4177.4,129.4 4214.1,144.5 4181.7,207.0 4188.2,224.3 4140.7,236.4"/><path d="M4114.9,84.1 4127.8,125.1 4140.7,135.9 4158.0,112.1 4175.2,112.1"/><path d="M3972.5,222.1 4024.3,225.1 4058.8,248.0 4089.0,250.2"/><path d="M4140.7,236.4 4142.9,265.3 4162.3,267.4 4164.5,284.7 4155.8,301.9"/><path d="M4188.2,224.3 4205.4,242.4 4293.9,249.3"/><path d="M4349.9,133.7 4339.1,172.5 4317.6,189.8 4306.8,224.3 4293.9,249.3 4287.4,289.0 4311.1,297.6 4345.6,293.3"/><path d="M4231.3,84.1 4250.7,103.5 4265.8,131.6 4287.4,116.5 4296.0,107.8"/><path d="M4408.2,155.3 4395.2,172.5 4390.9,202.7 4360.7,220.0 4352.1,254.5 4360.7,263.1 4378.0,248.0 4416.8,241.5 4425.4,220.0 4437.5,219.1"/><path d="M4414.6,157.4 4421.1,194.1 4427.6,220.0"/><path d="M4345.6,293.3 4347.8,319.2 4373.6,312.7 4408.2,332.1 4427.6,338.6 4440.5,336.4"/><path d="M4287.4,289.0 4278.8,319.2 4257.2,340.7 4252.9,362.3 4280.9,379.6 4287.4,370.9 4328.4,364.5 4332.7,340.7 4347.8,319.2"/><path d="M4162.3,336.4 4186.0,345.1"/><path d="M4201.1,353.7 4231.3,351.5 4252.9,362.3"/><path d="M4280.9,379.6 4268.0,403.3 4257.2,420.5 4244.3,424.8 4239.9,439.9"/><path d="M4280.9,386.0 4326.2,390.3 4339.1,427.0 4360.7,433.5"/><path d="M4427.6,338.6 4416.8,366.6 4408.2,375.2 4397.4,409.7"/><path d="M4257.2,420.5 4291.7,427.0 4300.3,450.7 4313.3,457.2"/><path d="M4246.4,472.3 4274.4,476.6 4308.9,470.1"/><path d="M4246.4,483.1 4287.4,493.9 4296.0,506.8"/><path d="M4459.9,241.5 4479.3,248.0 4490.1,252.3"/><path d="M4455.6,263.1 4472.8,258.8"/><path d="M4317.6,328.7 4329.7,327.8 4329.7,334.3 4317.6,334.3 4317.6,328.7"/></g><path d="M4449.1,215.7 4455.6,207.0 4466.4,202.7 4472.8,211.3 4485.8,207.0 4500.9,209.2 4502.2,226.4 4490.1,224.3 4477.2,230.8 4470.7,232.9 4466.4,224.3 4451.3,226.4Z" fill="#F9C77C" stroke="none"/><rect x="4438.8" y="198.4" width="69.4" height="40.5" fill="none" stroke="#E60000" stroke-width="5"/>
<rect x="1177" y="2926" width="115" height="75.5" fill="#FFD37F"/><rect x="1177" y="3032" width="115" height="75.5" fill="#FFAA00"/><rect x="1177" y="3137" width="115" height="75.5" fill="#FF5500"/><rect x="1530" y="2926" width="115" height="75.5" fill="#E60000"/><rect x="1530" y="3032" width="115" height="75.5" fill="#A80000"/><rect x="1530" y="3137" width="115" height="75.5" fill="#730000"/><rect x="1171" y="2737.5" width="85" height="85" fill="none" stroke="#000" stroke-width="2" stroke-dasharray="11,6"/><rect x="1208" y="2747.5" width="12" height="64" fill="#000"/><rect x="1192.5" y="2762" width="42" height="12.5" fill="#000"/><path d="M1551,2747.5 H1707" stroke="#828282" stroke-width="5.5" stroke-linecap="round"/><rect x="2040" y="3267" width="951" height="34" fill="#000"/><rect x="2283" y="3273" width="230" height="22" fill="#fff"/><path d="M2449.0,2852 q-12,-14 -2,-24 q4,8 8,2 q-2,-10 10,-8 q-10,8 -2,14 q6,6 -2,16 z" fill="#D2261C"/><rect x="2444.0" y="2852" width="18" height="8" fill="#F08A1E"/><rect x="2447.0" y="2860" width="12" height="16" fill="#E07A12"/><rect x="2444.0" y="2876" width="18" height="8" fill="#F08A1E"/><rect x="2449.0" y="2984" width="8" height="8" fill="#E07A12"/><path d="M2478.6,2852 q-12,-14 -2,-24 q4,8 8,2 q-2,-10 10,-8 q-10,8 -2,14 q6,6 -2,16 z" fill="#D2261C"/><rect x="2473.6" y="2852" width="18" height="8" fill="#F08A1E"/><rect x="2476.6" y="2860" width="12" height="16" fill="#E07A12"/><rect x="2473.6" y="2876" width="18" height="8" fill="#F08A1E"/><rect x="2478.6" y="2984" width="8" height="8" fill="#E07A12"/><path d="M2508.6,2852 q-12,-14 -2,-24 q4,8 8,2 q-2,-10 10,-8 q-10,8 -2,14 q6,6 -2,16 z" fill="#D2261C"/><rect x="2503.6" y="2852" width="18" height="8" fill="#F08A1E"/><rect x="2506.6" y="2860" width="12" height="16" fill="#E07A12"/><rect x="2503.6" y="2876" width="18" height="8" fill="#F08A1E"/><rect x="2508.6" y="2984" width="8" height="8" fill="#E07A12"/><path d="M2442,2872.5 H2524 V2930 Q2524,2958 2483,2959 Q2442,2958 2442,2930 Z" fill="#2F4F8F" stroke="#1B2F5E" stroke-width="1.5"/><path d="M2446,2876 Q2470,2890 2490,2920 Q2505,2940 2520,2945" fill="none" stroke="#fff" stroke-width="5"/><path d="M2458,2874 Q2485,2892 2503,2920 Q2512,2933 2523,2936" fill="none" stroke="#fff" stroke-width="5"/><path d="M2482,2890 q-7,14 0,26 q-12,-10 -18,2 q8,-2 12,6 h-4 v5 h6 q0,8 4,12 q4,-4 4,-12 h6 v-5 h-4 q4,-8 12,-6 q-6,-12 -18,-2 q7,-12 0,-26 z" fill="#F2C318"/><path d="M2425,2952 q14,-6 18,2 q38,14 80,0 q6,-8 18,-2 q2,14 -8,26 q-50,14 -100,0 q-10,-12 -8,-26 z" fill="#fff" stroke="#2F4F8F" stroke-width="2"/><path d="M2432,2966 q50,16 102,0 l-3,14 q-48,13 -96,0 z" fill="#2F4F8F"/><text x="2483" y="2984" font-size="11" fill="#F2C318" text-anchor="middle" style="font-family:'Liberation Serif',serif" font-style="italic">SAPIENTIA ÆDIFICAT</text><rect x="3910" y="2869" width="191" height="190" fill="#37999A"/><circle cx="4006.7" cy="2967.4" r="65" fill="#1C4BA6"/><path d="M3990,2906 q16,-8 34,0 q18,8 28,26 q-8,6 -14,0 q-4,10 4,18 q10,6 12,22 q-2,20 -12,34 q-8,-8 -6,-22 q-10,-10 -8,-24 q-12,-4 -16,-18 q-14,-6 -16,-22 q-10,-2 -6,-14 z" fill="#8DAE3C"/><path d="M3968,2918 q14,-12 30,-12 q-8,10 -20,14 z" fill="#3FB7C9"/><defs><path id="dgc" d="M4006.7,3049.4 a82,82 0 1,1 0.1,0"/></defs><text font-size="19" font-weight="bold" fill="#111" letter-spacing="1.2"><textPath href="#dgc" startOffset="4%">GEOCIÊNCIAS - DGEOC • DEPARTAMENTO DE</textPath></text><rect x="4156" y="2936" width="367" height="108" fill="#fff"/><ellipse cx="4337" cy="3016" rx="176" ry="25" fill="#5A3216"/><ellipse cx="4337" cy="3011" rx="176" ry="24" fill="#B97A33"/><path d="M4400,2990 q70,-4 112,14 q0,16 -40,26 q-40,6 -90,4 z" fill="#5E9B31"/><path d="M4470,2975 q40,4 45,30 q-30,-20 -50,-12 z" fill="#6FB6DC"/><text x="4200" y="3008" font-size="98" font-weight="bold" font-style="italic" fill="#5FA9DD" stroke="#2E78B5" stroke-width="2.5" textLength="285" lengthAdjust="spacingAndGlyphs">LEGAT</text>
</svg>
<div class="lst" style="left:13px;top:162.5px"><div class="b">Água Branca (AUB): 2</div><div class="r">Aguiar (AGR): 0</div><div class="b">Alagoa Grande (ALG): 8</div><div class="b">Alagoa Nova (ALN): 6</div><div class="b">Alagoinha (ALH): 2</div><div class="r">Alcantil (ACT): 0</div><div class="r">Algodão De Jandaíra (AJA): 0</div><div class="b">Alhandra (ALD): 10</div><div class="r">Amparo (APR): 0</div><div class="b">Aparecida (APAC): 1</div><div class="b">Araçagi (ARG): 2</div><div class="r">Arara (ARR): 0</div><div class="b">Araruna (ARU): 4</div><div class="b">Areia (ARE): 1</div><div class="r">Areia De Baraúnas (ABN): 0</div><div class="b">Areial (AREL): 1</div><div class="r">Aroeiras (ARS): 0</div><div class="r">Assunção (ASS): 0</div><div class="b">Baía Da Traição (BTÇ): 3</div><div class="b">Bananeiras (BNN): 1</div><div class="r">Baraúna (BRU): 0</div><div class="r">Barra De Santa Rosa (BSR): 0</div><div class="r">Barra De Santana (BDS): 0</div><div class="b">Barra de S. Miguel (BSM): 1</div><div class="b">Bayeux (BYX): 56</div><div class="b">Belém (BLM): 3</div><div class="r">B. do Brejo do Cruz (BBC): 0</div><div class="r">Bernardino Batista (BBT): 0</div><div class="r">Boa Ventura (BVA): 0</div><div class="r">Boa Vista (BVA): 0</div><div class="r">Bom Jesus (BMJ): 0</div><div class="r">Bom Sucesso (BSC): 0</div><div class="r">Bonito De Santa Fé (BSF): 0</div><div class="b">Boqueirão (BQO): 2</div><div class="r">Borborema (BBM): 0</div><div class="b">Brejo Do Cruz (BDC): 1</div><div class="r">Brejo Dos Santos (BDS): 0</div><div class="b">Caaporã (CAP): 9</div><div class="r">Cabaceiras (CBC): 0</div><div class="b">Cabedelo (CBD): 20</div><div class="b">Cachoeira Dos Índios (CDI): 3</div><div class="r">Cacimba De Areia (CDA): 0</div><div class="r">Cacimba De Dentro (CDD): 0</div><div class="b">Cacimbas (CCB): 1</div><div class="b">Caiçara (CCR): 2</div><div class="b">Cajazeiras (CJZ): 16</div><div class="r">Cajazeirinhas (CZR): 0</div><div class="b">Caldas Brandão (CBA): 2</div><div class="r">Camalaú (CML): 0</div><div class="b">Campina Grande (CGA): 128</div><div class="b">Capim (CPM): 4</div><div class="r">Caraúbas (CUB): 0</div><div class="r">Carrapateira (CRR): 0</div><div class="b">Casserengue (CSG): 1</div><div class="b">Catingueira (CAT): 2</div><div class="b">Catolé Do Rocha (CDR): 7</div><div class="r">Caturité (CUT): 0</div><div class="r">Conceição (CCÇ): 0</div><div class="b">Condado (CDD): 1</div><div class="b">Conde (CDN): 6</div><div class="b">Congo (CNG): 1</div><div class="r">Coremas (CRM): 0</div><div class="r">Coxixola (CXX): 0</div><div class="b">C. do Espírito Santo (CES): 11</div><div class="r">Cubati (CBT): 0</div><div class="b">Cuité (CTE): 1</div><div class="b">C. de Mamanguape (CDM): 3</div><div class="b">Cuitegi (CIG): 3</div><div class="r">Curral De Cima (CDC): 0</div><div class="r">Curral Velho (CLV): 0</div><div class="r">Damião (DMÃ): 0</div><div class="b">Desterro (DET): 1</div><div class="r">Diamante (DIT): 0</div><div class="b">Dona Inês (DIN): 1</div><div class="b">Duas Estradas (DUE): 1</div><div class="r">Emas (EMA): 0</div><div class="b">Esperança (ESP): 3</div><div class="b">Fagundes (FUD): 2</div><div class="r">Frei Martinho (FMO): 0</div><div class="b">Gado Bravo (GBV): 1</div><div class="b">Guarabira (GRB): 22</div></div>
<div class="lst" style="left:420px;top:155.5px"><div class="b">Gurinhém (GRM): 1</div><div class="b">Gurjão (GJÃ): 1</div><div class="r">Ibiara (IBI): 0</div><div class="r">Igaracy (IGY): 0</div><div class="r">Imaculada (IMC): 0</div><div class="b">Ingá (ING): 3</div><div class="b">Itabaiana (ITB): 8</div><div class="b">Itaporanga (ITG): 1</div><div class="b">Itapororoca (ITR): 3</div><div class="b">Itatuba (TIB): 1</div><div class="b">Jacaraú (JCR): 2</div><div class="r">Jericó (JRC): 0</div><div class="b">João Pessoa (JPA): 374</div><div class="r">Joca Claudino (JCD): 0</div><div class="r">Juarez Távora (JTR): 0</div><div class="r">Juazeirinho (JZN): 0</div><div class="b">Junco Do Seridó (JDS): 1</div><div class="b">Juripiranga (JPG): 5</div><div class="r">Juru (JUR): 0</div><div class="r">Lagoa (LGO): 0</div><div class="r">Lagoa De Dentro (LDD): 0</div><div class="b">Lagoa Seca (GS): 5</div><div class="r">Lastro (LAT): 0</div><div class="r">Livramento (LIVR): 0</div><div class="b">Logradouro (LGR): 2</div><div class="b">Lucena (LUC): 2</div><div class="r">Mãe D'água (MDA): 0</div><div class="b">Malta (MAT): 1</div><div class="b">Mamanguape (MGP): 20</div><div class="r">Manaíra (MAÍ): 0</div><div class="r">Marcação (MAC): 0</div><div class="b">Mari (MAR): 7</div><div class="b">Marizópolis (MZP): 1</div><div class="b">Massaranduba (MSS): 1</div><div class="b">Mataraca (MTR): 4</div><div class="b">Matinhas (MTH): 1</div><div class="b">Mato Grosso (MTG): 1</div><div class="b">Maturéia (MTE): 1</div><div class="b">Mogeiro (MGR): 1</div><div class="b">Montadas (MTD): 1</div><div class="r">Monte Horebe (MTE): 0</div><div class="b">Monteiro (MON): 1</div><div class="b">Mulungu (MUG): 3</div><div class="r">Natuba (NAT): 0</div><div class="b">Nazarezinho (NZZ): 1</div><div class="r">Nova Floresta (NFT): 0</div><div class="r">Nova Olinda (NOL): 0</div><div class="r">Nova Palmeira (NPL): 0</div><div class="r">Olho D'água (ODA): 0</div><div class="r">Olivedos (OLD): 0</div><div class="r">Ouro Velho (OUV): 0</div><div class="r">Parari (PAT): 0</div><div class="r">Passagem (PSS): 0</div><div class="b">Patos (PAT): 57</div><div class="b">Paulista (PUL): 1</div><div class="r">Pedra Branca (PBA): 0</div><div class="r">Pedra Lavrada (PLA): 0</div><div class="b">Pedras De Fogo (PDF): 12</div><div class="r">Pedro Régis (POR): 0</div><div class="b">Piancó (PNC): 3</div><div class="b">Picuí (PCI): 2</div><div class="b">Pilar (PIL): 3</div><div class="r">Pilões (POS): 0</div><div class="r">Pilõezinhos (PLZ): 0</div><div class="b">Pirpirituba (PPT): 1</div><div class="b">Pitimbu (PIT): 5</div><div class="b">Pocinhos (PCH): 1</div><div class="r">Poço Dantas (PDT): 0</div><div class="r">Poço José De Moura (PJM): 0</div><div class="b">Pombal (PBL): 1</div><div class="r">Prata (PRT): 0</div><div class="b">Princesa Isabel (PRI): 1</div><div class="b">Puxinanã (PNN): 1</div><div class="b">Queimadas (QMD): 2</div><div class="r">Quixaba (QXB): 0</div><div class="b">Remígio (RMG): 3</div><div class="r">Riachão (RAÇ): 0</div><div class="r">R. do Bacamarte (RDB): 0</div><div class="b">Riachão Do Poço (RDP): 1</div><div class="r">R. de Santo Antônio (RSA): 0</div><div class="r">R. dos Cavalos (RDC): 0</div></div>
<div class="lst" style="left:803px;top:919.0px"><div class="b">Rio Tinto (RTO): 11</div><div class="r">Salgadinho (SGD): 0</div><div class="b">Salgado de São Félix (SDF): 2</div><div class="r">Santa Cecília (ACE): 0</div><div class="b">Santa Cruz (STC): 1</div><div class="r">Santa Helena (STH): 0</div><div class="r">Santa Inês (STI): 0</div><div class="b">Santa Luzia (ATL): 6</div><div class="b">Santa Rita (STR): 100</div><div class="r">Santa Teresinha (STT): 0</div><div class="r">Sant. de Mangueira (STM): 0</div><div class="r">Sant. dos Garrotes (STG): 0</div><div class="r">Santo André (ATA): 0</div><div class="r">São Bentinho (SAB): 0</div><div class="b">São Bento (SBT): 9</div><div class="r">São Domingos (SDG): 0</div><div class="b">S. Domingos do Cariri (SDC): 1</div><div class="r">S. Francisco (SFC): 0</div><div class="r">S. João do Cariri (SJC): 0</div><div class="r">S. João do Rio do Peixe (SJR): 0</div><div class="r">S. João do Tigre (SJT): 0</div><div class="r">S. José da Lagoa Tapada (SJL): 0</div><div class="r">S. José de Caiana (SJC): 0</div><div class="r">S. José de Espinharas (SJE): 0</div><div class="b">S. José de Piranhas (SJP): 1</div><div class="r">S. José de Princesa (SJP): 0</div><div class="b">S. José do Bonfim (SJB): 2</div><div class="r">S. J. do Brejo do Cruz (SJB): 0</div><div class="b">S. José do Sabugi (SJS): 1</div><div class="r">São José Dos Cordeiros (SJC): 0</div><div class="r">São José Dos Ramos (SJR): 0</div><div class="b">São Mamede (SMM): 3</div><div class="b">São Miguel De Taipu (SMT): 2</div><div class="b">São Sebastião de Lagoa De Roça (SSR): 2</div><div class="r">São Sebastião Do Umbuzeiro (SSU): 0</div><div class="r">São Vicente Do Seridó (SVS): 0</div><div class="b">Sapé (SAP): 20</div><div class="b">Serra Branca (SEB): 1</div><div class="r">Serra Da Raiz (SDR): 0</div><div class="r">Serra Grande (SRG): 0</div><div class="r">Serra Redonda (SER): 0</div><div class="b">Serraria (SRR): 1</div><div class="r">Sertãozinho (STZ): 0</div><div class="b">Sobrado (SBD): 2</div><div class="b">Solânea (SLN): 1</div><div class="b">Soledade (SOL): 1</div><div class="r">Sossêgo (SOS): 0</div><div class="b">Sousa (SOU): 4</div><div class="r">Sumé (SMÉ): 0</div><div class="b">Tacima (TCM): 1</div><div class="b">Taperoá (TPA): 2</div><div class="r">Tavares (TVR): 0</div><div class="b">Teixeira (TXE): 2</div><div class="r">Tenório (TNR): 0</div><div class="r">Triunfo (TRI): 0</div><div class="b">Uiraúna (URU): 1</div><div class="b">Umbuzeiro (UMB): 2</div><div class="r">Várzea (VZA): 0</div><div class="r">Vieirópolis (VPL): 0</div><div class="r">Vista Serrana (VSR): 0</div><div class="r">Zabelê (ZBL): 0</div></div>
<div class="t c" style="left:0;top:26.5px;width:750px;font-size:44.3px;font-weight:bold;line-height:49.7px">MUNICÍPIOS (SIGLAS): Óbitos<br>Total Acumulado de Óbitos: 1.082</div>
<div class="t c" style="left:1138px;top:26px;width:2693px;font-size:66.5px;font-weight:bold;line-height:76px;white-space:pre">COVID-19 NO ESTADO DA PARAÍBA: CASOS CONFIRMADOS E  ÓBITOS (04/07/2020)
Total de Casos: 52.302</div>
<div class="t" style="left:1391px;top:2635px;font-size:54.5px;font-weight:bold;line-height:62px">LEGENDA</div>
<div class="t" style="left:1303px;top:2700px;font-size:55px;line-height:64.2px">Óbitos<br>Confirmados</div>
<div class="t" style="left:1736px;top:2715px;font-size:55px;line-height:64px">Rodovias</div>
<div class="t" style="left:1222px;top:2837px;font-size:55.9px;font-weight:bold;line-height:64px">Casos Confirmados</div>
<div class="t" style="left:1341px;top:2933px;font-size:54.5px;line-height:62px">0</div>
<div class="t" style="left:1341px;top:3039.5px;font-size:54.5px;line-height:62px">1 - 10</div>
<div class="t" style="left:1341px;top:3144px;font-size:54.5px;line-height:62px">11 - 50</div>
<div class="t" style="left:1694px;top:2933px;font-size:54.5px;line-height:62px">51 - 100</div>
<div class="t" style="left:1694px;top:3039.5px;font-size:54.5px;line-height:62px">101 - 500</div>
<div class="t" style="left:1694px;top:3144px;font-size:54.5px;line-height:62px">501 - 14.631</div>
<div class="t c" style="left:2178px;top:3028px;width:600px;font-size:49.7px;line-height:57px">Universidade Federal<br>da Paraíba</div>
<div class="t c" style="left:2447px;top:2994px;width:71px;font-size:24.5px;font-weight:bold;color:#3a3a3a;line-height:28px">UFPB</div>
<div class="t c" style="left:2674px;top:2703px;width:1300px;font-size:49.9px;line-height:57.45px">Fonte de Dados: Casos Confirmados<br>e Óbitos por COVID-19 obtidos do Boletim<br>da Secretaria de Estado da Saúde (SES) da Paraíba,<br>Atualizado no dia 04/07/2020;<br>Base Municipal do IBGE (2017).<br>Projeção: Policônica<br>Datum: SIRGAS 2000<br>Elaboração: Thiago da Silva Farias</div>
<div class="t c" style="left:3802px;top:3079.5px;width:800px;font-size:44.3px;line-height:50.9px">Laboratório de Estudos em Gestão<br>de Água e Território -&nbsp;<br>LEGAT/DGEOC (www.ufpb.br/legat)</div>
<div class="t" style="left:2029px;top:3193px;font-size:52px;line-height:60px">0</div>
<div class="t" style="left:2250px;top:3193px;font-size:52px;line-height:60px">30</div>
<div class="t" style="left:2486px;top:3193px;font-size:52px;line-height:60px">60</div>
<div class="t" style="left:2946px;top:3194px;font-size:52px;line-height:60px">120</div>
<div class="t" style="left:3005px;top:3247px;font-size:52px;line-height:60px">Km</div>
<div style="position:absolute;left:0;top:0;width:4679px;height:3308px;box-sizing:border-box;border:3px solid #000;border-bottom-width:5px;border-right-width:3px"></div>
</div>
</body></html>
